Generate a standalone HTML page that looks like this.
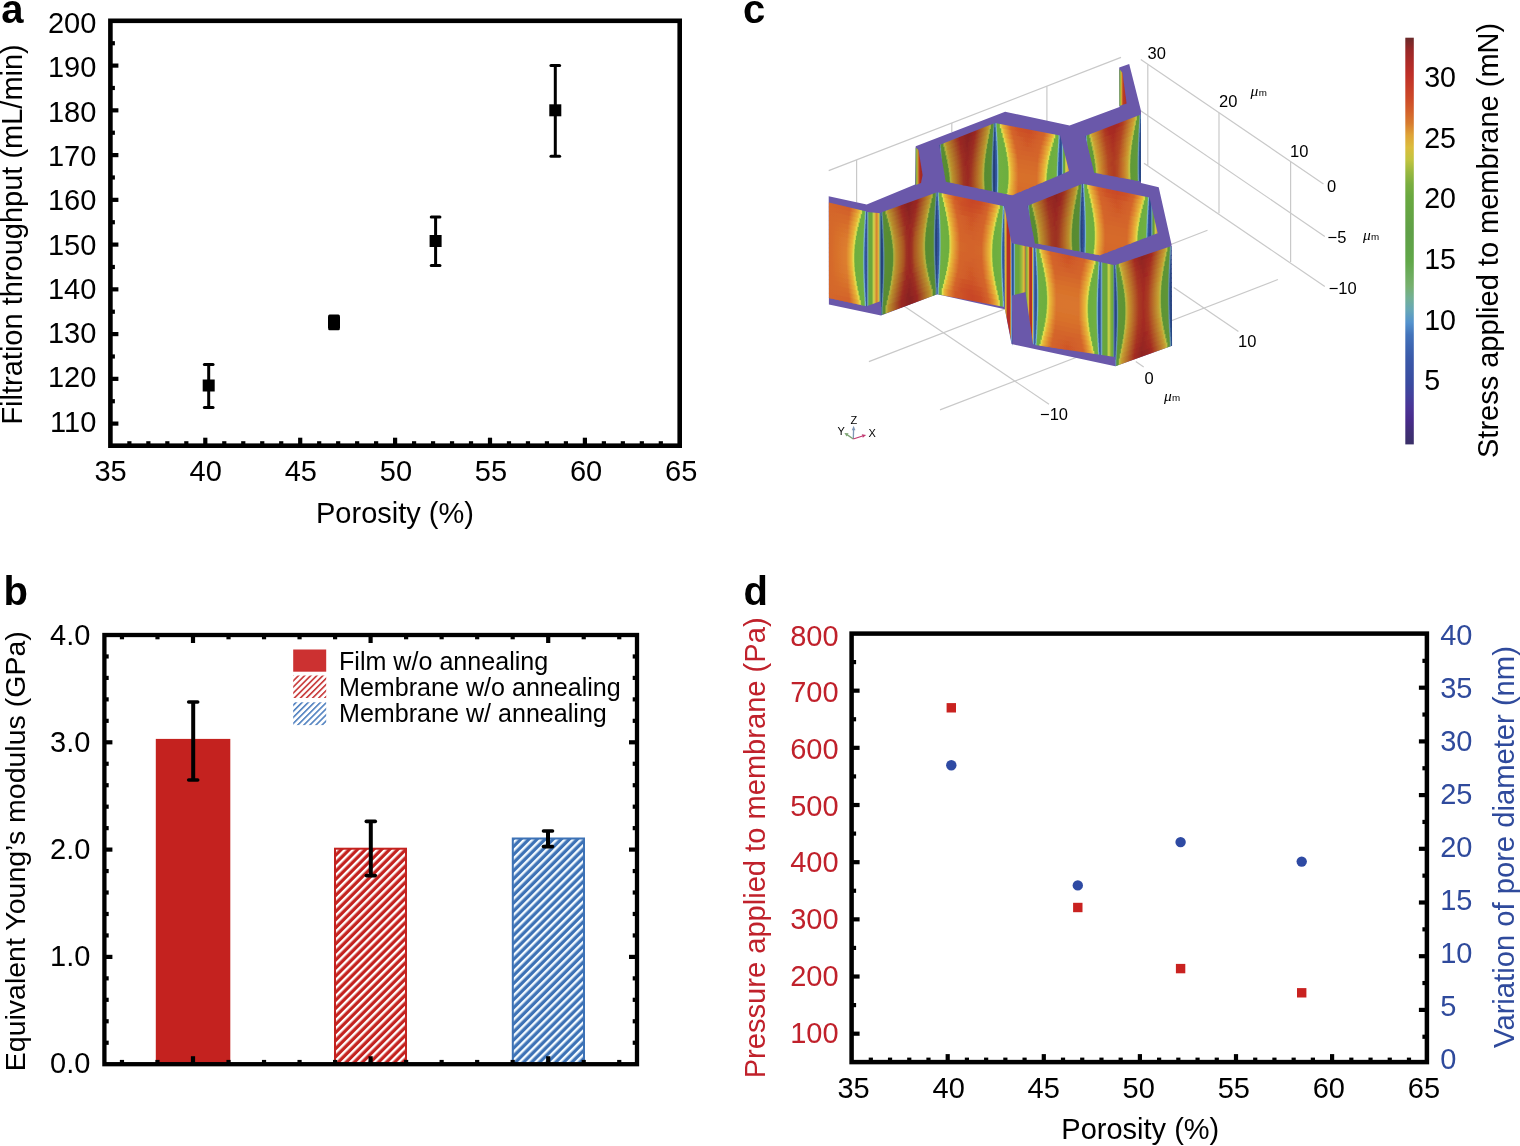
<!DOCTYPE html>
<html><head><meta charset="utf-8"><title>Figure</title>
<style>
html,body{margin:0;padding:0;background:#fff;}
svg{display:block;}
text{font-family:'Liberation Sans', Arial, Helvetica, sans-serif;}
</style></head><body>
<svg width="1520" height="1146" viewBox="0 0 1520 1146">
<defs><pattern id="hr" patternUnits="userSpaceOnUse" width="5.7" height="10" patternTransform="rotate(45)"><rect width="5.7" height="10" fill="#c4221f"/><rect x="0" width="2.4" height="10" fill="#fff"/></pattern><pattern id="hb" patternUnits="userSpaceOnUse" width="5.7" height="10" patternTransform="rotate(45)"><rect width="5.7" height="10" fill="#3d72b6"/><rect x="0" width="2.4" height="10" fill="#f4fbff"/></pattern><pattern id="lr" patternUnits="userSpaceOnUse" width="4.3" height="10" patternTransform="rotate(45)"><rect width="4.3" height="10" fill="#fff"/><rect x="0" width="1.6" height="10" fill="#c83a3a"/></pattern><pattern id="lb" patternUnits="userSpaceOnUse" width="4.3" height="10" patternTransform="rotate(45)"><rect width="4.3" height="10" fill="#fff"/><rect x="0" width="1.6" height="10" fill="#4f80bf"/></pattern><linearGradient id="cb" x1="0" y1="0" x2="0" y2="1"><stop offset="0" stop-color="#6a2a2a"/><stop offset="0.03" stop-color="#982828"/><stop offset="0.06" stop-color="#ad2b28"/><stop offset="0.09" stop-color="#be2f28"/><stop offset="0.12" stop-color="#c63c28"/><stop offset="0.15" stop-color="#cd4a28"/><stop offset="0.18" stop-color="#d3602b"/><stop offset="0.21" stop-color="#d77b2f"/><stop offset="0.24" stop-color="#dfa437"/><stop offset="0.27" stop-color="#dbbd3d"/><stop offset="0.3" stop-color="#c2c440"/><stop offset="0.33" stop-color="#99b840"/><stop offset="0.36" stop-color="#7aae40"/><stop offset="0.39" stop-color="#6aa940"/><stop offset="0.42" stop-color="#66a642"/><stop offset="0.45" stop-color="#63a345"/><stop offset="0.48" stop-color="#60a048"/><stop offset="0.52" stop-color="#60a448"/><stop offset="0.55" stop-color="#61a849"/><stop offset="0.58" stop-color="#6cac5c"/><stop offset="0.61" stop-color="#77b06e"/><stop offset="0.64" stop-color="#73b095"/><stop offset="0.67" stop-color="#67a7b7"/><stop offset="0.7" stop-color="#5593cd"/><stop offset="0.73" stop-color="#4374bb"/><stop offset="0.76" stop-color="#3d65b1"/><stop offset="0.79" stop-color="#3a59a9"/><stop offset="0.82" stop-color="#3a52a4"/><stop offset="0.85" stop-color="#3a4ba0"/><stop offset="0.88" stop-color="#43409c"/><stop offset="0.91" stop-color="#4a3496"/><stop offset="0.94" stop-color="#482b8b"/><stop offset="0.97" stop-color="#402e76"/><stop offset="1" stop-color="#3a3068"/></linearGradient><linearGradient id="g0" x1="0" y1="0" x2="1" y2="0"><stop offset="0" stop-color="#d4662a"/><stop offset="0.549" stop-color="#d15e29"/><stop offset="0.699" stop-color="#e18b31"/><stop offset="0.796" stop-color="#e8b538"/><stop offset="0.841" stop-color="#e1d94c"/><stop offset="0.85" stop-color="#e0e050"/><stop offset="0.858" stop-color="#cfd74a"/><stop offset="0.885" stop-color="#6cae40"/><stop offset="0.929" stop-color="#70b042"/><stop offset="0.956" stop-color="#79b4b8"/><stop offset="0.965" stop-color="#7bb3d5"/><stop offset="0.982" stop-color="#3d6bb2"/><stop offset="1" stop-color="#2a4a90"/></linearGradient><linearGradient id="g1" x1="0" y1="0" x2="1" y2="0"><stop offset="0" stop-color="#d4662a"/><stop offset="0.54" stop-color="#d3632a"/><stop offset="0.761" stop-color="#e7b337"/><stop offset="0.814" stop-color="#e1dc4e"/><stop offset="0.823" stop-color="#dcde4f"/><stop offset="0.85" stop-color="#7db440"/><stop offset="0.858" stop-color="#6cae40"/><stop offset="0.92" stop-color="#70b040"/><stop offset="0.929" stop-color="#70b05c"/><stop offset="0.956" stop-color="#80b8d6"/><stop offset="0.973" stop-color="#4372b5"/><stop offset="0.982" stop-color="#325aa1"/><stop offset="1" stop-color="#2a4a90"/></linearGradient><linearGradient id="g2" x1="0" y1="0" x2="1" y2="0"><stop offset="0" stop-color="#d4662a"/><stop offset="0.531" stop-color="#d5682a"/><stop offset="0.735" stop-color="#e7b537"/><stop offset="0.788" stop-color="#e0df4f"/><stop offset="0.796" stop-color="#d5da4c"/><stop offset="0.805" stop-color="#b0c840"/><stop offset="0.823" stop-color="#71b040"/><stop offset="0.912" stop-color="#70b040"/><stop offset="0.92" stop-color="#70b055"/><stop offset="0.947" stop-color="#7eb7ce"/><stop offset="0.956" stop-color="#699ecb"/><stop offset="0.973" stop-color="#355ea6"/><stop offset="1" stop-color="#2a4a90"/></linearGradient><linearGradient id="g3" x1="0" y1="0" x2="1" y2="0"><stop offset="0" stop-color="#d4662a"/><stop offset="0.513" stop-color="#d66c2b"/><stop offset="0.708" stop-color="#e8b538"/><stop offset="0.761" stop-color="#e0e050"/><stop offset="0.77" stop-color="#ced74a"/><stop offset="0.796" stop-color="#6cae40"/><stop offset="0.903" stop-color="#70b040"/><stop offset="0.912" stop-color="#70b04c"/><stop offset="0.938" stop-color="#7cb6c4"/><stop offset="0.947" stop-color="#71a7d0"/><stop offset="0.965" stop-color="#3863ab"/><stop offset="1" stop-color="#2a4a90"/></linearGradient><linearGradient id="g4" x1="0" y1="0" x2="1" y2="0"><stop offset="0" stop-color="#d4662a"/><stop offset="0.504" stop-color="#d8712c"/><stop offset="0.681" stop-color="#e8b538"/><stop offset="0.735" stop-color="#e0e050"/><stop offset="0.743" stop-color="#d0d84b"/><stop offset="0.752" stop-color="#acc640"/><stop offset="0.77" stop-color="#6dae40"/><stop offset="0.903" stop-color="#70b042"/><stop offset="0.929" stop-color="#79b5b9"/><stop offset="0.938" stop-color="#7bb2d5"/><stop offset="0.956" stop-color="#3d6bb2"/><stop offset="0.965" stop-color="#32589f"/><stop offset="1" stop-color="#2a4a90"/></linearGradient><linearGradient id="g5" x1="0" y1="0" x2="1" y2="0"><stop offset="0" stop-color="#d4662a"/><stop offset="0.496" stop-color="#d9752d"/><stop offset="0.655" stop-color="#e7b437"/><stop offset="0.708" stop-color="#e1dd4e"/><stop offset="0.717" stop-color="#dadd4e"/><stop offset="0.743" stop-color="#78b340"/><stop offset="0.752" stop-color="#6cae40"/><stop offset="0.894" stop-color="#70b040"/><stop offset="0.903" stop-color="#70b056"/><stop offset="0.929" stop-color="#7eb7d0"/><stop offset="0.938" stop-color="#689cca"/><stop offset="0.956" stop-color="#345da5"/><stop offset="1" stop-color="#2a4a90"/></linearGradient><linearGradient id="g6" x1="0" y1="0" x2="1" y2="0"><stop offset="0" stop-color="#d4662a"/><stop offset="0.487" stop-color="#db792d"/><stop offset="0.637" stop-color="#e7b537"/><stop offset="0.69" stop-color="#e0e050"/><stop offset="0.699" stop-color="#d2d94b"/><stop offset="0.708" stop-color="#adc740"/><stop offset="0.726" stop-color="#6faf40"/><stop offset="0.885" stop-color="#6fb040"/><stop offset="0.894" stop-color="#70b047"/><stop offset="0.92" stop-color="#7ab5be"/><stop offset="0.929" stop-color="#76add3"/><stop offset="0.947" stop-color="#3967af"/><stop offset="0.956" stop-color="#32589f"/><stop offset="1" stop-color="#2a4a90"/></linearGradient><linearGradient id="g7" x1="0" y1="0" x2="1" y2="0"><stop offset="0" stop-color="#d4662a"/><stop offset="0.478" stop-color="#dc7c2e"/><stop offset="0.619" stop-color="#e7b437"/><stop offset="0.673" stop-color="#e0df4f"/><stop offset="0.681" stop-color="#d6db4d"/><stop offset="0.69" stop-color="#b1c840"/><stop offset="0.708" stop-color="#72b040"/><stop offset="0.717" stop-color="#6cae40"/><stop offset="0.885" stop-color="#70b040"/><stop offset="0.894" stop-color="#70b055"/><stop offset="0.92" stop-color="#7eb7ce"/><stop offset="0.929" stop-color="#699dcb"/><stop offset="0.947" stop-color="#355ea5"/><stop offset="1" stop-color="#2a4a90"/></linearGradient><linearGradient id="g8" x1="0" y1="0" x2="1" y2="0"><stop offset="0" stop-color="#d4662a"/><stop offset="0.469" stop-color="#dc7d2e"/><stop offset="0.611" stop-color="#e8b738"/><stop offset="0.664" stop-color="#dddf4f"/><stop offset="0.681" stop-color="#a2c340"/><stop offset="0.699" stop-color="#6cae40"/><stop offset="0.885" stop-color="#70b040"/><stop offset="0.92" stop-color="#7db5d7"/><stop offset="0.938" stop-color="#3f6eb3"/><stop offset="0.947" stop-color="#3259a0"/><stop offset="1" stop-color="#2a4a90"/></linearGradient><linearGradient id="g9" x1="0" y1="0" x2="1" y2="0"><stop offset="0" stop-color="#d4662a"/><stop offset="0.46" stop-color="#dd7e2e"/><stop offset="0.602" stop-color="#e8b738"/><stop offset="0.655" stop-color="#dddf4f"/><stop offset="0.673" stop-color="#a3c340"/><stop offset="0.69" stop-color="#6cae40"/><stop offset="0.876" stop-color="#6fb040"/><stop offset="0.885" stop-color="#70b047"/><stop offset="0.912" stop-color="#7ab5be"/><stop offset="0.92" stop-color="#76add2"/><stop offset="0.938" stop-color="#3967af"/><stop offset="0.947" stop-color="#32589f"/><stop offset="1" stop-color="#2a4a90"/></linearGradient><linearGradient id="g10" x1="0" y1="0" x2="1" y2="0"><stop offset="0" stop-color="#d4662a"/><stop offset="0.46" stop-color="#dd7f2e"/><stop offset="0.593" stop-color="#e7b437"/><stop offset="0.646" stop-color="#e0de4f"/><stop offset="0.655" stop-color="#d8dc4d"/><stop offset="0.664" stop-color="#b3c941"/><stop offset="0.681" stop-color="#74b140"/><stop offset="0.69" stop-color="#6cae40"/><stop offset="0.876" stop-color="#70b040"/><stop offset="0.885" stop-color="#70b04b"/><stop offset="0.912" stop-color="#7bb6c3"/><stop offset="0.92" stop-color="#73a9d0"/><stop offset="0.938" stop-color="#3864ac"/><stop offset="0.947" stop-color="#31589f"/><stop offset="1" stop-color="#2a4a90"/></linearGradient><linearGradient id="g11" x1="0" y1="0" x2="1" y2="0"><stop offset="0" stop-color="#d4662a"/><stop offset="0.46" stop-color="#dd7f2e"/><stop offset="0.593" stop-color="#e7b437"/><stop offset="0.646" stop-color="#e0de4f"/><stop offset="0.655" stop-color="#d8dc4d"/><stop offset="0.664" stop-color="#b3c941"/><stop offset="0.681" stop-color="#74b140"/><stop offset="0.69" stop-color="#6cae40"/><stop offset="0.876" stop-color="#70b040"/><stop offset="0.885" stop-color="#70b04b"/><stop offset="0.912" stop-color="#7bb6c3"/><stop offset="0.92" stop-color="#73a9d0"/><stop offset="0.938" stop-color="#3864ac"/><stop offset="0.947" stop-color="#31589f"/><stop offset="1" stop-color="#2a4a90"/></linearGradient><linearGradient id="g12" x1="0" y1="0" x2="1" y2="0"><stop offset="0" stop-color="#d4662a"/><stop offset="0.46" stop-color="#dd7e2e"/><stop offset="0.602" stop-color="#e8b738"/><stop offset="0.655" stop-color="#dddf4f"/><stop offset="0.673" stop-color="#a3c340"/><stop offset="0.69" stop-color="#6cae40"/><stop offset="0.876" stop-color="#6fb040"/><stop offset="0.885" stop-color="#70b047"/><stop offset="0.912" stop-color="#7ab5be"/><stop offset="0.92" stop-color="#76add2"/><stop offset="0.938" stop-color="#3967af"/><stop offset="0.947" stop-color="#32589f"/><stop offset="1" stop-color="#2a4a90"/></linearGradient><linearGradient id="g13" x1="0" y1="0" x2="1" y2="0"><stop offset="0" stop-color="#d4662a"/><stop offset="0.469" stop-color="#dc7d2e"/><stop offset="0.611" stop-color="#e8b738"/><stop offset="0.664" stop-color="#dddf4f"/><stop offset="0.681" stop-color="#a2c340"/><stop offset="0.699" stop-color="#6cae40"/><stop offset="0.885" stop-color="#70b040"/><stop offset="0.92" stop-color="#7db5d7"/><stop offset="0.938" stop-color="#3f6eb3"/><stop offset="0.947" stop-color="#3259a0"/><stop offset="1" stop-color="#2a4a90"/></linearGradient><linearGradient id="g14" x1="0" y1="0" x2="1" y2="0"><stop offset="0" stop-color="#d4662a"/><stop offset="0.478" stop-color="#dc7c2e"/><stop offset="0.619" stop-color="#e7b437"/><stop offset="0.673" stop-color="#e0df4f"/><stop offset="0.681" stop-color="#d6db4d"/><stop offset="0.69" stop-color="#b1c840"/><stop offset="0.708" stop-color="#72b040"/><stop offset="0.717" stop-color="#6cae40"/><stop offset="0.885" stop-color="#70b040"/><stop offset="0.894" stop-color="#70b055"/><stop offset="0.92" stop-color="#7eb7ce"/><stop offset="0.929" stop-color="#699dcb"/><stop offset="0.947" stop-color="#355ea5"/><stop offset="1" stop-color="#2a4a90"/></linearGradient><linearGradient id="g15" x1="0" y1="0" x2="1" y2="0"><stop offset="0" stop-color="#d4662a"/><stop offset="0.487" stop-color="#db792d"/><stop offset="0.637" stop-color="#e7b537"/><stop offset="0.69" stop-color="#e0e050"/><stop offset="0.699" stop-color="#d2d94b"/><stop offset="0.708" stop-color="#adc740"/><stop offset="0.726" stop-color="#6faf40"/><stop offset="0.885" stop-color="#6fb040"/><stop offset="0.894" stop-color="#70b047"/><stop offset="0.92" stop-color="#7ab5be"/><stop offset="0.929" stop-color="#76add3"/><stop offset="0.947" stop-color="#3967af"/><stop offset="0.956" stop-color="#32589f"/><stop offset="1" stop-color="#2a4a90"/></linearGradient><linearGradient id="g16" x1="0" y1="0" x2="1" y2="0"><stop offset="0" stop-color="#d4662a"/><stop offset="0.496" stop-color="#d9752d"/><stop offset="0.655" stop-color="#e7b437"/><stop offset="0.708" stop-color="#e1dd4e"/><stop offset="0.717" stop-color="#dadd4e"/><stop offset="0.743" stop-color="#78b340"/><stop offset="0.752" stop-color="#6cae40"/><stop offset="0.894" stop-color="#70b040"/><stop offset="0.903" stop-color="#70b056"/><stop offset="0.929" stop-color="#7eb7d0"/><stop offset="0.938" stop-color="#689cca"/><stop offset="0.956" stop-color="#345da5"/><stop offset="1" stop-color="#2a4a90"/></linearGradient><linearGradient id="g17" x1="0" y1="0" x2="1" y2="0"><stop offset="0" stop-color="#d4662a"/><stop offset="0.504" stop-color="#d8712c"/><stop offset="0.681" stop-color="#e8b538"/><stop offset="0.735" stop-color="#e0e050"/><stop offset="0.743" stop-color="#d0d84b"/><stop offset="0.752" stop-color="#acc640"/><stop offset="0.77" stop-color="#6dae40"/><stop offset="0.903" stop-color="#70b042"/><stop offset="0.929" stop-color="#79b5b9"/><stop offset="0.938" stop-color="#7bb2d5"/><stop offset="0.956" stop-color="#3d6bb2"/><stop offset="0.965" stop-color="#32589f"/><stop offset="1" stop-color="#2a4a90"/></linearGradient><linearGradient id="g18" x1="0" y1="0" x2="1" y2="0"><stop offset="0" stop-color="#d4662a"/><stop offset="0.513" stop-color="#d66c2b"/><stop offset="0.708" stop-color="#e8b538"/><stop offset="0.761" stop-color="#e0e050"/><stop offset="0.77" stop-color="#ced74a"/><stop offset="0.796" stop-color="#6cae40"/><stop offset="0.903" stop-color="#70b040"/><stop offset="0.912" stop-color="#70b04c"/><stop offset="0.938" stop-color="#7cb6c4"/><stop offset="0.947" stop-color="#71a7d0"/><stop offset="0.965" stop-color="#3863ab"/><stop offset="1" stop-color="#2a4a90"/></linearGradient><linearGradient id="g19" x1="0" y1="0" x2="1" y2="0"><stop offset="0" stop-color="#d4662a"/><stop offset="0.531" stop-color="#d5682a"/><stop offset="0.735" stop-color="#e7b537"/><stop offset="0.788" stop-color="#e0df4f"/><stop offset="0.796" stop-color="#d5da4c"/><stop offset="0.805" stop-color="#b0c840"/><stop offset="0.823" stop-color="#71b040"/><stop offset="0.912" stop-color="#70b040"/><stop offset="0.92" stop-color="#70b055"/><stop offset="0.947" stop-color="#7eb7ce"/><stop offset="0.956" stop-color="#699ecb"/><stop offset="0.973" stop-color="#355ea6"/><stop offset="1" stop-color="#2a4a90"/></linearGradient><linearGradient id="g20" x1="0" y1="0" x2="1" y2="0"><stop offset="0" stop-color="#d4662a"/><stop offset="0.54" stop-color="#d3632a"/><stop offset="0.761" stop-color="#e7b337"/><stop offset="0.814" stop-color="#e1dc4e"/><stop offset="0.823" stop-color="#dcde4f"/><stop offset="0.85" stop-color="#7db440"/><stop offset="0.858" stop-color="#6cae40"/><stop offset="0.92" stop-color="#70b040"/><stop offset="0.929" stop-color="#70b05c"/><stop offset="0.956" stop-color="#80b8d6"/><stop offset="0.973" stop-color="#4372b5"/><stop offset="0.982" stop-color="#325aa1"/><stop offset="1" stop-color="#2a4a90"/></linearGradient><linearGradient id="g21" x1="0" y1="0" x2="1" y2="0"><stop offset="0" stop-color="#d4662a"/><stop offset="0.549" stop-color="#d15e29"/><stop offset="0.699" stop-color="#e18b31"/><stop offset="0.796" stop-color="#e8b538"/><stop offset="0.841" stop-color="#e1d94c"/><stop offset="0.85" stop-color="#e0e050"/><stop offset="0.858" stop-color="#cfd74a"/><stop offset="0.885" stop-color="#6cae40"/><stop offset="0.929" stop-color="#70b042"/><stop offset="0.956" stop-color="#79b4b8"/><stop offset="0.965" stop-color="#7bb3d5"/><stop offset="0.982" stop-color="#3d6bb2"/><stop offset="1" stop-color="#2a4a90"/></linearGradient><linearGradient id="g22" x1="0" y1="0" x2="1" y2="0"><stop offset="0" stop-color="#2c4d90"/><stop offset="0.08" stop-color="#77adc0"/><stop offset="0.16" stop-color="#6aa73d"/><stop offset="0.36" stop-color="#67a53d"/><stop offset="0.5" stop-color="#d5d54c"/><stop offset="0.7" stop-color="#d5812e"/><stop offset="0.84" stop-color="#dabb3d"/><stop offset="0.92" stop-color="#6aa789"/><stop offset="1" stop-color="#2c4d90"/></linearGradient><linearGradient id="g23" x1="0" y1="0" x2="1" y2="0"><stop offset="0" stop-color="#223b73"/><stop offset="0.012" stop-color="#31568e"/><stop offset="0.024" stop-color="#638fab"/><stop offset="0.048" stop-color="#5a8d34"/><stop offset="0.077" stop-color="#578c33"/><stop offset="0.095" stop-color="#a7ad3c"/><stop offset="0.101" stop-color="#b3b340"/><stop offset="0.131" stop-color="#b9962e"/><stop offset="0.363" stop-color="#9a2720"/><stop offset="0.482" stop-color="#872220"/><stop offset="0.637" stop-color="#9a2720"/><stop offset="0.863" stop-color="#b9912c"/><stop offset="0.899" stop-color="#b3b340"/><stop offset="0.905" stop-color="#a7ad3c"/><stop offset="0.923" stop-color="#578c33"/><stop offset="0.952" stop-color="#5a8d34"/><stop offset="0.976" stop-color="#638fab"/><stop offset="0.988" stop-color="#31568e"/><stop offset="1" stop-color="#223b73"/></linearGradient><linearGradient id="g24" x1="0" y1="0" x2="1" y2="0"><stop offset="0" stop-color="#223b73"/><stop offset="0.012" stop-color="#284881"/><stop offset="0.018" stop-color="#365c91"/><stop offset="0.03" stop-color="#6693ab"/><stop offset="0.048" stop-color="#5a8d49"/><stop offset="0.054" stop-color="#5a8d33"/><stop offset="0.095" stop-color="#578b33"/><stop offset="0.101" stop-color="#659133"/><stop offset="0.119" stop-color="#b0b23f"/><stop offset="0.149" stop-color="#b99930"/><stop offset="0.375" stop-color="#9b2a20"/><stop offset="0.482" stop-color="#8a2320"/><stop offset="0.619" stop-color="#9a2820"/><stop offset="0.845" stop-color="#ba932d"/><stop offset="0.881" stop-color="#b0b23f"/><stop offset="0.899" stop-color="#659133"/><stop offset="0.905" stop-color="#578b33"/><stop offset="0.946" stop-color="#5a8d33"/><stop offset="0.952" stop-color="#5a8d49"/><stop offset="0.97" stop-color="#6693ab"/><stop offset="0.982" stop-color="#365c91"/><stop offset="0.988" stop-color="#284881"/><stop offset="1" stop-color="#223b73"/></linearGradient><linearGradient id="g25" x1="0" y1="0" x2="1" y2="0"><stop offset="0" stop-color="#223b73"/><stop offset="0.018" stop-color="#2a4c85"/><stop offset="0.03" stop-color="#547fa3"/><stop offset="0.036" stop-color="#6592a4"/><stop offset="0.054" stop-color="#5a8d43"/><stop offset="0.06" stop-color="#598d33"/><stop offset="0.113" stop-color="#578b33"/><stop offset="0.119" stop-color="#5c8d33"/><stop offset="0.137" stop-color="#acb03e"/><stop offset="0.173" stop-color="#b9952e"/><stop offset="0.393" stop-color="#9b2a20"/><stop offset="0.5" stop-color="#8d2320"/><stop offset="0.607" stop-color="#9b2a20"/><stop offset="0.827" stop-color="#b9952e"/><stop offset="0.863" stop-color="#acb03e"/><stop offset="0.881" stop-color="#5c8d33"/><stop offset="0.887" stop-color="#578b33"/><stop offset="0.94" stop-color="#598d33"/><stop offset="0.946" stop-color="#5a8d43"/><stop offset="0.964" stop-color="#6592a4"/><stop offset="0.97" stop-color="#547fa3"/><stop offset="0.982" stop-color="#2a4c85"/><stop offset="1" stop-color="#223b73"/></linearGradient><linearGradient id="g26" x1="0" y1="0" x2="1" y2="0"><stop offset="0" stop-color="#223b73"/><stop offset="0.024" stop-color="#2d5089"/><stop offset="0.036" stop-color="#5b86a6"/><stop offset="0.042" stop-color="#63919d"/><stop offset="0.06" stop-color="#5a8d3c"/><stop offset="0.065" stop-color="#598d33"/><stop offset="0.137" stop-color="#578c33"/><stop offset="0.155" stop-color="#a7ad3c"/><stop offset="0.161" stop-color="#b3b340"/><stop offset="0.196" stop-color="#b9912c"/><stop offset="0.411" stop-color="#9b2a20"/><stop offset="0.512" stop-color="#902420"/><stop offset="0.601" stop-color="#9d2e20"/><stop offset="0.81" stop-color="#b9962e"/><stop offset="0.839" stop-color="#b3b340"/><stop offset="0.845" stop-color="#a7ad3c"/><stop offset="0.863" stop-color="#578c33"/><stop offset="0.935" stop-color="#598d33"/><stop offset="0.94" stop-color="#5a8d3c"/><stop offset="0.958" stop-color="#63919d"/><stop offset="0.964" stop-color="#5b86a6"/><stop offset="0.976" stop-color="#2d5089"/><stop offset="1" stop-color="#223b73"/></linearGradient><linearGradient id="g27" x1="0" y1="0" x2="1" y2="0"><stop offset="0" stop-color="#223b73"/><stop offset="0.024" stop-color="#284780"/><stop offset="0.03" stop-color="#31568e"/><stop offset="0.042" stop-color="#638fab"/><stop offset="0.065" stop-color="#5a8d34"/><stop offset="0.155" stop-color="#598c33"/><stop offset="0.173" stop-color="#a9ae3c"/><stop offset="0.179" stop-color="#b3b340"/><stop offset="0.214" stop-color="#b9912c"/><stop offset="0.417" stop-color="#9c2d20"/><stop offset="0.512" stop-color="#932520"/><stop offset="0.589" stop-color="#9d3020"/><stop offset="0.792" stop-color="#b9962e"/><stop offset="0.821" stop-color="#b3b340"/><stop offset="0.827" stop-color="#a9ae3c"/><stop offset="0.845" stop-color="#598c33"/><stop offset="0.935" stop-color="#5a8d34"/><stop offset="0.958" stop-color="#638fab"/><stop offset="0.97" stop-color="#31568e"/><stop offset="0.976" stop-color="#284780"/><stop offset="1" stop-color="#223b73"/></linearGradient><linearGradient id="g28" x1="0" y1="0" x2="1" y2="0"><stop offset="0" stop-color="#223b73"/><stop offset="0.03" stop-color="#2a4b84"/><stop offset="0.042" stop-color="#547ea2"/><stop offset="0.048" stop-color="#6592a5"/><stop offset="0.065" stop-color="#5a8d44"/><stop offset="0.071" stop-color="#598d33"/><stop offset="0.167" stop-color="#568b33"/><stop offset="0.173" stop-color="#629033"/><stop offset="0.19" stop-color="#afb13f"/><stop offset="0.196" stop-color="#b4b13e"/><stop offset="0.232" stop-color="#b98f2c"/><stop offset="0.458" stop-color="#992620"/><stop offset="0.565" stop-color="#9c2c20"/><stop offset="0.774" stop-color="#ba932d"/><stop offset="0.81" stop-color="#afb13f"/><stop offset="0.827" stop-color="#629033"/><stop offset="0.833" stop-color="#568b33"/><stop offset="0.929" stop-color="#598d33"/><stop offset="0.935" stop-color="#5a8d44"/><stop offset="0.952" stop-color="#6592a5"/><stop offset="0.958" stop-color="#547ea2"/><stop offset="0.97" stop-color="#2a4b84"/><stop offset="1" stop-color="#223b73"/></linearGradient><linearGradient id="g29" x1="0" y1="0" x2="1" y2="0"><stop offset="0" stop-color="#223b73"/><stop offset="0.03" stop-color="#28477f"/><stop offset="0.036" stop-color="#2e538c"/><stop offset="0.048" stop-color="#5f8ba9"/><stop offset="0.054" stop-color="#629197"/><stop offset="0.071" stop-color="#5a8d38"/><stop offset="0.077" stop-color="#598d33"/><stop offset="0.179" stop-color="#578b33"/><stop offset="0.185" stop-color="#5b8d33"/><stop offset="0.202" stop-color="#aaaf3d"/><stop offset="0.208" stop-color="#b3b23f"/><stop offset="0.238" stop-color="#b9952e"/><stop offset="0.44" stop-color="#9d2e20"/><stop offset="0.53" stop-color="#9a2620"/><stop offset="0.756" stop-color="#b9902c"/><stop offset="0.792" stop-color="#b3b23f"/><stop offset="0.798" stop-color="#aaaf3d"/><stop offset="0.815" stop-color="#5b8d33"/><stop offset="0.929" stop-color="#5a8d38"/><stop offset="0.946" stop-color="#629197"/><stop offset="0.952" stop-color="#5f8ba9"/><stop offset="0.964" stop-color="#2e538c"/><stop offset="0.97" stop-color="#28477f"/><stop offset="1" stop-color="#223b73"/></linearGradient><linearGradient id="g30" x1="0" y1="0" x2="1" y2="0"><stop offset="0" stop-color="#223b73"/><stop offset="0.036" stop-color="#2a4b85"/><stop offset="0.048" stop-color="#547fa3"/><stop offset="0.054" stop-color="#6592a4"/><stop offset="0.071" stop-color="#5a8d43"/><stop offset="0.077" stop-color="#598d33"/><stop offset="0.19" stop-color="#568b33"/><stop offset="0.196" stop-color="#5d8e33"/><stop offset="0.214" stop-color="#aeb03e"/><stop offset="0.25" stop-color="#b9952e"/><stop offset="0.393" stop-color="#aa5222"/><stop offset="0.44" stop-color="#9e3220"/><stop offset="0.512" stop-color="#9a2620"/><stop offset="0.56" stop-color="#9e3220"/><stop offset="0.607" stop-color="#aa5222"/><stop offset="0.744" stop-color="#b9902c"/><stop offset="0.78" stop-color="#b4b23f"/><stop offset="0.786" stop-color="#aeb03e"/><stop offset="0.804" stop-color="#5d8e33"/><stop offset="0.81" stop-color="#568b33"/><stop offset="0.923" stop-color="#598d33"/><stop offset="0.929" stop-color="#5a8d43"/><stop offset="0.946" stop-color="#6592a4"/><stop offset="0.952" stop-color="#547fa3"/><stop offset="0.964" stop-color="#2a4b85"/><stop offset="1" stop-color="#223b73"/></linearGradient><linearGradient id="g31" x1="0" y1="0" x2="1" y2="0"><stop offset="0" stop-color="#223b73"/><stop offset="0.036" stop-color="#284780"/><stop offset="0.042" stop-color="#33588f"/><stop offset="0.054" stop-color="#6592ac"/><stop offset="0.077" stop-color="#5a8d33"/><stop offset="0.202" stop-color="#568b33"/><stop offset="0.226" stop-color="#b2b340"/><stop offset="0.262" stop-color="#b9912d"/><stop offset="0.405" stop-color="#a95122"/><stop offset="0.446" stop-color="#9e3320"/><stop offset="0.512" stop-color="#9a2820"/><stop offset="0.554" stop-color="#9e3320"/><stop offset="0.595" stop-color="#a95122"/><stop offset="0.732" stop-color="#b98e2c"/><stop offset="0.768" stop-color="#b4af3d"/><stop offset="0.774" stop-color="#b2b340"/><stop offset="0.78" stop-color="#a0aa3a"/><stop offset="0.798" stop-color="#568b33"/><stop offset="0.923" stop-color="#5a8d33"/><stop offset="0.946" stop-color="#6592ac"/><stop offset="0.958" stop-color="#33588f"/><stop offset="0.964" stop-color="#284780"/><stop offset="1" stop-color="#223b73"/></linearGradient><linearGradient id="g32" x1="0" y1="0" x2="1" y2="0"><stop offset="0" stop-color="#223b73"/><stop offset="0.036" stop-color="#28477f"/><stop offset="0.042" stop-color="#2e528c"/><stop offset="0.054" stop-color="#5f8ba9"/><stop offset="0.06" stop-color="#629197"/><stop offset="0.077" stop-color="#5a8d38"/><stop offset="0.083" stop-color="#598d33"/><stop offset="0.208" stop-color="#568b33"/><stop offset="0.232" stop-color="#b2b340"/><stop offset="0.268" stop-color="#b9912d"/><stop offset="0.411" stop-color="#a95122"/><stop offset="0.452" stop-color="#9e3220"/><stop offset="0.506" stop-color="#9a2920"/><stop offset="0.548" stop-color="#9e3220"/><stop offset="0.589" stop-color="#a95122"/><stop offset="0.732" stop-color="#b9912d"/><stop offset="0.762" stop-color="#b4ae3d"/><stop offset="0.768" stop-color="#b2b340"/><stop offset="0.774" stop-color="#a1aa3a"/><stop offset="0.792" stop-color="#568b33"/><stop offset="0.917" stop-color="#598d33"/><stop offset="0.923" stop-color="#5a8d38"/><stop offset="0.94" stop-color="#629197"/><stop offset="0.946" stop-color="#5f8ba9"/><stop offset="0.958" stop-color="#2e528c"/><stop offset="0.964" stop-color="#28477f"/><stop offset="1" stop-color="#223b73"/></linearGradient><linearGradient id="g33" x1="0" y1="0" x2="1" y2="0"><stop offset="0" stop-color="#223b73"/><stop offset="0.036" stop-color="#28467f"/><stop offset="0.042" stop-color="#2d518a"/><stop offset="0.054" stop-color="#5c88a7"/><stop offset="0.06" stop-color="#62919b"/><stop offset="0.077" stop-color="#5a8d3b"/><stop offset="0.083" stop-color="#598d33"/><stop offset="0.208" stop-color="#568b33"/><stop offset="0.214" stop-color="#5f8e33"/><stop offset="0.232" stop-color="#aeb13e"/><stop offset="0.268" stop-color="#b9942d"/><stop offset="0.411" stop-color="#aa5222"/><stop offset="0.452" stop-color="#9e3320"/><stop offset="0.506" stop-color="#9b2920"/><stop offset="0.548" stop-color="#9e3320"/><stop offset="0.589" stop-color="#aa5222"/><stop offset="0.726" stop-color="#b9902c"/><stop offset="0.762" stop-color="#b4b13f"/><stop offset="0.768" stop-color="#aeb13e"/><stop offset="0.786" stop-color="#5f8e33"/><stop offset="0.792" stop-color="#568b33"/><stop offset="0.917" stop-color="#598d33"/><stop offset="0.923" stop-color="#5a8d3b"/><stop offset="0.94" stop-color="#62919b"/><stop offset="0.946" stop-color="#5c88a7"/><stop offset="0.958" stop-color="#2d518a"/><stop offset="0.964" stop-color="#28467f"/><stop offset="1" stop-color="#223b73"/></linearGradient><linearGradient id="g34" x1="0" y1="0" x2="1" y2="0"><stop offset="0" stop-color="#223b73"/><stop offset="0.036" stop-color="#28467f"/><stop offset="0.042" stop-color="#2d518a"/><stop offset="0.054" stop-color="#5c88a7"/><stop offset="0.06" stop-color="#62919b"/><stop offset="0.077" stop-color="#5a8d3b"/><stop offset="0.083" stop-color="#598d33"/><stop offset="0.208" stop-color="#568b33"/><stop offset="0.214" stop-color="#5f8e33"/><stop offset="0.232" stop-color="#aeb13e"/><stop offset="0.268" stop-color="#b9942d"/><stop offset="0.411" stop-color="#aa5222"/><stop offset="0.452" stop-color="#9e3320"/><stop offset="0.506" stop-color="#9b2920"/><stop offset="0.548" stop-color="#9e3320"/><stop offset="0.589" stop-color="#aa5222"/><stop offset="0.726" stop-color="#b9902c"/><stop offset="0.762" stop-color="#b4b13f"/><stop offset="0.768" stop-color="#aeb13e"/><stop offset="0.786" stop-color="#5f8e33"/><stop offset="0.792" stop-color="#568b33"/><stop offset="0.917" stop-color="#598d33"/><stop offset="0.923" stop-color="#5a8d3b"/><stop offset="0.94" stop-color="#62919b"/><stop offset="0.946" stop-color="#5c88a7"/><stop offset="0.958" stop-color="#2d518a"/><stop offset="0.964" stop-color="#28467f"/><stop offset="1" stop-color="#223b73"/></linearGradient><linearGradient id="g35" x1="0" y1="0" x2="1" y2="0"><stop offset="0" stop-color="#223b73"/><stop offset="0.036" stop-color="#28477f"/><stop offset="0.042" stop-color="#2e528c"/><stop offset="0.054" stop-color="#5f8ba9"/><stop offset="0.06" stop-color="#629197"/><stop offset="0.077" stop-color="#5a8d38"/><stop offset="0.083" stop-color="#598d33"/><stop offset="0.208" stop-color="#568b33"/><stop offset="0.232" stop-color="#b2b340"/><stop offset="0.268" stop-color="#b9912d"/><stop offset="0.411" stop-color="#a95122"/><stop offset="0.452" stop-color="#9e3220"/><stop offset="0.506" stop-color="#9a2920"/><stop offset="0.548" stop-color="#9e3220"/><stop offset="0.589" stop-color="#a95122"/><stop offset="0.732" stop-color="#b9912d"/><stop offset="0.762" stop-color="#b4ae3d"/><stop offset="0.768" stop-color="#b2b340"/><stop offset="0.774" stop-color="#a1aa3a"/><stop offset="0.792" stop-color="#568b33"/><stop offset="0.917" stop-color="#598d33"/><stop offset="0.923" stop-color="#5a8d38"/><stop offset="0.94" stop-color="#629197"/><stop offset="0.946" stop-color="#5f8ba9"/><stop offset="0.958" stop-color="#2e528c"/><stop offset="0.964" stop-color="#28477f"/><stop offset="1" stop-color="#223b73"/></linearGradient><linearGradient id="g36" x1="0" y1="0" x2="1" y2="0"><stop offset="0" stop-color="#223b73"/><stop offset="0.036" stop-color="#284780"/><stop offset="0.042" stop-color="#33588f"/><stop offset="0.054" stop-color="#6592ac"/><stop offset="0.077" stop-color="#5a8d33"/><stop offset="0.202" stop-color="#568b33"/><stop offset="0.226" stop-color="#b2b340"/><stop offset="0.262" stop-color="#b9912d"/><stop offset="0.405" stop-color="#a95122"/><stop offset="0.446" stop-color="#9e3320"/><stop offset="0.512" stop-color="#9a2820"/><stop offset="0.554" stop-color="#9e3320"/><stop offset="0.595" stop-color="#a95122"/><stop offset="0.732" stop-color="#b98e2c"/><stop offset="0.768" stop-color="#b4af3d"/><stop offset="0.774" stop-color="#b2b340"/><stop offset="0.78" stop-color="#a0aa3a"/><stop offset="0.798" stop-color="#568b33"/><stop offset="0.923" stop-color="#5a8d33"/><stop offset="0.946" stop-color="#6592ac"/><stop offset="0.958" stop-color="#33588f"/><stop offset="0.964" stop-color="#284780"/><stop offset="1" stop-color="#223b73"/></linearGradient><linearGradient id="g37" x1="0" y1="0" x2="1" y2="0"><stop offset="0" stop-color="#223b73"/><stop offset="0.036" stop-color="#2a4b85"/><stop offset="0.048" stop-color="#547fa3"/><stop offset="0.054" stop-color="#6592a4"/><stop offset="0.071" stop-color="#5a8d43"/><stop offset="0.077" stop-color="#598d33"/><stop offset="0.19" stop-color="#568b33"/><stop offset="0.196" stop-color="#5d8e33"/><stop offset="0.214" stop-color="#aeb03e"/><stop offset="0.25" stop-color="#b9952e"/><stop offset="0.393" stop-color="#aa5222"/><stop offset="0.44" stop-color="#9e3220"/><stop offset="0.512" stop-color="#9a2620"/><stop offset="0.56" stop-color="#9e3220"/><stop offset="0.607" stop-color="#aa5222"/><stop offset="0.744" stop-color="#b9902c"/><stop offset="0.78" stop-color="#b4b23f"/><stop offset="0.786" stop-color="#aeb03e"/><stop offset="0.804" stop-color="#5d8e33"/><stop offset="0.81" stop-color="#568b33"/><stop offset="0.923" stop-color="#598d33"/><stop offset="0.929" stop-color="#5a8d43"/><stop offset="0.946" stop-color="#6592a4"/><stop offset="0.952" stop-color="#547fa3"/><stop offset="0.964" stop-color="#2a4b85"/><stop offset="1" stop-color="#223b73"/></linearGradient><linearGradient id="g38" x1="0" y1="0" x2="1" y2="0"><stop offset="0" stop-color="#223b73"/><stop offset="0.03" stop-color="#28477f"/><stop offset="0.036" stop-color="#2e538c"/><stop offset="0.048" stop-color="#5f8ba9"/><stop offset="0.054" stop-color="#629197"/><stop offset="0.071" stop-color="#5a8d38"/><stop offset="0.077" stop-color="#598d33"/><stop offset="0.179" stop-color="#578b33"/><stop offset="0.185" stop-color="#5b8d33"/><stop offset="0.202" stop-color="#aaaf3d"/><stop offset="0.208" stop-color="#b3b23f"/><stop offset="0.238" stop-color="#b9952e"/><stop offset="0.44" stop-color="#9d2e20"/><stop offset="0.53" stop-color="#9a2620"/><stop offset="0.756" stop-color="#b9902c"/><stop offset="0.792" stop-color="#b3b23f"/><stop offset="0.798" stop-color="#aaaf3d"/><stop offset="0.815" stop-color="#5b8d33"/><stop offset="0.929" stop-color="#5a8d38"/><stop offset="0.946" stop-color="#629197"/><stop offset="0.952" stop-color="#5f8ba9"/><stop offset="0.964" stop-color="#2e538c"/><stop offset="0.97" stop-color="#28477f"/><stop offset="1" stop-color="#223b73"/></linearGradient><linearGradient id="g39" x1="0" y1="0" x2="1" y2="0"><stop offset="0" stop-color="#223b73"/><stop offset="0.03" stop-color="#2a4b84"/><stop offset="0.042" stop-color="#547ea2"/><stop offset="0.048" stop-color="#6592a5"/><stop offset="0.065" stop-color="#5a8d44"/><stop offset="0.071" stop-color="#598d33"/><stop offset="0.167" stop-color="#568b33"/><stop offset="0.173" stop-color="#629033"/><stop offset="0.19" stop-color="#afb13f"/><stop offset="0.196" stop-color="#b4b13e"/><stop offset="0.232" stop-color="#b98f2c"/><stop offset="0.458" stop-color="#992620"/><stop offset="0.565" stop-color="#9c2c20"/><stop offset="0.774" stop-color="#ba932d"/><stop offset="0.81" stop-color="#afb13f"/><stop offset="0.827" stop-color="#629033"/><stop offset="0.833" stop-color="#568b33"/><stop offset="0.929" stop-color="#598d33"/><stop offset="0.935" stop-color="#5a8d44"/><stop offset="0.952" stop-color="#6592a5"/><stop offset="0.958" stop-color="#547ea2"/><stop offset="0.97" stop-color="#2a4b84"/><stop offset="1" stop-color="#223b73"/></linearGradient><linearGradient id="g40" x1="0" y1="0" x2="1" y2="0"><stop offset="0" stop-color="#223b73"/><stop offset="0.024" stop-color="#284780"/><stop offset="0.03" stop-color="#31568e"/><stop offset="0.042" stop-color="#638fab"/><stop offset="0.065" stop-color="#5a8d34"/><stop offset="0.155" stop-color="#598c33"/><stop offset="0.173" stop-color="#a9ae3c"/><stop offset="0.179" stop-color="#b3b340"/><stop offset="0.214" stop-color="#b9912c"/><stop offset="0.417" stop-color="#9c2d20"/><stop offset="0.512" stop-color="#932520"/><stop offset="0.589" stop-color="#9d3020"/><stop offset="0.792" stop-color="#b9962e"/><stop offset="0.821" stop-color="#b3b340"/><stop offset="0.827" stop-color="#a9ae3c"/><stop offset="0.845" stop-color="#598c33"/><stop offset="0.935" stop-color="#5a8d34"/><stop offset="0.958" stop-color="#638fab"/><stop offset="0.97" stop-color="#31568e"/><stop offset="0.976" stop-color="#284780"/><stop offset="1" stop-color="#223b73"/></linearGradient><linearGradient id="g41" x1="0" y1="0" x2="1" y2="0"><stop offset="0" stop-color="#223b73"/><stop offset="0.024" stop-color="#2d5089"/><stop offset="0.036" stop-color="#5b86a6"/><stop offset="0.042" stop-color="#63919d"/><stop offset="0.06" stop-color="#5a8d3c"/><stop offset="0.065" stop-color="#598d33"/><stop offset="0.137" stop-color="#578c33"/><stop offset="0.155" stop-color="#a7ad3c"/><stop offset="0.161" stop-color="#b3b340"/><stop offset="0.196" stop-color="#b9912c"/><stop offset="0.411" stop-color="#9b2a20"/><stop offset="0.512" stop-color="#902420"/><stop offset="0.601" stop-color="#9d2e20"/><stop offset="0.81" stop-color="#b9962e"/><stop offset="0.839" stop-color="#b3b340"/><stop offset="0.845" stop-color="#a7ad3c"/><stop offset="0.863" stop-color="#578c33"/><stop offset="0.935" stop-color="#598d33"/><stop offset="0.94" stop-color="#5a8d3c"/><stop offset="0.958" stop-color="#63919d"/><stop offset="0.964" stop-color="#5b86a6"/><stop offset="0.976" stop-color="#2d5089"/><stop offset="1" stop-color="#223b73"/></linearGradient><linearGradient id="g42" x1="0" y1="0" x2="1" y2="0"><stop offset="0" stop-color="#223b73"/><stop offset="0.018" stop-color="#2a4c85"/><stop offset="0.03" stop-color="#547fa3"/><stop offset="0.036" stop-color="#6592a4"/><stop offset="0.054" stop-color="#5a8d43"/><stop offset="0.06" stop-color="#598d33"/><stop offset="0.113" stop-color="#578b33"/><stop offset="0.119" stop-color="#5c8d33"/><stop offset="0.137" stop-color="#acb03e"/><stop offset="0.173" stop-color="#b9952e"/><stop offset="0.393" stop-color="#9b2a20"/><stop offset="0.5" stop-color="#8d2320"/><stop offset="0.607" stop-color="#9b2a20"/><stop offset="0.827" stop-color="#b9952e"/><stop offset="0.863" stop-color="#acb03e"/><stop offset="0.881" stop-color="#5c8d33"/><stop offset="0.887" stop-color="#578b33"/><stop offset="0.94" stop-color="#598d33"/><stop offset="0.946" stop-color="#5a8d43"/><stop offset="0.964" stop-color="#6592a4"/><stop offset="0.97" stop-color="#547fa3"/><stop offset="0.982" stop-color="#2a4c85"/><stop offset="1" stop-color="#223b73"/></linearGradient><linearGradient id="g43" x1="0" y1="0" x2="1" y2="0"><stop offset="0" stop-color="#223b73"/><stop offset="0.012" stop-color="#284881"/><stop offset="0.018" stop-color="#365c91"/><stop offset="0.03" stop-color="#6693ab"/><stop offset="0.048" stop-color="#5a8d49"/><stop offset="0.054" stop-color="#5a8d33"/><stop offset="0.095" stop-color="#578b33"/><stop offset="0.101" stop-color="#659133"/><stop offset="0.119" stop-color="#b0b23f"/><stop offset="0.149" stop-color="#b99930"/><stop offset="0.375" stop-color="#9b2a20"/><stop offset="0.482" stop-color="#8a2320"/><stop offset="0.619" stop-color="#9a2820"/><stop offset="0.845" stop-color="#ba932d"/><stop offset="0.881" stop-color="#b0b23f"/><stop offset="0.899" stop-color="#659133"/><stop offset="0.905" stop-color="#578b33"/><stop offset="0.946" stop-color="#5a8d33"/><stop offset="0.952" stop-color="#5a8d49"/><stop offset="0.97" stop-color="#6693ab"/><stop offset="0.982" stop-color="#365c91"/><stop offset="0.988" stop-color="#284881"/><stop offset="1" stop-color="#223b73"/></linearGradient><linearGradient id="g44" x1="0" y1="0" x2="1" y2="0"><stop offset="0" stop-color="#223b73"/><stop offset="0.012" stop-color="#31568e"/><stop offset="0.024" stop-color="#638fab"/><stop offset="0.048" stop-color="#5a8d34"/><stop offset="0.077" stop-color="#578c33"/><stop offset="0.095" stop-color="#a7ad3c"/><stop offset="0.101" stop-color="#b3b340"/><stop offset="0.137" stop-color="#b9912c"/><stop offset="0.363" stop-color="#9a2720"/><stop offset="0.518" stop-color="#872220"/><stop offset="0.637" stop-color="#9a2720"/><stop offset="0.869" stop-color="#b9962e"/><stop offset="0.899" stop-color="#b3b340"/><stop offset="0.905" stop-color="#a7ad3c"/><stop offset="0.923" stop-color="#578c33"/><stop offset="0.952" stop-color="#5a8d34"/><stop offset="0.976" stop-color="#638fab"/><stop offset="0.988" stop-color="#31568e"/><stop offset="1" stop-color="#223b73"/></linearGradient><linearGradient id="g45" x1="0" y1="0" x2="1" y2="0"><stop offset="0" stop-color="#2a4a90"/><stop offset="0.01" stop-color="#3d6cb2"/><stop offset="0.02" stop-color="#7bb3d5"/><stop offset="0.025" stop-color="#79b4b8"/><stop offset="0.04" stop-color="#70b041"/><stop offset="0.065" stop-color="#6dae40"/><stop offset="0.075" stop-color="#acc640"/><stop offset="0.08" stop-color="#d0d84b"/><stop offset="0.085" stop-color="#e0e050"/><stop offset="0.114" stop-color="#e7b537"/><stop offset="0.174" stop-color="#e08730"/><stop offset="0.269" stop-color="#d05a28"/><stop offset="0.517" stop-color="#c84528"/><stop offset="0.652" stop-color="#cb4d28"/><stop offset="0.756" stop-color="#d36229"/><stop offset="0.826" stop-color="#e08730"/><stop offset="0.891" stop-color="#e7bb3a"/><stop offset="0.915" stop-color="#e0e050"/><stop offset="0.92" stop-color="#d0d84b"/><stop offset="0.925" stop-color="#acc640"/><stop offset="0.935" stop-color="#6dae40"/><stop offset="0.96" stop-color="#70b041"/><stop offset="0.975" stop-color="#79b4b8"/><stop offset="0.98" stop-color="#7bb3d5"/><stop offset="0.99" stop-color="#3d6cb2"/><stop offset="1" stop-color="#2a4a90"/></linearGradient><linearGradient id="g46" x1="0" y1="0" x2="1" y2="0"><stop offset="0" stop-color="#2a4a90"/><stop offset="0.01" stop-color="#325aa1"/><stop offset="0.015" stop-color="#4373b5"/><stop offset="0.025" stop-color="#80b8d6"/><stop offset="0.04" stop-color="#70b05c"/><stop offset="0.045" stop-color="#70b040"/><stop offset="0.08" stop-color="#6cae40"/><stop offset="0.085" stop-color="#7eb540"/><stop offset="0.1" stop-color="#dcde4f"/><stop offset="0.129" stop-color="#e8b838"/><stop offset="0.254" stop-color="#d4642a"/><stop offset="0.358" stop-color="#cc5028"/><stop offset="0.498" stop-color="#c94928"/><stop offset="0.637" stop-color="#cc5028"/><stop offset="0.741" stop-color="#d3632a"/><stop offset="0.811" stop-color="#e08930"/><stop offset="0.871" stop-color="#e8b838"/><stop offset="0.9" stop-color="#dcde4f"/><stop offset="0.915" stop-color="#7eb540"/><stop offset="0.92" stop-color="#6cae40"/><stop offset="0.955" stop-color="#70b040"/><stop offset="0.96" stop-color="#70b05c"/><stop offset="0.975" stop-color="#80b8d6"/><stop offset="0.985" stop-color="#4373b5"/><stop offset="0.99" stop-color="#325aa1"/><stop offset="1" stop-color="#2a4a90"/></linearGradient><linearGradient id="g47" x1="0" y1="0" x2="1" y2="0"><stop offset="0" stop-color="#2a4a90"/><stop offset="0.015" stop-color="#355ea6"/><stop offset="0.025" stop-color="#699ecb"/><stop offset="0.03" stop-color="#7eb7ce"/><stop offset="0.045" stop-color="#70b055"/><stop offset="0.05" stop-color="#70b040"/><stop offset="0.095" stop-color="#6cae40"/><stop offset="0.1" stop-color="#73b140"/><stop offset="0.109" stop-color="#b2c941"/><stop offset="0.114" stop-color="#d7db4d"/><stop offset="0.119" stop-color="#e0df4f"/><stop offset="0.144" stop-color="#e8ba39"/><stop offset="0.269" stop-color="#d4652a"/><stop offset="0.368" stop-color="#cd5328"/><stop offset="0.502" stop-color="#cb4d28"/><stop offset="0.637" stop-color="#ce5428"/><stop offset="0.731" stop-color="#d4652a"/><stop offset="0.856" stop-color="#e8ba39"/><stop offset="0.881" stop-color="#e0df4f"/><stop offset="0.886" stop-color="#d7db4d"/><stop offset="0.891" stop-color="#b2c941"/><stop offset="0.9" stop-color="#73b140"/><stop offset="0.905" stop-color="#6cae40"/><stop offset="0.95" stop-color="#70b040"/><stop offset="0.955" stop-color="#70b055"/><stop offset="0.97" stop-color="#7eb7ce"/><stop offset="0.975" stop-color="#699ecb"/><stop offset="0.985" stop-color="#355ea6"/><stop offset="1" stop-color="#2a4a90"/></linearGradient><linearGradient id="g48" x1="0" y1="0" x2="1" y2="0"><stop offset="0" stop-color="#2a4a90"/><stop offset="0.02" stop-color="#3864ab"/><stop offset="0.03" stop-color="#72a8d0"/><stop offset="0.035" stop-color="#7cb6c4"/><stop offset="0.05" stop-color="#70b04c"/><stop offset="0.055" stop-color="#70b040"/><stop offset="0.114" stop-color="#6dae40"/><stop offset="0.124" stop-color="#acc640"/><stop offset="0.129" stop-color="#d0d84b"/><stop offset="0.134" stop-color="#e0e050"/><stop offset="0.164" stop-color="#e7b537"/><stop offset="0.284" stop-color="#d4652a"/><stop offset="0.378" stop-color="#ce5628"/><stop offset="0.517" stop-color="#cd5128"/><stop offset="0.716" stop-color="#d4652a"/><stop offset="0.776" stop-color="#e08730"/><stop offset="0.841" stop-color="#e7bb3a"/><stop offset="0.866" stop-color="#e0e050"/><stop offset="0.871" stop-color="#d0d84b"/><stop offset="0.876" stop-color="#acc640"/><stop offset="0.886" stop-color="#6dae40"/><stop offset="0.945" stop-color="#70b040"/><stop offset="0.95" stop-color="#70b04c"/><stop offset="0.965" stop-color="#7cb6c4"/><stop offset="0.97" stop-color="#72a8d0"/><stop offset="0.98" stop-color="#3864ab"/><stop offset="1" stop-color="#2a4a90"/></linearGradient><linearGradient id="g49" x1="0" y1="0" x2="1" y2="0"><stop offset="0" stop-color="#2a4a90"/><stop offset="0.02" stop-color="#32589f"/><stop offset="0.025" stop-color="#3d6cb2"/><stop offset="0.035" stop-color="#7bb3d5"/><stop offset="0.04" stop-color="#79b4b8"/><stop offset="0.055" stop-color="#70b041"/><stop offset="0.129" stop-color="#6faf40"/><stop offset="0.139" stop-color="#aec740"/><stop offset="0.144" stop-color="#d2d94b"/><stop offset="0.149" stop-color="#e0e050"/><stop offset="0.179" stop-color="#e7b537"/><stop offset="0.299" stop-color="#d4652a"/><stop offset="0.522" stop-color="#ce5528"/><stop offset="0.701" stop-color="#d4652a"/><stop offset="0.761" stop-color="#e08730"/><stop offset="0.826" stop-color="#e7bb3a"/><stop offset="0.851" stop-color="#e0e050"/><stop offset="0.856" stop-color="#d2d94b"/><stop offset="0.861" stop-color="#aec740"/><stop offset="0.871" stop-color="#6faf40"/><stop offset="0.945" stop-color="#70b041"/><stop offset="0.96" stop-color="#79b4b8"/><stop offset="0.965" stop-color="#7bb3d5"/><stop offset="0.975" stop-color="#3d6cb2"/><stop offset="0.98" stop-color="#32589f"/><stop offset="1" stop-color="#2a4a90"/></linearGradient><linearGradient id="g50" x1="0" y1="0" x2="1" y2="0"><stop offset="0" stop-color="#2a4a90"/><stop offset="0.025" stop-color="#355ea5"/><stop offset="0.035" stop-color="#689dca"/><stop offset="0.04" stop-color="#7eb7cf"/><stop offset="0.055" stop-color="#70b056"/><stop offset="0.06" stop-color="#70b040"/><stop offset="0.139" stop-color="#6cae40"/><stop offset="0.144" stop-color="#7ab340"/><stop offset="0.159" stop-color="#dbdd4e"/><stop offset="0.189" stop-color="#e8b838"/><stop offset="0.313" stop-color="#d4652a"/><stop offset="0.502" stop-color="#cf5828"/><stop offset="0.687" stop-color="#d4652a"/><stop offset="0.811" stop-color="#e8b838"/><stop offset="0.841" stop-color="#dbdd4e"/><stop offset="0.856" stop-color="#7ab340"/><stop offset="0.861" stop-color="#6cae40"/><stop offset="0.94" stop-color="#70b040"/><stop offset="0.945" stop-color="#70b056"/><stop offset="0.96" stop-color="#7eb7cf"/><stop offset="0.965" stop-color="#689dca"/><stop offset="0.975" stop-color="#355ea5"/><stop offset="1" stop-color="#2a4a90"/></linearGradient><linearGradient id="g51" x1="0" y1="0" x2="1" y2="0"><stop offset="0" stop-color="#2a4a90"/><stop offset="0.025" stop-color="#32589f"/><stop offset="0.03" stop-color="#3a67af"/><stop offset="0.04" stop-color="#77aed3"/><stop offset="0.045" stop-color="#7ab5bd"/><stop offset="0.06" stop-color="#70b046"/><stop offset="0.065" stop-color="#6fb040"/><stop offset="0.149" stop-color="#6cae40"/><stop offset="0.154" stop-color="#71b040"/><stop offset="0.164" stop-color="#b0c840"/><stop offset="0.169" stop-color="#d4da4c"/><stop offset="0.174" stop-color="#e0df4f"/><stop offset="0.199" stop-color="#e7bb3a"/><stop offset="0.264" stop-color="#e08730"/><stop offset="0.323" stop-color="#d4652a"/><stop offset="0.502" stop-color="#d05b28"/><stop offset="0.677" stop-color="#d4652a"/><stop offset="0.736" stop-color="#e08730"/><stop offset="0.801" stop-color="#e7bb3a"/><stop offset="0.826" stop-color="#e0df4f"/><stop offset="0.831" stop-color="#d4da4c"/><stop offset="0.836" stop-color="#b0c840"/><stop offset="0.846" stop-color="#71b040"/><stop offset="0.851" stop-color="#6cae40"/><stop offset="0.935" stop-color="#6fb040"/><stop offset="0.94" stop-color="#70b046"/><stop offset="0.955" stop-color="#7ab5bd"/><stop offset="0.96" stop-color="#77aed3"/><stop offset="0.97" stop-color="#3a67af"/><stop offset="0.975" stop-color="#32589f"/><stop offset="1" stop-color="#2a4a90"/></linearGradient><linearGradient id="g52" x1="0" y1="0" x2="1" y2="0"><stop offset="0" stop-color="#2a4a90"/><stop offset="0.03" stop-color="#355ea6"/><stop offset="0.04" stop-color="#699ecb"/><stop offset="0.045" stop-color="#7eb7ce"/><stop offset="0.06" stop-color="#70b055"/><stop offset="0.065" stop-color="#70b040"/><stop offset="0.159" stop-color="#6cae40"/><stop offset="0.164" stop-color="#74b140"/><stop offset="0.174" stop-color="#b3ca41"/><stop offset="0.179" stop-color="#d8dc4d"/><stop offset="0.184" stop-color="#e0de4f"/><stop offset="0.209" stop-color="#e8ba39"/><stop offset="0.274" stop-color="#e08730"/><stop offset="0.333" stop-color="#d4652a"/><stop offset="0.498" stop-color="#d15e29"/><stop offset="0.667" stop-color="#d4652a"/><stop offset="0.726" stop-color="#e08730"/><stop offset="0.791" stop-color="#e8ba39"/><stop offset="0.816" stop-color="#e0de4f"/><stop offset="0.821" stop-color="#d8dc4d"/><stop offset="0.826" stop-color="#b3ca41"/><stop offset="0.836" stop-color="#74b140"/><stop offset="0.841" stop-color="#6cae40"/><stop offset="0.935" stop-color="#70b040"/><stop offset="0.94" stop-color="#70b055"/><stop offset="0.955" stop-color="#7eb7ce"/><stop offset="0.96" stop-color="#699ecb"/><stop offset="0.97" stop-color="#355ea6"/><stop offset="1" stop-color="#2a4a90"/></linearGradient><linearGradient id="g53" x1="0" y1="0" x2="1" y2="0"><stop offset="0" stop-color="#2a4a90"/><stop offset="0.03" stop-color="#3259a0"/><stop offset="0.035" stop-color="#406eb3"/><stop offset="0.045" stop-color="#7eb6d7"/><stop offset="0.065" stop-color="#70b040"/><stop offset="0.169" stop-color="#6cae40"/><stop offset="0.179" stop-color="#a5c440"/><stop offset="0.189" stop-color="#dedf4f"/><stop offset="0.219" stop-color="#e8b638"/><stop offset="0.338" stop-color="#d4652a"/><stop offset="0.542" stop-color="#d26129"/><stop offset="0.662" stop-color="#d4652a"/><stop offset="0.721" stop-color="#e08830"/><stop offset="0.786" stop-color="#e7bd3b"/><stop offset="0.811" stop-color="#dedf4f"/><stop offset="0.821" stop-color="#a5c440"/><stop offset="0.831" stop-color="#6cae40"/><stop offset="0.935" stop-color="#70b040"/><stop offset="0.955" stop-color="#7eb6d7"/><stop offset="0.965" stop-color="#406eb3"/><stop offset="0.97" stop-color="#3259a0"/><stop offset="1" stop-color="#2a4a90"/></linearGradient><linearGradient id="g54" x1="0" y1="0" x2="1" y2="0"><stop offset="0" stop-color="#2a4a90"/><stop offset="0.03" stop-color="#32589f"/><stop offset="0.035" stop-color="#3967af"/><stop offset="0.045" stop-color="#77aed3"/><stop offset="0.05" stop-color="#7ab5bd"/><stop offset="0.065" stop-color="#70b046"/><stop offset="0.07" stop-color="#6fb040"/><stop offset="0.174" stop-color="#6cae40"/><stop offset="0.184" stop-color="#a5c440"/><stop offset="0.194" stop-color="#dedf4f"/><stop offset="0.219" stop-color="#e7bd3b"/><stop offset="0.284" stop-color="#e08830"/><stop offset="0.343" stop-color="#d4652a"/><stop offset="0.448" stop-color="#d36329"/><stop offset="0.657" stop-color="#d4652a"/><stop offset="0.776" stop-color="#e8b638"/><stop offset="0.806" stop-color="#dedf4f"/><stop offset="0.816" stop-color="#a5c440"/><stop offset="0.826" stop-color="#6cae40"/><stop offset="0.93" stop-color="#6fb040"/><stop offset="0.935" stop-color="#70b046"/><stop offset="0.95" stop-color="#7ab5bd"/><stop offset="0.955" stop-color="#77aed3"/><stop offset="0.965" stop-color="#3967af"/><stop offset="0.97" stop-color="#32589f"/><stop offset="1" stop-color="#2a4a90"/></linearGradient><linearGradient id="g55" x1="0" y1="0" x2="1" y2="0"><stop offset="0" stop-color="#2a4a90"/><stop offset="0.03" stop-color="#31589f"/><stop offset="0.035" stop-color="#3865ac"/><stop offset="0.045" stop-color="#73a9d1"/><stop offset="0.05" stop-color="#7bb6c2"/><stop offset="0.065" stop-color="#70b04a"/><stop offset="0.07" stop-color="#70b040"/><stop offset="0.174" stop-color="#6cae40"/><stop offset="0.179" stop-color="#76b240"/><stop offset="0.189" stop-color="#b6cb42"/><stop offset="0.194" stop-color="#dadd4e"/><stop offset="0.224" stop-color="#e8b939"/><stop offset="0.343" stop-color="#d4672a"/><stop offset="0.498" stop-color="#d3632a"/><stop offset="0.657" stop-color="#d4672a"/><stop offset="0.776" stop-color="#e8b939"/><stop offset="0.806" stop-color="#dadd4e"/><stop offset="0.811" stop-color="#b6cb42"/><stop offset="0.821" stop-color="#76b240"/><stop offset="0.826" stop-color="#6cae40"/><stop offset="0.93" stop-color="#70b040"/><stop offset="0.935" stop-color="#70b04a"/><stop offset="0.95" stop-color="#7bb6c2"/><stop offset="0.955" stop-color="#73a9d1"/><stop offset="0.965" stop-color="#3865ac"/><stop offset="0.97" stop-color="#31589f"/><stop offset="1" stop-color="#2a4a90"/></linearGradient><linearGradient id="g56" x1="0" y1="0" x2="1" y2="0"><stop offset="0" stop-color="#2a4a90"/><stop offset="0.03" stop-color="#31589f"/><stop offset="0.035" stop-color="#3865ac"/><stop offset="0.045" stop-color="#73a9d1"/><stop offset="0.05" stop-color="#7bb6c2"/><stop offset="0.065" stop-color="#70b04a"/><stop offset="0.07" stop-color="#70b040"/><stop offset="0.174" stop-color="#6cae40"/><stop offset="0.179" stop-color="#76b240"/><stop offset="0.189" stop-color="#b6cb42"/><stop offset="0.194" stop-color="#dadd4e"/><stop offset="0.224" stop-color="#e8b939"/><stop offset="0.343" stop-color="#d4672a"/><stop offset="0.498" stop-color="#d3632a"/><stop offset="0.657" stop-color="#d4672a"/><stop offset="0.776" stop-color="#e8b939"/><stop offset="0.806" stop-color="#dadd4e"/><stop offset="0.811" stop-color="#b6cb42"/><stop offset="0.821" stop-color="#76b240"/><stop offset="0.826" stop-color="#6cae40"/><stop offset="0.93" stop-color="#70b040"/><stop offset="0.935" stop-color="#70b04a"/><stop offset="0.95" stop-color="#7bb6c2"/><stop offset="0.955" stop-color="#73a9d1"/><stop offset="0.965" stop-color="#3865ac"/><stop offset="0.97" stop-color="#31589f"/><stop offset="1" stop-color="#2a4a90"/></linearGradient><linearGradient id="g57" x1="0" y1="0" x2="1" y2="0"><stop offset="0" stop-color="#2a4a90"/><stop offset="0.03" stop-color="#32589f"/><stop offset="0.035" stop-color="#3967af"/><stop offset="0.045" stop-color="#77aed3"/><stop offset="0.05" stop-color="#7ab5bd"/><stop offset="0.065" stop-color="#70b046"/><stop offset="0.07" stop-color="#6fb040"/><stop offset="0.174" stop-color="#6cae40"/><stop offset="0.184" stop-color="#a5c440"/><stop offset="0.194" stop-color="#dedf4f"/><stop offset="0.219" stop-color="#e7bd3b"/><stop offset="0.284" stop-color="#e08830"/><stop offset="0.343" stop-color="#d4652a"/><stop offset="0.448" stop-color="#d36329"/><stop offset="0.657" stop-color="#d4652a"/><stop offset="0.776" stop-color="#e8b638"/><stop offset="0.806" stop-color="#dedf4f"/><stop offset="0.816" stop-color="#a5c440"/><stop offset="0.826" stop-color="#6cae40"/><stop offset="0.93" stop-color="#6fb040"/><stop offset="0.935" stop-color="#70b046"/><stop offset="0.95" stop-color="#7ab5bd"/><stop offset="0.955" stop-color="#77aed3"/><stop offset="0.965" stop-color="#3967af"/><stop offset="0.97" stop-color="#32589f"/><stop offset="1" stop-color="#2a4a90"/></linearGradient><linearGradient id="g58" x1="0" y1="0" x2="1" y2="0"><stop offset="0" stop-color="#2a4a90"/><stop offset="0.03" stop-color="#3259a0"/><stop offset="0.035" stop-color="#406eb3"/><stop offset="0.045" stop-color="#7eb6d7"/><stop offset="0.065" stop-color="#70b040"/><stop offset="0.169" stop-color="#6cae40"/><stop offset="0.179" stop-color="#a5c440"/><stop offset="0.189" stop-color="#dedf4f"/><stop offset="0.219" stop-color="#e8b638"/><stop offset="0.338" stop-color="#d4652a"/><stop offset="0.542" stop-color="#d26129"/><stop offset="0.662" stop-color="#d4652a"/><stop offset="0.721" stop-color="#e08830"/><stop offset="0.786" stop-color="#e7bd3b"/><stop offset="0.811" stop-color="#dedf4f"/><stop offset="0.821" stop-color="#a5c440"/><stop offset="0.831" stop-color="#6cae40"/><stop offset="0.935" stop-color="#70b040"/><stop offset="0.955" stop-color="#7eb6d7"/><stop offset="0.965" stop-color="#406eb3"/><stop offset="0.97" stop-color="#3259a0"/><stop offset="1" stop-color="#2a4a90"/></linearGradient><linearGradient id="g59" x1="0" y1="0" x2="1" y2="0"><stop offset="0" stop-color="#2a4a90"/><stop offset="0.03" stop-color="#355ea6"/><stop offset="0.04" stop-color="#699ecb"/><stop offset="0.045" stop-color="#7eb7ce"/><stop offset="0.06" stop-color="#70b055"/><stop offset="0.065" stop-color="#70b040"/><stop offset="0.159" stop-color="#6cae40"/><stop offset="0.164" stop-color="#74b140"/><stop offset="0.174" stop-color="#b3ca41"/><stop offset="0.179" stop-color="#d8dc4d"/><stop offset="0.184" stop-color="#e0de4f"/><stop offset="0.209" stop-color="#e8ba39"/><stop offset="0.274" stop-color="#e08730"/><stop offset="0.333" stop-color="#d4652a"/><stop offset="0.498" stop-color="#d15e29"/><stop offset="0.667" stop-color="#d4652a"/><stop offset="0.726" stop-color="#e08730"/><stop offset="0.791" stop-color="#e8ba39"/><stop offset="0.816" stop-color="#e0de4f"/><stop offset="0.821" stop-color="#d8dc4d"/><stop offset="0.826" stop-color="#b3ca41"/><stop offset="0.836" stop-color="#74b140"/><stop offset="0.841" stop-color="#6cae40"/><stop offset="0.935" stop-color="#70b040"/><stop offset="0.94" stop-color="#70b055"/><stop offset="0.955" stop-color="#7eb7ce"/><stop offset="0.96" stop-color="#699ecb"/><stop offset="0.97" stop-color="#355ea6"/><stop offset="1" stop-color="#2a4a90"/></linearGradient><linearGradient id="g60" x1="0" y1="0" x2="1" y2="0"><stop offset="0" stop-color="#2a4a90"/><stop offset="0.025" stop-color="#32589f"/><stop offset="0.03" stop-color="#3a67af"/><stop offset="0.04" stop-color="#77aed3"/><stop offset="0.045" stop-color="#7ab5bd"/><stop offset="0.06" stop-color="#70b046"/><stop offset="0.065" stop-color="#6fb040"/><stop offset="0.149" stop-color="#6cae40"/><stop offset="0.154" stop-color="#71b040"/><stop offset="0.164" stop-color="#b0c840"/><stop offset="0.169" stop-color="#d4da4c"/><stop offset="0.174" stop-color="#e0df4f"/><stop offset="0.199" stop-color="#e7bb3a"/><stop offset="0.264" stop-color="#e08730"/><stop offset="0.323" stop-color="#d4652a"/><stop offset="0.502" stop-color="#d05b28"/><stop offset="0.677" stop-color="#d4652a"/><stop offset="0.736" stop-color="#e08730"/><stop offset="0.801" stop-color="#e7bb3a"/><stop offset="0.826" stop-color="#e0df4f"/><stop offset="0.831" stop-color="#d4da4c"/><stop offset="0.836" stop-color="#b0c840"/><stop offset="0.846" stop-color="#71b040"/><stop offset="0.851" stop-color="#6cae40"/><stop offset="0.935" stop-color="#6fb040"/><stop offset="0.94" stop-color="#70b046"/><stop offset="0.955" stop-color="#7ab5bd"/><stop offset="0.96" stop-color="#77aed3"/><stop offset="0.97" stop-color="#3a67af"/><stop offset="0.975" stop-color="#32589f"/><stop offset="1" stop-color="#2a4a90"/></linearGradient><linearGradient id="g61" x1="0" y1="0" x2="1" y2="0"><stop offset="0" stop-color="#2a4a90"/><stop offset="0.025" stop-color="#355ea5"/><stop offset="0.035" stop-color="#689dca"/><stop offset="0.04" stop-color="#7eb7cf"/><stop offset="0.055" stop-color="#70b056"/><stop offset="0.06" stop-color="#70b040"/><stop offset="0.139" stop-color="#6cae40"/><stop offset="0.144" stop-color="#7ab340"/><stop offset="0.159" stop-color="#dbdd4e"/><stop offset="0.189" stop-color="#e8b838"/><stop offset="0.313" stop-color="#d4652a"/><stop offset="0.502" stop-color="#cf5828"/><stop offset="0.687" stop-color="#d4652a"/><stop offset="0.811" stop-color="#e8b838"/><stop offset="0.841" stop-color="#dbdd4e"/><stop offset="0.856" stop-color="#7ab340"/><stop offset="0.861" stop-color="#6cae40"/><stop offset="0.94" stop-color="#70b040"/><stop offset="0.945" stop-color="#70b056"/><stop offset="0.96" stop-color="#7eb7cf"/><stop offset="0.965" stop-color="#689dca"/><stop offset="0.975" stop-color="#355ea5"/><stop offset="1" stop-color="#2a4a90"/></linearGradient><linearGradient id="g62" x1="0" y1="0" x2="1" y2="0"><stop offset="0" stop-color="#2a4a90"/><stop offset="0.02" stop-color="#32589f"/><stop offset="0.025" stop-color="#3d6cb2"/><stop offset="0.035" stop-color="#7bb3d5"/><stop offset="0.04" stop-color="#79b4b8"/><stop offset="0.055" stop-color="#70b041"/><stop offset="0.129" stop-color="#6faf40"/><stop offset="0.139" stop-color="#aec740"/><stop offset="0.144" stop-color="#d2d94b"/><stop offset="0.149" stop-color="#e0e050"/><stop offset="0.179" stop-color="#e7b537"/><stop offset="0.299" stop-color="#d4652a"/><stop offset="0.522" stop-color="#ce5528"/><stop offset="0.701" stop-color="#d4652a"/><stop offset="0.761" stop-color="#e08730"/><stop offset="0.826" stop-color="#e7bb3a"/><stop offset="0.851" stop-color="#e0e050"/><stop offset="0.856" stop-color="#d2d94b"/><stop offset="0.861" stop-color="#aec740"/><stop offset="0.871" stop-color="#6faf40"/><stop offset="0.945" stop-color="#70b041"/><stop offset="0.96" stop-color="#79b4b8"/><stop offset="0.965" stop-color="#7bb3d5"/><stop offset="0.975" stop-color="#3d6cb2"/><stop offset="0.98" stop-color="#32589f"/><stop offset="1" stop-color="#2a4a90"/></linearGradient><linearGradient id="g63" x1="0" y1="0" x2="1" y2="0"><stop offset="0" stop-color="#2a4a90"/><stop offset="0.02" stop-color="#3864ab"/><stop offset="0.03" stop-color="#72a8d0"/><stop offset="0.035" stop-color="#7cb6c4"/><stop offset="0.05" stop-color="#70b04c"/><stop offset="0.055" stop-color="#70b040"/><stop offset="0.114" stop-color="#6dae40"/><stop offset="0.124" stop-color="#acc640"/><stop offset="0.129" stop-color="#d0d84b"/><stop offset="0.134" stop-color="#e0e050"/><stop offset="0.164" stop-color="#e7b537"/><stop offset="0.284" stop-color="#d4652a"/><stop offset="0.378" stop-color="#ce5628"/><stop offset="0.517" stop-color="#cd5128"/><stop offset="0.716" stop-color="#d4652a"/><stop offset="0.776" stop-color="#e08730"/><stop offset="0.841" stop-color="#e7bb3a"/><stop offset="0.866" stop-color="#e0e050"/><stop offset="0.871" stop-color="#d0d84b"/><stop offset="0.876" stop-color="#acc640"/><stop offset="0.886" stop-color="#6dae40"/><stop offset="0.945" stop-color="#70b040"/><stop offset="0.95" stop-color="#70b04c"/><stop offset="0.965" stop-color="#7cb6c4"/><stop offset="0.97" stop-color="#72a8d0"/><stop offset="0.98" stop-color="#3864ab"/><stop offset="1" stop-color="#2a4a90"/></linearGradient><linearGradient id="g64" x1="0" y1="0" x2="1" y2="0"><stop offset="0" stop-color="#2a4a90"/><stop offset="0.015" stop-color="#355ea6"/><stop offset="0.025" stop-color="#699ecb"/><stop offset="0.03" stop-color="#7eb7ce"/><stop offset="0.045" stop-color="#70b055"/><stop offset="0.05" stop-color="#70b040"/><stop offset="0.095" stop-color="#6cae40"/><stop offset="0.1" stop-color="#73b140"/><stop offset="0.109" stop-color="#b2c941"/><stop offset="0.114" stop-color="#d7db4d"/><stop offset="0.119" stop-color="#e0df4f"/><stop offset="0.144" stop-color="#e8ba39"/><stop offset="0.269" stop-color="#d4652a"/><stop offset="0.368" stop-color="#cd5328"/><stop offset="0.502" stop-color="#cb4d28"/><stop offset="0.637" stop-color="#ce5428"/><stop offset="0.731" stop-color="#d4652a"/><stop offset="0.856" stop-color="#e8ba39"/><stop offset="0.881" stop-color="#e0df4f"/><stop offset="0.886" stop-color="#d7db4d"/><stop offset="0.891" stop-color="#b2c941"/><stop offset="0.9" stop-color="#73b140"/><stop offset="0.905" stop-color="#6cae40"/><stop offset="0.95" stop-color="#70b040"/><stop offset="0.955" stop-color="#70b055"/><stop offset="0.97" stop-color="#7eb7ce"/><stop offset="0.975" stop-color="#699ecb"/><stop offset="0.985" stop-color="#355ea6"/><stop offset="1" stop-color="#2a4a90"/></linearGradient><linearGradient id="g65" x1="0" y1="0" x2="1" y2="0"><stop offset="0" stop-color="#2a4a90"/><stop offset="0.01" stop-color="#325aa1"/><stop offset="0.015" stop-color="#4373b5"/><stop offset="0.025" stop-color="#80b8d6"/><stop offset="0.04" stop-color="#70b05c"/><stop offset="0.045" stop-color="#70b040"/><stop offset="0.08" stop-color="#6cae40"/><stop offset="0.085" stop-color="#7eb540"/><stop offset="0.1" stop-color="#dcde4f"/><stop offset="0.129" stop-color="#e8b838"/><stop offset="0.254" stop-color="#d4642a"/><stop offset="0.358" stop-color="#cc5028"/><stop offset="0.498" stop-color="#c94928"/><stop offset="0.637" stop-color="#cc5028"/><stop offset="0.741" stop-color="#d3632a"/><stop offset="0.811" stop-color="#e08930"/><stop offset="0.871" stop-color="#e8b838"/><stop offset="0.9" stop-color="#dcde4f"/><stop offset="0.915" stop-color="#7eb540"/><stop offset="0.92" stop-color="#6cae40"/><stop offset="0.955" stop-color="#70b040"/><stop offset="0.96" stop-color="#70b05c"/><stop offset="0.975" stop-color="#80b8d6"/><stop offset="0.985" stop-color="#4373b5"/><stop offset="0.99" stop-color="#325aa1"/><stop offset="1" stop-color="#2a4a90"/></linearGradient><linearGradient id="g66" x1="0" y1="0" x2="1" y2="0"><stop offset="0" stop-color="#2a4a90"/><stop offset="0.01" stop-color="#3d6cb2"/><stop offset="0.02" stop-color="#7bb3d5"/><stop offset="0.025" stop-color="#79b4b8"/><stop offset="0.04" stop-color="#70b041"/><stop offset="0.065" stop-color="#6dae40"/><stop offset="0.075" stop-color="#acc640"/><stop offset="0.08" stop-color="#d0d84b"/><stop offset="0.085" stop-color="#e0e050"/><stop offset="0.114" stop-color="#e7b537"/><stop offset="0.174" stop-color="#e08730"/><stop offset="0.269" stop-color="#d05a28"/><stop offset="0.517" stop-color="#c84528"/><stop offset="0.652" stop-color="#cb4d28"/><stop offset="0.756" stop-color="#d36229"/><stop offset="0.826" stop-color="#e08730"/><stop offset="0.891" stop-color="#e7bb3a"/><stop offset="0.915" stop-color="#e0e050"/><stop offset="0.92" stop-color="#d0d84b"/><stop offset="0.925" stop-color="#acc640"/><stop offset="0.935" stop-color="#6dae40"/><stop offset="0.96" stop-color="#70b041"/><stop offset="0.975" stop-color="#79b4b8"/><stop offset="0.98" stop-color="#7bb3d5"/><stop offset="0.99" stop-color="#3d6cb2"/><stop offset="1" stop-color="#2a4a90"/></linearGradient><linearGradient id="g67" x1="0" y1="0" x2="1" y2="0"><stop offset="0" stop-color="#d5d54c"/><stop offset="0.22" stop-color="#daa333"/><stop offset="0.35" stop-color="#b62e26"/><stop offset="0.7" stop-color="#b62e26"/><stop offset="0.82" stop-color="#dabb3d"/><stop offset="0.9" stop-color="#6fa2c7"/><stop offset="1" stop-color="#2c4d90"/></linearGradient><linearGradient id="g68" x1="0" y1="0" x2="1" y2="0"><stop offset="0" stop-color="#2c4d90"/><stop offset="0.1" stop-color="#335ca0"/><stop offset="0.18" stop-color="#77adc0"/><stop offset="0.26" stop-color="#6aa73d"/><stop offset="0.5" stop-color="#68a63d"/><stop offset="0.7" stop-color="#9ab93d"/><stop offset="0.85" stop-color="#dabb3d"/><stop offset="1" stop-color="#d1762c"/></linearGradient><linearGradient id="g69" x1="0" y1="0" x2="1" y2="0"><stop offset="0" stop-color="#68a63d"/><stop offset="0.18" stop-color="#9ab93d"/><stop offset="0.3" stop-color="#dabb3d"/><stop offset="0.45" stop-color="#b62e26"/><stop offset="0.65" stop-color="#b62e26"/><stop offset="0.75" stop-color="#dabb3d"/><stop offset="0.85" stop-color="#6fa2c7"/><stop offset="1" stop-color="#2c4d90"/></linearGradient><linearGradient id="g70" x1="0" y1="0" x2="1" y2="0"><stop offset="0" stop-color="#2a4a90"/><stop offset="0.01" stop-color="#3d6bb2"/><stop offset="0.021" stop-color="#7bb3d5"/><stop offset="0.026" stop-color="#79b4b8"/><stop offset="0.041" stop-color="#70b041"/><stop offset="0.067" stop-color="#6cae40"/><stop offset="0.082" stop-color="#cfd84a"/><stop offset="0.087" stop-color="#e0e050"/><stop offset="0.118" stop-color="#e8b538"/><stop offset="0.241" stop-color="#d4652a"/><stop offset="0.523" stop-color="#cd5228"/><stop offset="0.759" stop-color="#d4652a"/><stop offset="0.821" stop-color="#e08830"/><stop offset="0.887" stop-color="#e7bc3a"/><stop offset="0.913" stop-color="#e0e050"/><stop offset="0.918" stop-color="#cfd84a"/><stop offset="0.933" stop-color="#6cae40"/><stop offset="0.959" stop-color="#70b041"/><stop offset="0.974" stop-color="#79b4b8"/><stop offset="0.979" stop-color="#7bb3d5"/><stop offset="0.99" stop-color="#3d6bb2"/><stop offset="1" stop-color="#2a4a90"/></linearGradient><linearGradient id="g71" x1="0" y1="0" x2="1" y2="0"><stop offset="0" stop-color="#2a4a90"/><stop offset="0.01" stop-color="#325aa1"/><stop offset="0.015" stop-color="#4372b5"/><stop offset="0.026" stop-color="#80b8d6"/><stop offset="0.041" stop-color="#70b05c"/><stop offset="0.046" stop-color="#70b040"/><stop offset="0.082" stop-color="#6cae40"/><stop offset="0.087" stop-color="#7db540"/><stop offset="0.103" stop-color="#dcde4f"/><stop offset="0.133" stop-color="#e8b838"/><stop offset="0.262" stop-color="#d4652a"/><stop offset="0.503" stop-color="#cf5628"/><stop offset="0.738" stop-color="#d4652a"/><stop offset="0.867" stop-color="#e8b838"/><stop offset="0.897" stop-color="#dcde4f"/><stop offset="0.913" stop-color="#7db540"/><stop offset="0.918" stop-color="#6cae40"/><stop offset="0.954" stop-color="#70b040"/><stop offset="0.959" stop-color="#70b05c"/><stop offset="0.974" stop-color="#80b8d6"/><stop offset="0.985" stop-color="#4372b5"/><stop offset="0.99" stop-color="#325aa1"/><stop offset="1" stop-color="#2a4a90"/></linearGradient><linearGradient id="g72" x1="0" y1="0" x2="1" y2="0"><stop offset="0" stop-color="#2a4a90"/><stop offset="0.015" stop-color="#355ea6"/><stop offset="0.026" stop-color="#699ecb"/><stop offset="0.031" stop-color="#7eb7ce"/><stop offset="0.046" stop-color="#70b055"/><stop offset="0.051" stop-color="#70b040"/><stop offset="0.103" stop-color="#72b040"/><stop offset="0.113" stop-color="#b1c840"/><stop offset="0.118" stop-color="#d5db4c"/><stop offset="0.123" stop-color="#e0df4f"/><stop offset="0.149" stop-color="#e8ba39"/><stop offset="0.215" stop-color="#e08730"/><stop offset="0.277" stop-color="#d4652a"/><stop offset="0.497" stop-color="#d05b28"/><stop offset="0.723" stop-color="#d4652a"/><stop offset="0.785" stop-color="#e08730"/><stop offset="0.851" stop-color="#e8ba39"/><stop offset="0.877" stop-color="#e0df4f"/><stop offset="0.882" stop-color="#d5db4c"/><stop offset="0.887" stop-color="#b1c840"/><stop offset="0.897" stop-color="#72b040"/><stop offset="0.949" stop-color="#70b040"/><stop offset="0.954" stop-color="#70b055"/><stop offset="0.969" stop-color="#7eb7ce"/><stop offset="0.974" stop-color="#699ecb"/><stop offset="0.985" stop-color="#355ea6"/><stop offset="1" stop-color="#2a4a90"/></linearGradient><linearGradient id="g73" x1="0" y1="0" x2="1" y2="0"><stop offset="0" stop-color="#2a4a90"/><stop offset="0.021" stop-color="#3863ab"/><stop offset="0.031" stop-color="#71a7d0"/><stop offset="0.036" stop-color="#7cb6c4"/><stop offset="0.051" stop-color="#70b04c"/><stop offset="0.056" stop-color="#70b040"/><stop offset="0.118" stop-color="#6cae40"/><stop offset="0.133" stop-color="#cfd74a"/><stop offset="0.138" stop-color="#e0e050"/><stop offset="0.169" stop-color="#e8b538"/><stop offset="0.292" stop-color="#d4652a"/><stop offset="0.549" stop-color="#d26029"/><stop offset="0.708" stop-color="#d4652a"/><stop offset="0.769" stop-color="#e08830"/><stop offset="0.836" stop-color="#e7bc3a"/><stop offset="0.862" stop-color="#e0e050"/><stop offset="0.867" stop-color="#cfd74a"/><stop offset="0.882" stop-color="#6cae40"/><stop offset="0.944" stop-color="#70b040"/><stop offset="0.949" stop-color="#70b04c"/><stop offset="0.964" stop-color="#7cb6c4"/><stop offset="0.969" stop-color="#71a7d0"/><stop offset="0.979" stop-color="#3863ab"/><stop offset="1" stop-color="#2a4a90"/></linearGradient><linearGradient id="g74" x1="0" y1="0" x2="1" y2="0"><stop offset="0" stop-color="#2a4a90"/><stop offset="0.021" stop-color="#32589f"/><stop offset="0.026" stop-color="#3d6bb2"/><stop offset="0.036" stop-color="#7bb2d5"/><stop offset="0.041" stop-color="#79b4b8"/><stop offset="0.056" stop-color="#70b042"/><stop offset="0.133" stop-color="#6daf40"/><stop offset="0.144" stop-color="#acc740"/><stop offset="0.149" stop-color="#d0d84b"/><stop offset="0.154" stop-color="#e0e050"/><stop offset="0.185" stop-color="#e7b537"/><stop offset="0.308" stop-color="#d4652a"/><stop offset="0.692" stop-color="#d4652a"/><stop offset="0.754" stop-color="#e08730"/><stop offset="0.821" stop-color="#e7bb3a"/><stop offset="0.846" stop-color="#e0e050"/><stop offset="0.851" stop-color="#d0d84b"/><stop offset="0.856" stop-color="#acc740"/><stop offset="0.867" stop-color="#6daf40"/><stop offset="0.944" stop-color="#70b042"/><stop offset="0.959" stop-color="#79b4b8"/><stop offset="0.964" stop-color="#7bb2d5"/><stop offset="0.974" stop-color="#3d6bb2"/><stop offset="0.979" stop-color="#32589f"/><stop offset="1" stop-color="#2a4a90"/></linearGradient><linearGradient id="g75" x1="0" y1="0" x2="1" y2="0"><stop offset="0" stop-color="#2a4a90"/><stop offset="0.026" stop-color="#345ea5"/><stop offset="0.036" stop-color="#689dca"/><stop offset="0.041" stop-color="#7eb7cf"/><stop offset="0.056" stop-color="#70b056"/><stop offset="0.062" stop-color="#70b040"/><stop offset="0.144" stop-color="#6cae40"/><stop offset="0.149" stop-color="#79b340"/><stop offset="0.164" stop-color="#dbdd4e"/><stop offset="0.195" stop-color="#e8b939"/><stop offset="0.262" stop-color="#df8630"/><stop offset="0.318" stop-color="#d5692b"/><stop offset="0.687" stop-color="#d56a2b"/><stop offset="0.805" stop-color="#e8b939"/><stop offset="0.836" stop-color="#dbdd4e"/><stop offset="0.851" stop-color="#79b340"/><stop offset="0.856" stop-color="#6cae40"/><stop offset="0.938" stop-color="#70b040"/><stop offset="0.944" stop-color="#70b056"/><stop offset="0.959" stop-color="#7eb7cf"/><stop offset="0.964" stop-color="#689dca"/><stop offset="0.974" stop-color="#345ea5"/><stop offset="1" stop-color="#2a4a90"/></linearGradient><linearGradient id="g76" x1="0" y1="0" x2="1" y2="0"><stop offset="0" stop-color="#2a4a90"/><stop offset="0.026" stop-color="#32589f"/><stop offset="0.031" stop-color="#3967af"/><stop offset="0.041" stop-color="#77add3"/><stop offset="0.046" stop-color="#7ab5be"/><stop offset="0.062" stop-color="#70b046"/><stop offset="0.067" stop-color="#6fb040"/><stop offset="0.159" stop-color="#6faf40"/><stop offset="0.169" stop-color="#aec740"/><stop offset="0.174" stop-color="#d3d94c"/><stop offset="0.179" stop-color="#e0df50"/><stop offset="0.205" stop-color="#e7bb3a"/><stop offset="0.272" stop-color="#e08730"/><stop offset="0.323" stop-color="#d76d2b"/><stop offset="0.682" stop-color="#d76d2b"/><stop offset="0.79" stop-color="#e7b537"/><stop offset="0.821" stop-color="#e0df50"/><stop offset="0.826" stop-color="#d3d94c"/><stop offset="0.831" stop-color="#aec740"/><stop offset="0.841" stop-color="#6faf40"/><stop offset="0.933" stop-color="#6fb040"/><stop offset="0.938" stop-color="#70b046"/><stop offset="0.954" stop-color="#7ab5be"/><stop offset="0.959" stop-color="#77add3"/><stop offset="0.969" stop-color="#3967af"/><stop offset="0.974" stop-color="#32589f"/><stop offset="1" stop-color="#2a4a90"/></linearGradient><linearGradient id="g77" x1="0" y1="0" x2="1" y2="0"><stop offset="0" stop-color="#2a4a90"/><stop offset="0.031" stop-color="#355ea5"/><stop offset="0.041" stop-color="#699ecb"/><stop offset="0.046" stop-color="#7eb7ce"/><stop offset="0.062" stop-color="#70b055"/><stop offset="0.067" stop-color="#70b040"/><stop offset="0.164" stop-color="#6cae40"/><stop offset="0.169" stop-color="#73b140"/><stop offset="0.179" stop-color="#b2c941"/><stop offset="0.185" stop-color="#d6db4d"/><stop offset="0.19" stop-color="#e0df4f"/><stop offset="0.215" stop-color="#e8ba39"/><stop offset="0.323" stop-color="#d8712c"/><stop offset="0.503" stop-color="#d8712c"/><stop offset="0.677" stop-color="#d8712c"/><stop offset="0.785" stop-color="#e8ba39"/><stop offset="0.81" stop-color="#e0df4f"/><stop offset="0.815" stop-color="#d6db4d"/><stop offset="0.821" stop-color="#b2c941"/><stop offset="0.831" stop-color="#73b140"/><stop offset="0.836" stop-color="#6cae40"/><stop offset="0.933" stop-color="#70b040"/><stop offset="0.938" stop-color="#70b055"/><stop offset="0.954" stop-color="#7eb7ce"/><stop offset="0.959" stop-color="#699ecb"/><stop offset="0.969" stop-color="#355ea5"/><stop offset="1" stop-color="#2a4a90"/></linearGradient><linearGradient id="g78" x1="0" y1="0" x2="1" y2="0"><stop offset="0" stop-color="#2a4a90"/><stop offset="0.031" stop-color="#3259a0"/><stop offset="0.036" stop-color="#3f6eb3"/><stop offset="0.046" stop-color="#7eb5d7"/><stop offset="0.067" stop-color="#70b040"/><stop offset="0.174" stop-color="#6cae40"/><stop offset="0.185" stop-color="#a3c340"/><stop offset="0.195" stop-color="#dedf4f"/><stop offset="0.226" stop-color="#e8b638"/><stop offset="0.328" stop-color="#d9732c"/><stop offset="0.672" stop-color="#d9732c"/><stop offset="0.779" stop-color="#e7be3b"/><stop offset="0.805" stop-color="#dedf4f"/><stop offset="0.815" stop-color="#a3c340"/><stop offset="0.826" stop-color="#6cae40"/><stop offset="0.933" stop-color="#70b040"/><stop offset="0.954" stop-color="#7eb5d7"/><stop offset="0.964" stop-color="#3f6eb3"/><stop offset="0.969" stop-color="#3259a0"/><stop offset="1" stop-color="#2a4a90"/></linearGradient><linearGradient id="g79" x1="0" y1="0" x2="1" y2="0"><stop offset="0" stop-color="#2a4a90"/><stop offset="0.031" stop-color="#32589f"/><stop offset="0.036" stop-color="#3967af"/><stop offset="0.046" stop-color="#76add3"/><stop offset="0.051" stop-color="#7ab5be"/><stop offset="0.067" stop-color="#70b047"/><stop offset="0.072" stop-color="#6fb040"/><stop offset="0.179" stop-color="#6cae40"/><stop offset="0.19" stop-color="#a3c340"/><stop offset="0.2" stop-color="#dedf4f"/><stop offset="0.231" stop-color="#e8b638"/><stop offset="0.328" stop-color="#d9752d"/><stop offset="0.672" stop-color="#d9752d"/><stop offset="0.774" stop-color="#e7bd3b"/><stop offset="0.8" stop-color="#dedf4f"/><stop offset="0.81" stop-color="#a3c340"/><stop offset="0.821" stop-color="#6cae40"/><stop offset="0.928" stop-color="#6fb040"/><stop offset="0.933" stop-color="#70b047"/><stop offset="0.949" stop-color="#7ab5be"/><stop offset="0.954" stop-color="#76add3"/><stop offset="0.964" stop-color="#3967af"/><stop offset="0.969" stop-color="#32589f"/><stop offset="1" stop-color="#2a4a90"/></linearGradient><linearGradient id="g80" x1="0" y1="0" x2="1" y2="0"><stop offset="0" stop-color="#2a4a90"/><stop offset="0.031" stop-color="#31589f"/><stop offset="0.036" stop-color="#3865ac"/><stop offset="0.046" stop-color="#73a9d1"/><stop offset="0.051" stop-color="#7bb6c2"/><stop offset="0.067" stop-color="#70b04b"/><stop offset="0.072" stop-color="#70b040"/><stop offset="0.179" stop-color="#6cae40"/><stop offset="0.185" stop-color="#74b140"/><stop offset="0.195" stop-color="#b4ca41"/><stop offset="0.2" stop-color="#d9dc4e"/><stop offset="0.205" stop-color="#e0de4f"/><stop offset="0.231" stop-color="#e8ba39"/><stop offset="0.333" stop-color="#da752d"/><stop offset="0.672" stop-color="#da762d"/><stop offset="0.769" stop-color="#e8ba39"/><stop offset="0.795" stop-color="#e0de4f"/><stop offset="0.8" stop-color="#d9dc4e"/><stop offset="0.805" stop-color="#b4ca41"/><stop offset="0.815" stop-color="#74b140"/><stop offset="0.821" stop-color="#6cae40"/><stop offset="0.928" stop-color="#70b040"/><stop offset="0.933" stop-color="#70b04b"/><stop offset="0.949" stop-color="#7bb6c2"/><stop offset="0.954" stop-color="#73a9d1"/><stop offset="0.964" stop-color="#3865ac"/><stop offset="0.969" stop-color="#31589f"/><stop offset="1" stop-color="#2a4a90"/></linearGradient><linearGradient id="g81" x1="0" y1="0" x2="1" y2="0"><stop offset="0" stop-color="#2a4a90"/><stop offset="0.031" stop-color="#31589f"/><stop offset="0.036" stop-color="#3865ac"/><stop offset="0.046" stop-color="#73a9d1"/><stop offset="0.051" stop-color="#7bb6c2"/><stop offset="0.067" stop-color="#70b04b"/><stop offset="0.072" stop-color="#70b040"/><stop offset="0.179" stop-color="#6cae40"/><stop offset="0.185" stop-color="#74b140"/><stop offset="0.195" stop-color="#b4ca41"/><stop offset="0.2" stop-color="#d9dc4e"/><stop offset="0.205" stop-color="#e0de4f"/><stop offset="0.231" stop-color="#e8ba39"/><stop offset="0.333" stop-color="#da752d"/><stop offset="0.672" stop-color="#da762d"/><stop offset="0.769" stop-color="#e8ba39"/><stop offset="0.795" stop-color="#e0de4f"/><stop offset="0.8" stop-color="#d9dc4e"/><stop offset="0.805" stop-color="#b4ca41"/><stop offset="0.815" stop-color="#74b140"/><stop offset="0.821" stop-color="#6cae40"/><stop offset="0.928" stop-color="#70b040"/><stop offset="0.933" stop-color="#70b04b"/><stop offset="0.949" stop-color="#7bb6c2"/><stop offset="0.954" stop-color="#73a9d1"/><stop offset="0.964" stop-color="#3865ac"/><stop offset="0.969" stop-color="#31589f"/><stop offset="1" stop-color="#2a4a90"/></linearGradient><linearGradient id="g82" x1="0" y1="0" x2="1" y2="0"><stop offset="0" stop-color="#2a4a90"/><stop offset="0.031" stop-color="#32589f"/><stop offset="0.036" stop-color="#3967af"/><stop offset="0.046" stop-color="#76add3"/><stop offset="0.051" stop-color="#7ab5be"/><stop offset="0.067" stop-color="#70b047"/><stop offset="0.072" stop-color="#6fb040"/><stop offset="0.179" stop-color="#6cae40"/><stop offset="0.19" stop-color="#a3c340"/><stop offset="0.2" stop-color="#dedf4f"/><stop offset="0.231" stop-color="#e8b638"/><stop offset="0.328" stop-color="#d9752d"/><stop offset="0.672" stop-color="#d9752d"/><stop offset="0.774" stop-color="#e7bd3b"/><stop offset="0.8" stop-color="#dedf4f"/><stop offset="0.81" stop-color="#a3c340"/><stop offset="0.821" stop-color="#6cae40"/><stop offset="0.928" stop-color="#6fb040"/><stop offset="0.933" stop-color="#70b047"/><stop offset="0.949" stop-color="#7ab5be"/><stop offset="0.954" stop-color="#76add3"/><stop offset="0.964" stop-color="#3967af"/><stop offset="0.969" stop-color="#32589f"/><stop offset="1" stop-color="#2a4a90"/></linearGradient><linearGradient id="g83" x1="0" y1="0" x2="1" y2="0"><stop offset="0" stop-color="#2a4a90"/><stop offset="0.031" stop-color="#3259a0"/><stop offset="0.036" stop-color="#3f6eb3"/><stop offset="0.046" stop-color="#7eb5d7"/><stop offset="0.067" stop-color="#70b040"/><stop offset="0.174" stop-color="#6cae40"/><stop offset="0.185" stop-color="#a3c340"/><stop offset="0.195" stop-color="#dedf4f"/><stop offset="0.226" stop-color="#e8b638"/><stop offset="0.328" stop-color="#d9732c"/><stop offset="0.672" stop-color="#d9732c"/><stop offset="0.779" stop-color="#e7be3b"/><stop offset="0.805" stop-color="#dedf4f"/><stop offset="0.815" stop-color="#a3c340"/><stop offset="0.826" stop-color="#6cae40"/><stop offset="0.933" stop-color="#70b040"/><stop offset="0.954" stop-color="#7eb5d7"/><stop offset="0.964" stop-color="#3f6eb3"/><stop offset="0.969" stop-color="#3259a0"/><stop offset="1" stop-color="#2a4a90"/></linearGradient><linearGradient id="g84" x1="0" y1="0" x2="1" y2="0"><stop offset="0" stop-color="#2a4a90"/><stop offset="0.031" stop-color="#355ea5"/><stop offset="0.041" stop-color="#699ecb"/><stop offset="0.046" stop-color="#7eb7ce"/><stop offset="0.062" stop-color="#70b055"/><stop offset="0.067" stop-color="#70b040"/><stop offset="0.164" stop-color="#6cae40"/><stop offset="0.169" stop-color="#73b140"/><stop offset="0.179" stop-color="#b2c941"/><stop offset="0.185" stop-color="#d6db4d"/><stop offset="0.19" stop-color="#e0df4f"/><stop offset="0.215" stop-color="#e8ba39"/><stop offset="0.323" stop-color="#d8712c"/><stop offset="0.503" stop-color="#d8712c"/><stop offset="0.677" stop-color="#d8712c"/><stop offset="0.785" stop-color="#e8ba39"/><stop offset="0.81" stop-color="#e0df4f"/><stop offset="0.815" stop-color="#d6db4d"/><stop offset="0.821" stop-color="#b2c941"/><stop offset="0.831" stop-color="#73b140"/><stop offset="0.836" stop-color="#6cae40"/><stop offset="0.933" stop-color="#70b040"/><stop offset="0.938" stop-color="#70b055"/><stop offset="0.954" stop-color="#7eb7ce"/><stop offset="0.959" stop-color="#699ecb"/><stop offset="0.969" stop-color="#355ea5"/><stop offset="1" stop-color="#2a4a90"/></linearGradient><linearGradient id="g85" x1="0" y1="0" x2="1" y2="0"><stop offset="0" stop-color="#2a4a90"/><stop offset="0.026" stop-color="#32589f"/><stop offset="0.031" stop-color="#3967af"/><stop offset="0.041" stop-color="#77add3"/><stop offset="0.046" stop-color="#7ab5be"/><stop offset="0.062" stop-color="#70b046"/><stop offset="0.067" stop-color="#6fb040"/><stop offset="0.159" stop-color="#6faf40"/><stop offset="0.169" stop-color="#aec740"/><stop offset="0.174" stop-color="#d3d94c"/><stop offset="0.179" stop-color="#e0df50"/><stop offset="0.205" stop-color="#e7bb3a"/><stop offset="0.272" stop-color="#e08730"/><stop offset="0.323" stop-color="#d76d2b"/><stop offset="0.682" stop-color="#d76d2b"/><stop offset="0.79" stop-color="#e7b537"/><stop offset="0.821" stop-color="#e0df50"/><stop offset="0.826" stop-color="#d3d94c"/><stop offset="0.831" stop-color="#aec740"/><stop offset="0.841" stop-color="#6faf40"/><stop offset="0.933" stop-color="#6fb040"/><stop offset="0.938" stop-color="#70b046"/><stop offset="0.954" stop-color="#7ab5be"/><stop offset="0.959" stop-color="#77add3"/><stop offset="0.969" stop-color="#3967af"/><stop offset="0.974" stop-color="#32589f"/><stop offset="1" stop-color="#2a4a90"/></linearGradient><linearGradient id="g86" x1="0" y1="0" x2="1" y2="0"><stop offset="0" stop-color="#2a4a90"/><stop offset="0.026" stop-color="#345ea5"/><stop offset="0.036" stop-color="#689dca"/><stop offset="0.041" stop-color="#7eb7cf"/><stop offset="0.056" stop-color="#70b056"/><stop offset="0.062" stop-color="#70b040"/><stop offset="0.144" stop-color="#6cae40"/><stop offset="0.149" stop-color="#79b340"/><stop offset="0.164" stop-color="#dbdd4e"/><stop offset="0.195" stop-color="#e8b939"/><stop offset="0.262" stop-color="#df8630"/><stop offset="0.318" stop-color="#d5692b"/><stop offset="0.687" stop-color="#d56a2b"/><stop offset="0.805" stop-color="#e8b939"/><stop offset="0.836" stop-color="#dbdd4e"/><stop offset="0.851" stop-color="#79b340"/><stop offset="0.856" stop-color="#6cae40"/><stop offset="0.938" stop-color="#70b040"/><stop offset="0.944" stop-color="#70b056"/><stop offset="0.959" stop-color="#7eb7cf"/><stop offset="0.964" stop-color="#689dca"/><stop offset="0.974" stop-color="#345ea5"/><stop offset="1" stop-color="#2a4a90"/></linearGradient><linearGradient id="g87" x1="0" y1="0" x2="1" y2="0"><stop offset="0" stop-color="#2a4a90"/><stop offset="0.021" stop-color="#32589f"/><stop offset="0.026" stop-color="#3d6bb2"/><stop offset="0.036" stop-color="#7bb2d5"/><stop offset="0.041" stop-color="#79b4b8"/><stop offset="0.056" stop-color="#70b042"/><stop offset="0.133" stop-color="#6daf40"/><stop offset="0.144" stop-color="#acc740"/><stop offset="0.149" stop-color="#d0d84b"/><stop offset="0.154" stop-color="#e0e050"/><stop offset="0.185" stop-color="#e7b537"/><stop offset="0.308" stop-color="#d4652a"/><stop offset="0.692" stop-color="#d4652a"/><stop offset="0.754" stop-color="#e08730"/><stop offset="0.821" stop-color="#e7bb3a"/><stop offset="0.846" stop-color="#e0e050"/><stop offset="0.851" stop-color="#d0d84b"/><stop offset="0.856" stop-color="#acc740"/><stop offset="0.867" stop-color="#6daf40"/><stop offset="0.944" stop-color="#70b042"/><stop offset="0.959" stop-color="#79b4b8"/><stop offset="0.964" stop-color="#7bb2d5"/><stop offset="0.974" stop-color="#3d6bb2"/><stop offset="0.979" stop-color="#32589f"/><stop offset="1" stop-color="#2a4a90"/></linearGradient><linearGradient id="g88" x1="0" y1="0" x2="1" y2="0"><stop offset="0" stop-color="#2a4a90"/><stop offset="0.021" stop-color="#3863ab"/><stop offset="0.031" stop-color="#71a7d0"/><stop offset="0.036" stop-color="#7cb6c4"/><stop offset="0.051" stop-color="#70b04c"/><stop offset="0.056" stop-color="#70b040"/><stop offset="0.118" stop-color="#6cae40"/><stop offset="0.133" stop-color="#cfd74a"/><stop offset="0.138" stop-color="#e0e050"/><stop offset="0.169" stop-color="#e8b538"/><stop offset="0.292" stop-color="#d4652a"/><stop offset="0.549" stop-color="#d26029"/><stop offset="0.708" stop-color="#d4652a"/><stop offset="0.769" stop-color="#e08830"/><stop offset="0.836" stop-color="#e7bc3a"/><stop offset="0.862" stop-color="#e0e050"/><stop offset="0.867" stop-color="#cfd74a"/><stop offset="0.882" stop-color="#6cae40"/><stop offset="0.944" stop-color="#70b040"/><stop offset="0.949" stop-color="#70b04c"/><stop offset="0.964" stop-color="#7cb6c4"/><stop offset="0.969" stop-color="#71a7d0"/><stop offset="0.979" stop-color="#3863ab"/><stop offset="1" stop-color="#2a4a90"/></linearGradient><linearGradient id="g89" x1="0" y1="0" x2="1" y2="0"><stop offset="0" stop-color="#2a4a90"/><stop offset="0.015" stop-color="#355ea6"/><stop offset="0.026" stop-color="#699ecb"/><stop offset="0.031" stop-color="#7eb7ce"/><stop offset="0.046" stop-color="#70b055"/><stop offset="0.051" stop-color="#70b040"/><stop offset="0.103" stop-color="#72b040"/><stop offset="0.113" stop-color="#b1c840"/><stop offset="0.118" stop-color="#d5db4c"/><stop offset="0.123" stop-color="#e0df4f"/><stop offset="0.149" stop-color="#e8ba39"/><stop offset="0.215" stop-color="#e08730"/><stop offset="0.277" stop-color="#d4652a"/><stop offset="0.497" stop-color="#d05b28"/><stop offset="0.723" stop-color="#d4652a"/><stop offset="0.785" stop-color="#e08730"/><stop offset="0.851" stop-color="#e8ba39"/><stop offset="0.877" stop-color="#e0df4f"/><stop offset="0.882" stop-color="#d5db4c"/><stop offset="0.887" stop-color="#b1c840"/><stop offset="0.897" stop-color="#72b040"/><stop offset="0.949" stop-color="#70b040"/><stop offset="0.954" stop-color="#70b055"/><stop offset="0.969" stop-color="#7eb7ce"/><stop offset="0.974" stop-color="#699ecb"/><stop offset="0.985" stop-color="#355ea6"/><stop offset="1" stop-color="#2a4a90"/></linearGradient><linearGradient id="g90" x1="0" y1="0" x2="1" y2="0"><stop offset="0" stop-color="#2a4a90"/><stop offset="0.01" stop-color="#325aa1"/><stop offset="0.015" stop-color="#4372b5"/><stop offset="0.026" stop-color="#80b8d6"/><stop offset="0.041" stop-color="#70b05c"/><stop offset="0.046" stop-color="#70b040"/><stop offset="0.082" stop-color="#6cae40"/><stop offset="0.087" stop-color="#7db540"/><stop offset="0.103" stop-color="#dcde4f"/><stop offset="0.133" stop-color="#e8b838"/><stop offset="0.262" stop-color="#d4652a"/><stop offset="0.503" stop-color="#cf5628"/><stop offset="0.738" stop-color="#d4652a"/><stop offset="0.867" stop-color="#e8b838"/><stop offset="0.897" stop-color="#dcde4f"/><stop offset="0.913" stop-color="#7db540"/><stop offset="0.918" stop-color="#6cae40"/><stop offset="0.954" stop-color="#70b040"/><stop offset="0.959" stop-color="#70b05c"/><stop offset="0.974" stop-color="#80b8d6"/><stop offset="0.985" stop-color="#4372b5"/><stop offset="0.99" stop-color="#325aa1"/><stop offset="1" stop-color="#2a4a90"/></linearGradient><linearGradient id="g91" x1="0" y1="0" x2="1" y2="0"><stop offset="0" stop-color="#2a4a90"/><stop offset="0.01" stop-color="#3d6bb2"/><stop offset="0.021" stop-color="#7bb3d5"/><stop offset="0.026" stop-color="#79b4b8"/><stop offset="0.041" stop-color="#70b041"/><stop offset="0.067" stop-color="#6cae40"/><stop offset="0.082" stop-color="#cfd84a"/><stop offset="0.087" stop-color="#e0e050"/><stop offset="0.118" stop-color="#e8b538"/><stop offset="0.241" stop-color="#d4652a"/><stop offset="0.523" stop-color="#cd5228"/><stop offset="0.759" stop-color="#d4652a"/><stop offset="0.821" stop-color="#e08830"/><stop offset="0.887" stop-color="#e7bc3a"/><stop offset="0.913" stop-color="#e0e050"/><stop offset="0.918" stop-color="#cfd84a"/><stop offset="0.933" stop-color="#6cae40"/><stop offset="0.959" stop-color="#70b041"/><stop offset="0.974" stop-color="#79b4b8"/><stop offset="0.979" stop-color="#7bb3d5"/><stop offset="0.99" stop-color="#3d6bb2"/><stop offset="1" stop-color="#2a4a90"/></linearGradient><linearGradient id="g92" x1="0" y1="0" x2="1" y2="0"><stop offset="0" stop-color="#2c4d90"/><stop offset="0.1" stop-color="#6fa2c7"/><stop offset="0.2" stop-color="#6aa73d"/><stop offset="0.45" stop-color="#67a53d"/><stop offset="0.6" stop-color="#d5d54c"/><stop offset="0.75" stop-color="#80af3d"/><stop offset="0.88" stop-color="#6aa73d"/><stop offset="0.95" stop-color="#5889ba"/><stop offset="1" stop-color="#2c4d90"/></linearGradient><linearGradient id="g93" x1="0" y1="0" x2="1" y2="0"><stop offset="0" stop-color="#243f7a"/><stop offset="0.012" stop-color="#345b97"/><stop offset="0.023" stop-color="#6998b5"/><stop offset="0.047" stop-color="#5f9638"/><stop offset="0.07" stop-color="#5f9536"/><stop offset="0.087" stop-color="#b4b940"/><stop offset="0.093" stop-color="#bfbe44"/><stop offset="0.122" stop-color="#c59f31"/><stop offset="0.349" stop-color="#a42c22"/><stop offset="0.471" stop-color="#902422"/><stop offset="0.564" stop-color="#932522"/><stop offset="0.645" stop-color="#a42a22"/><stop offset="0.878" stop-color="#c59f31"/><stop offset="0.907" stop-color="#bfbe44"/><stop offset="0.913" stop-color="#b4b940"/><stop offset="0.93" stop-color="#5f9536"/><stop offset="0.948" stop-color="#5f9536"/><stop offset="0.953" stop-color="#5f9638"/><stop offset="0.977" stop-color="#6998b5"/><stop offset="0.988" stop-color="#345b97"/><stop offset="0.994" stop-color="#2a4a86"/><stop offset="1" stop-color="#b45624"/></linearGradient><linearGradient id="g94" x1="0" y1="0" x2="1" y2="0"><stop offset="0" stop-color="#243f7a"/><stop offset="0.012" stop-color="#2b4c89"/><stop offset="0.017" stop-color="#39619a"/><stop offset="0.029" stop-color="#6c9cb6"/><stop offset="0.047" stop-color="#5f964f"/><stop offset="0.052" stop-color="#5f9636"/><stop offset="0.087" stop-color="#5f9536"/><stop offset="0.105" stop-color="#b3b940"/><stop offset="0.11" stop-color="#bebe44"/><stop offset="0.14" stop-color="#c59f31"/><stop offset="0.36" stop-color="#a52e22"/><stop offset="0.471" stop-color="#932522"/><stop offset="0.628" stop-color="#a42a22"/><stop offset="0.86" stop-color="#c59f31"/><stop offset="0.89" stop-color="#bebe44"/><stop offset="0.895" stop-color="#b3b940"/><stop offset="0.913" stop-color="#5f9536"/><stop offset="0.948" stop-color="#5f9636"/><stop offset="0.953" stop-color="#5f964f"/><stop offset="0.971" stop-color="#6c9cb6"/><stop offset="0.983" stop-color="#39619a"/><stop offset="0.994" stop-color="#274581"/><stop offset="1" stop-color="#b45624"/></linearGradient><linearGradient id="g95" x1="0" y1="0" x2="1" y2="0"><stop offset="0" stop-color="#243f7a"/><stop offset="0.017" stop-color="#2d508d"/><stop offset="0.029" stop-color="#5986ac"/><stop offset="0.035" stop-color="#6b9baf"/><stop offset="0.052" stop-color="#5f9648"/><stop offset="0.058" stop-color="#5f9536"/><stop offset="0.105" stop-color="#609636"/><stop offset="0.122" stop-color="#b5ba41"/><stop offset="0.128" stop-color="#bfbd43"/><stop offset="0.157" stop-color="#c59f31"/><stop offset="0.378" stop-color="#a52e22"/><stop offset="0.5" stop-color="#962522"/><stop offset="0.622" stop-color="#a52e22"/><stop offset="0.843" stop-color="#c59f31"/><stop offset="0.872" stop-color="#bfbd43"/><stop offset="0.878" stop-color="#b5ba41"/><stop offset="0.895" stop-color="#609636"/><stop offset="0.942" stop-color="#5f9536"/><stop offset="0.948" stop-color="#5f9648"/><stop offset="0.965" stop-color="#6b9baf"/><stop offset="0.971" stop-color="#5986ac"/><stop offset="0.983" stop-color="#2d508d"/><stop offset="0.994" stop-color="#26447f"/><stop offset="1" stop-color="#b45624"/></linearGradient><linearGradient id="g96" x1="0" y1="0" x2="1" y2="0"><stop offset="0" stop-color="#243f7a"/><stop offset="0.023" stop-color="#2f5591"/><stop offset="0.035" stop-color="#608eb0"/><stop offset="0.041" stop-color="#699ba7"/><stop offset="0.058" stop-color="#5f9641"/><stop offset="0.064" stop-color="#5f9536"/><stop offset="0.116" stop-color="#5c9436"/><stop offset="0.122" stop-color="#669836"/><stop offset="0.14" stop-color="#babc42"/><stop offset="0.174" stop-color="#c59d30"/><stop offset="0.384" stop-color="#a73222"/><stop offset="0.5" stop-color="#992622"/><stop offset="0.616" stop-color="#a73222"/><stop offset="0.826" stop-color="#c59d30"/><stop offset="0.86" stop-color="#babc42"/><stop offset="0.878" stop-color="#669836"/><stop offset="0.884" stop-color="#5c9436"/><stop offset="0.936" stop-color="#5f9536"/><stop offset="0.942" stop-color="#5f9641"/><stop offset="0.959" stop-color="#699ba7"/><stop offset="0.965" stop-color="#608eb0"/><stop offset="0.977" stop-color="#2f5591"/><stop offset="0.994" stop-color="#26437e"/><stop offset="1" stop-color="#b45624"/></linearGradient><linearGradient id="g97" x1="0" y1="0" x2="1" y2="0"><stop offset="0" stop-color="#243f7a"/><stop offset="0.023" stop-color="#2a4b87"/><stop offset="0.029" stop-color="#345b97"/><stop offset="0.041" stop-color="#6998b5"/><stop offset="0.064" stop-color="#5f9638"/><stop offset="0.134" stop-color="#5c9436"/><stop offset="0.157" stop-color="#bdbe43"/><stop offset="0.192" stop-color="#c59b2f"/><stop offset="0.401" stop-color="#a63122"/><stop offset="0.517" stop-color="#9c2722"/><stop offset="0.57" stop-color="#a32922"/><stop offset="0.616" stop-color="#a93822"/><stop offset="0.814" stop-color="#c4a132"/><stop offset="0.843" stop-color="#bdbe43"/><stop offset="0.866" stop-color="#5c9436"/><stop offset="0.936" stop-color="#5f9638"/><stop offset="0.959" stop-color="#6998b5"/><stop offset="0.971" stop-color="#345b97"/><stop offset="0.977" stop-color="#2a4b87"/><stop offset="0.994" stop-color="#25427e"/><stop offset="1" stop-color="#b45624"/></linearGradient><linearGradient id="g98" x1="0" y1="0" x2="1" y2="0"><stop offset="0" stop-color="#243f7a"/><stop offset="0.029" stop-color="#2d4f8c"/><stop offset="0.041" stop-color="#5885ac"/><stop offset="0.047" stop-color="#6b9cb0"/><stop offset="0.064" stop-color="#5f9649"/><stop offset="0.07" stop-color="#5f9636"/><stop offset="0.145" stop-color="#5c9436"/><stop offset="0.151" stop-color="#699936"/><stop offset="0.169" stop-color="#bbbc43"/><stop offset="0.203" stop-color="#c59c30"/><stop offset="0.401" stop-color="#a83622"/><stop offset="0.5" stop-color="#9f2822"/><stop offset="0.599" stop-color="#a83622"/><stop offset="0.797" stop-color="#c59c30"/><stop offset="0.831" stop-color="#bbbc43"/><stop offset="0.849" stop-color="#699936"/><stop offset="0.855" stop-color="#5c9436"/><stop offset="0.93" stop-color="#5f9636"/><stop offset="0.936" stop-color="#5f9649"/><stop offset="0.953" stop-color="#6b9cb0"/><stop offset="0.959" stop-color="#5885ac"/><stop offset="0.971" stop-color="#2d4f8c"/><stop offset="0.994" stop-color="#25427d"/><stop offset="1" stop-color="#b45624"/></linearGradient><linearGradient id="g99" x1="0" y1="0" x2="1" y2="0"><stop offset="0" stop-color="#243f7a"/><stop offset="0.029" stop-color="#2a4b87"/><stop offset="0.035" stop-color="#315795"/><stop offset="0.047" stop-color="#6593b3"/><stop offset="0.052" stop-color="#689aa1"/><stop offset="0.07" stop-color="#5f963c"/><stop offset="0.076" stop-color="#5f9536"/><stop offset="0.157" stop-color="#5c9436"/><stop offset="0.163" stop-color="#699936"/><stop offset="0.18" stop-color="#bbbc43"/><stop offset="0.215" stop-color="#c59c30"/><stop offset="0.407" stop-color="#a93822"/><stop offset="0.5" stop-color="#a12822"/><stop offset="0.593" stop-color="#a93822"/><stop offset="0.785" stop-color="#c59c30"/><stop offset="0.82" stop-color="#bbbc43"/><stop offset="0.837" stop-color="#699936"/><stop offset="0.843" stop-color="#5c9436"/><stop offset="0.924" stop-color="#5f9536"/><stop offset="0.93" stop-color="#5f963c"/><stop offset="0.948" stop-color="#689aa1"/><stop offset="0.953" stop-color="#6593b3"/><stop offset="0.965" stop-color="#315795"/><stop offset="0.971" stop-color="#2a4b87"/><stop offset="0.994" stop-color="#25417d"/><stop offset="1" stop-color="#b45624"/></linearGradient><linearGradient id="g100" x1="0" y1="0" x2="1" y2="0"><stop offset="0" stop-color="#243f7a"/><stop offset="0.035" stop-color="#2d508d"/><stop offset="0.047" stop-color="#5986ac"/><stop offset="0.052" stop-color="#6b9baf"/><stop offset="0.07" stop-color="#5f9648"/><stop offset="0.076" stop-color="#5f9536"/><stop offset="0.169" stop-color="#5c9436"/><stop offset="0.192" stop-color="#bdbe44"/><stop offset="0.227" stop-color="#c59b2f"/><stop offset="0.419" stop-color="#a93722"/><stop offset="0.512" stop-color="#a32922"/><stop offset="0.593" stop-color="#aa3c22"/><stop offset="0.779" stop-color="#c4a132"/><stop offset="0.808" stop-color="#bdbe44"/><stop offset="0.831" stop-color="#5c9436"/><stop offset="0.924" stop-color="#5f9536"/><stop offset="0.93" stop-color="#5f9648"/><stop offset="0.948" stop-color="#6b9baf"/><stop offset="0.953" stop-color="#5986ac"/><stop offset="0.965" stop-color="#2d508d"/><stop offset="0.994" stop-color="#25417d"/><stop offset="1" stop-color="#b45624"/></linearGradient><linearGradient id="g101" x1="0" y1="0" x2="1" y2="0"><stop offset="0" stop-color="#243f7a"/><stop offset="0.035" stop-color="#2a4b88"/><stop offset="0.041" stop-color="#365d98"/><stop offset="0.052" stop-color="#6b9ab6"/><stop offset="0.076" stop-color="#5f9636"/><stop offset="0.174" stop-color="#5c9436"/><stop offset="0.18" stop-color="#6b9a36"/><stop offset="0.198" stop-color="#bbbd43"/><stop offset="0.233" stop-color="#c59c30"/><stop offset="0.419" stop-color="#aa3a22"/><stop offset="0.506" stop-color="#a42a22"/><stop offset="0.587" stop-color="#ab3c22"/><stop offset="0.773" stop-color="#c4a233"/><stop offset="0.802" stop-color="#bbbd43"/><stop offset="0.82" stop-color="#6b9a36"/><stop offset="0.826" stop-color="#5c9436"/><stop offset="0.924" stop-color="#5f9636"/><stop offset="0.948" stop-color="#6b9ab6"/><stop offset="0.959" stop-color="#365d98"/><stop offset="0.965" stop-color="#2a4b88"/><stop offset="0.994" stop-color="#25417d"/><stop offset="1" stop-color="#b45624"/></linearGradient><linearGradient id="g102" x1="0" y1="0" x2="1" y2="0"><stop offset="0" stop-color="#243f7a"/><stop offset="0.035" stop-color="#2a4b87"/><stop offset="0.041" stop-color="#315794"/><stop offset="0.052" stop-color="#6593b3"/><stop offset="0.058" stop-color="#689aa2"/><stop offset="0.076" stop-color="#5f963c"/><stop offset="0.081" stop-color="#5f9536"/><stop offset="0.18" stop-color="#5c9436"/><stop offset="0.203" stop-color="#bcbd43"/><stop offset="0.238" stop-color="#c59b2f"/><stop offset="0.424" stop-color="#aa3922"/><stop offset="0.506" stop-color="#a42b22"/><stop offset="0.581" stop-color="#aa3c22"/><stop offset="0.767" stop-color="#c4a133"/><stop offset="0.797" stop-color="#bcbd43"/><stop offset="0.82" stop-color="#5c9436"/><stop offset="0.919" stop-color="#5f9536"/><stop offset="0.924" stop-color="#5f963c"/><stop offset="0.942" stop-color="#689aa2"/><stop offset="0.948" stop-color="#6593b3"/><stop offset="0.959" stop-color="#315794"/><stop offset="0.965" stop-color="#2a4b87"/><stop offset="0.994" stop-color="#25417d"/><stop offset="1" stop-color="#b45624"/></linearGradient><linearGradient id="g103" x1="0" y1="0" x2="1" y2="0"><stop offset="0" stop-color="#243f7a"/><stop offset="0.035" stop-color="#2a4b87"/><stop offset="0.041" stop-color="#305592"/><stop offset="0.052" stop-color="#6290b1"/><stop offset="0.058" stop-color="#699aa5"/><stop offset="0.076" stop-color="#5f963f"/><stop offset="0.081" stop-color="#5f9536"/><stop offset="0.18" stop-color="#5c9436"/><stop offset="0.186" stop-color="#649736"/><stop offset="0.203" stop-color="#b9bc42"/><stop offset="0.238" stop-color="#c59e30"/><stop offset="0.424" stop-color="#aa3a22"/><stop offset="0.5" stop-color="#a42c22"/><stop offset="0.576" stop-color="#aa3a22"/><stop offset="0.762" stop-color="#c59e30"/><stop offset="0.797" stop-color="#b9bc42"/><stop offset="0.814" stop-color="#649736"/><stop offset="0.82" stop-color="#5c9436"/><stop offset="0.919" stop-color="#5f9536"/><stop offset="0.924" stop-color="#5f963f"/><stop offset="0.942" stop-color="#699aa5"/><stop offset="0.948" stop-color="#6290b1"/><stop offset="0.959" stop-color="#305592"/><stop offset="0.965" stop-color="#2a4b87"/><stop offset="0.994" stop-color="#25417d"/><stop offset="1" stop-color="#b45624"/></linearGradient><linearGradient id="g104" x1="0" y1="0" x2="1" y2="0"><stop offset="0" stop-color="#243f7a"/><stop offset="0.035" stop-color="#2a4b87"/><stop offset="0.041" stop-color="#305592"/><stop offset="0.052" stop-color="#6290b1"/><stop offset="0.058" stop-color="#699aa5"/><stop offset="0.076" stop-color="#5f963f"/><stop offset="0.081" stop-color="#5f9536"/><stop offset="0.18" stop-color="#5c9436"/><stop offset="0.186" stop-color="#649736"/><stop offset="0.203" stop-color="#b9bc42"/><stop offset="0.238" stop-color="#c59e30"/><stop offset="0.424" stop-color="#aa3a22"/><stop offset="0.5" stop-color="#a42c22"/><stop offset="0.576" stop-color="#aa3a22"/><stop offset="0.762" stop-color="#c59e30"/><stop offset="0.797" stop-color="#b9bc42"/><stop offset="0.814" stop-color="#649736"/><stop offset="0.82" stop-color="#5c9436"/><stop offset="0.919" stop-color="#5f9536"/><stop offset="0.924" stop-color="#5f963f"/><stop offset="0.942" stop-color="#699aa5"/><stop offset="0.948" stop-color="#6290b1"/><stop offset="0.959" stop-color="#305592"/><stop offset="0.965" stop-color="#2a4b87"/><stop offset="0.994" stop-color="#25417d"/><stop offset="1" stop-color="#b45624"/></linearGradient><linearGradient id="g105" x1="0" y1="0" x2="1" y2="0"><stop offset="0" stop-color="#243f7a"/><stop offset="0.035" stop-color="#2a4b87"/><stop offset="0.041" stop-color="#315794"/><stop offset="0.052" stop-color="#6593b3"/><stop offset="0.058" stop-color="#689aa2"/><stop offset="0.076" stop-color="#5f963c"/><stop offset="0.081" stop-color="#5f9536"/><stop offset="0.18" stop-color="#5c9436"/><stop offset="0.203" stop-color="#bcbd43"/><stop offset="0.238" stop-color="#c59b2f"/><stop offset="0.424" stop-color="#aa3922"/><stop offset="0.506" stop-color="#a42b22"/><stop offset="0.581" stop-color="#aa3c22"/><stop offset="0.767" stop-color="#c4a133"/><stop offset="0.797" stop-color="#bcbd43"/><stop offset="0.82" stop-color="#5c9436"/><stop offset="0.919" stop-color="#5f9536"/><stop offset="0.924" stop-color="#5f963c"/><stop offset="0.942" stop-color="#689aa2"/><stop offset="0.948" stop-color="#6593b3"/><stop offset="0.959" stop-color="#315794"/><stop offset="0.965" stop-color="#2a4b87"/><stop offset="0.994" stop-color="#25417d"/><stop offset="1" stop-color="#b45624"/></linearGradient><linearGradient id="g106" x1="0" y1="0" x2="1" y2="0"><stop offset="0" stop-color="#243f7a"/><stop offset="0.035" stop-color="#2a4b88"/><stop offset="0.041" stop-color="#365d98"/><stop offset="0.052" stop-color="#6b9ab6"/><stop offset="0.076" stop-color="#5f9636"/><stop offset="0.174" stop-color="#5c9436"/><stop offset="0.18" stop-color="#6b9a36"/><stop offset="0.198" stop-color="#bbbd43"/><stop offset="0.233" stop-color="#c59c30"/><stop offset="0.419" stop-color="#aa3a22"/><stop offset="0.506" stop-color="#a42a22"/><stop offset="0.587" stop-color="#ab3c22"/><stop offset="0.773" stop-color="#c4a233"/><stop offset="0.802" stop-color="#bbbd43"/><stop offset="0.82" stop-color="#6b9a36"/><stop offset="0.826" stop-color="#5c9436"/><stop offset="0.924" stop-color="#5f9636"/><stop offset="0.948" stop-color="#6b9ab6"/><stop offset="0.959" stop-color="#365d98"/><stop offset="0.965" stop-color="#2a4b88"/><stop offset="0.994" stop-color="#25417d"/><stop offset="1" stop-color="#b45624"/></linearGradient><linearGradient id="g107" x1="0" y1="0" x2="1" y2="0"><stop offset="0" stop-color="#243f7a"/><stop offset="0.035" stop-color="#2d508d"/><stop offset="0.047" stop-color="#5986ac"/><stop offset="0.052" stop-color="#6b9baf"/><stop offset="0.07" stop-color="#5f9648"/><stop offset="0.076" stop-color="#5f9536"/><stop offset="0.169" stop-color="#5c9436"/><stop offset="0.192" stop-color="#bdbe44"/><stop offset="0.227" stop-color="#c59b2f"/><stop offset="0.419" stop-color="#a93722"/><stop offset="0.512" stop-color="#a32922"/><stop offset="0.593" stop-color="#aa3c22"/><stop offset="0.779" stop-color="#c4a132"/><stop offset="0.808" stop-color="#bdbe44"/><stop offset="0.831" stop-color="#5c9436"/><stop offset="0.924" stop-color="#5f9536"/><stop offset="0.93" stop-color="#5f9648"/><stop offset="0.948" stop-color="#6b9baf"/><stop offset="0.953" stop-color="#5986ac"/><stop offset="0.965" stop-color="#2d508d"/><stop offset="0.994" stop-color="#25417d"/><stop offset="1" stop-color="#b45624"/></linearGradient><linearGradient id="g108" x1="0" y1="0" x2="1" y2="0"><stop offset="0" stop-color="#243f7a"/><stop offset="0.029" stop-color="#2a4b87"/><stop offset="0.035" stop-color="#315795"/><stop offset="0.047" stop-color="#6593b3"/><stop offset="0.052" stop-color="#689aa1"/><stop offset="0.07" stop-color="#5f963c"/><stop offset="0.076" stop-color="#5f9536"/><stop offset="0.157" stop-color="#5c9436"/><stop offset="0.163" stop-color="#699936"/><stop offset="0.18" stop-color="#bbbc43"/><stop offset="0.215" stop-color="#c59c30"/><stop offset="0.407" stop-color="#a93822"/><stop offset="0.5" stop-color="#a12822"/><stop offset="0.593" stop-color="#a93822"/><stop offset="0.785" stop-color="#c59c30"/><stop offset="0.82" stop-color="#bbbc43"/><stop offset="0.837" stop-color="#699936"/><stop offset="0.843" stop-color="#5c9436"/><stop offset="0.924" stop-color="#5f9536"/><stop offset="0.93" stop-color="#5f963c"/><stop offset="0.948" stop-color="#689aa1"/><stop offset="0.953" stop-color="#6593b3"/><stop offset="0.965" stop-color="#315795"/><stop offset="0.971" stop-color="#2a4b87"/><stop offset="0.994" stop-color="#25417d"/><stop offset="1" stop-color="#b45624"/></linearGradient><linearGradient id="g109" x1="0" y1="0" x2="1" y2="0"><stop offset="0" stop-color="#243f7a"/><stop offset="0.029" stop-color="#2d4f8c"/><stop offset="0.041" stop-color="#5885ac"/><stop offset="0.047" stop-color="#6b9cb0"/><stop offset="0.064" stop-color="#5f9649"/><stop offset="0.07" stop-color="#5f9636"/><stop offset="0.145" stop-color="#5c9436"/><stop offset="0.151" stop-color="#699936"/><stop offset="0.169" stop-color="#bbbc43"/><stop offset="0.203" stop-color="#c59c30"/><stop offset="0.401" stop-color="#a83622"/><stop offset="0.5" stop-color="#9f2822"/><stop offset="0.599" stop-color="#a83622"/><stop offset="0.797" stop-color="#c59c30"/><stop offset="0.831" stop-color="#bbbc43"/><stop offset="0.849" stop-color="#699936"/><stop offset="0.855" stop-color="#5c9436"/><stop offset="0.93" stop-color="#5f9636"/><stop offset="0.936" stop-color="#5f9649"/><stop offset="0.953" stop-color="#6b9cb0"/><stop offset="0.959" stop-color="#5885ac"/><stop offset="0.971" stop-color="#2d4f8c"/><stop offset="0.994" stop-color="#25427d"/><stop offset="1" stop-color="#b45624"/></linearGradient><linearGradient id="g110" x1="0" y1="0" x2="1" y2="0"><stop offset="0" stop-color="#243f7a"/><stop offset="0.023" stop-color="#2a4b87"/><stop offset="0.029" stop-color="#345b97"/><stop offset="0.041" stop-color="#6998b5"/><stop offset="0.064" stop-color="#5f9638"/><stop offset="0.134" stop-color="#5c9436"/><stop offset="0.157" stop-color="#bdbe43"/><stop offset="0.192" stop-color="#c59b2f"/><stop offset="0.401" stop-color="#a63122"/><stop offset="0.517" stop-color="#9c2722"/><stop offset="0.57" stop-color="#a32922"/><stop offset="0.616" stop-color="#a93822"/><stop offset="0.814" stop-color="#c4a132"/><stop offset="0.843" stop-color="#bdbe43"/><stop offset="0.866" stop-color="#5c9436"/><stop offset="0.936" stop-color="#5f9638"/><stop offset="0.959" stop-color="#6998b5"/><stop offset="0.971" stop-color="#345b97"/><stop offset="0.977" stop-color="#2a4b87"/><stop offset="0.994" stop-color="#25427e"/><stop offset="1" stop-color="#b45624"/></linearGradient><linearGradient id="g111" x1="0" y1="0" x2="1" y2="0"><stop offset="0" stop-color="#243f7a"/><stop offset="0.023" stop-color="#2f5591"/><stop offset="0.035" stop-color="#608eb0"/><stop offset="0.041" stop-color="#699ba7"/><stop offset="0.058" stop-color="#5f9641"/><stop offset="0.064" stop-color="#5f9536"/><stop offset="0.116" stop-color="#5c9436"/><stop offset="0.122" stop-color="#669836"/><stop offset="0.14" stop-color="#babc42"/><stop offset="0.174" stop-color="#c59d30"/><stop offset="0.384" stop-color="#a73222"/><stop offset="0.5" stop-color="#992622"/><stop offset="0.616" stop-color="#a73222"/><stop offset="0.826" stop-color="#c59d30"/><stop offset="0.86" stop-color="#babc42"/><stop offset="0.878" stop-color="#669836"/><stop offset="0.884" stop-color="#5c9436"/><stop offset="0.936" stop-color="#5f9536"/><stop offset="0.942" stop-color="#5f9641"/><stop offset="0.959" stop-color="#699ba7"/><stop offset="0.965" stop-color="#608eb0"/><stop offset="0.977" stop-color="#2f5591"/><stop offset="0.994" stop-color="#26437e"/><stop offset="1" stop-color="#b45624"/></linearGradient><linearGradient id="g112" x1="0" y1="0" x2="1" y2="0"><stop offset="0" stop-color="#243f7a"/><stop offset="0.017" stop-color="#2d508d"/><stop offset="0.029" stop-color="#5986ac"/><stop offset="0.035" stop-color="#6b9baf"/><stop offset="0.052" stop-color="#5f9648"/><stop offset="0.058" stop-color="#5f9536"/><stop offset="0.105" stop-color="#609636"/><stop offset="0.122" stop-color="#b5ba41"/><stop offset="0.128" stop-color="#bfbd43"/><stop offset="0.157" stop-color="#c59f31"/><stop offset="0.378" stop-color="#a52e22"/><stop offset="0.5" stop-color="#962522"/><stop offset="0.622" stop-color="#a52e22"/><stop offset="0.843" stop-color="#c59f31"/><stop offset="0.872" stop-color="#bfbd43"/><stop offset="0.878" stop-color="#b5ba41"/><stop offset="0.895" stop-color="#609636"/><stop offset="0.942" stop-color="#5f9536"/><stop offset="0.948" stop-color="#5f9648"/><stop offset="0.965" stop-color="#6b9baf"/><stop offset="0.971" stop-color="#5986ac"/><stop offset="0.983" stop-color="#2d508d"/><stop offset="0.994" stop-color="#26447f"/><stop offset="1" stop-color="#b45624"/></linearGradient><linearGradient id="g113" x1="0" y1="0" x2="1" y2="0"><stop offset="0" stop-color="#243f7a"/><stop offset="0.012" stop-color="#2b4c89"/><stop offset="0.017" stop-color="#39619a"/><stop offset="0.029" stop-color="#6c9cb6"/><stop offset="0.047" stop-color="#5f964f"/><stop offset="0.052" stop-color="#5f9636"/><stop offset="0.087" stop-color="#5f9536"/><stop offset="0.105" stop-color="#b3b940"/><stop offset="0.11" stop-color="#bebe44"/><stop offset="0.14" stop-color="#c59f31"/><stop offset="0.36" stop-color="#a52e22"/><stop offset="0.471" stop-color="#932522"/><stop offset="0.628" stop-color="#a42a22"/><stop offset="0.86" stop-color="#c59f31"/><stop offset="0.89" stop-color="#bebe44"/><stop offset="0.895" stop-color="#b3b940"/><stop offset="0.913" stop-color="#5f9536"/><stop offset="0.948" stop-color="#5f9636"/><stop offset="0.953" stop-color="#5f964f"/><stop offset="0.971" stop-color="#6c9cb6"/><stop offset="0.983" stop-color="#39619a"/><stop offset="0.994" stop-color="#274581"/><stop offset="1" stop-color="#b45624"/></linearGradient><linearGradient id="g114" x1="0" y1="0" x2="1" y2="0"><stop offset="0" stop-color="#243f7a"/><stop offset="0.012" stop-color="#345b97"/><stop offset="0.023" stop-color="#6998b5"/><stop offset="0.047" stop-color="#5f9638"/><stop offset="0.07" stop-color="#5f9536"/><stop offset="0.087" stop-color="#b4b940"/><stop offset="0.093" stop-color="#bfbe44"/><stop offset="0.122" stop-color="#c59f31"/><stop offset="0.349" stop-color="#a42c22"/><stop offset="0.471" stop-color="#902422"/><stop offset="0.564" stop-color="#932522"/><stop offset="0.645" stop-color="#a42a22"/><stop offset="0.878" stop-color="#c59f31"/><stop offset="0.907" stop-color="#bfbe44"/><stop offset="0.913" stop-color="#b4b940"/><stop offset="0.93" stop-color="#5f9536"/><stop offset="0.948" stop-color="#5f9536"/><stop offset="0.953" stop-color="#5f9638"/><stop offset="0.977" stop-color="#6998b5"/><stop offset="0.988" stop-color="#345b97"/><stop offset="0.994" stop-color="#2a4a86"/><stop offset="1" stop-color="#b45624"/></linearGradient><linearGradient id="g115" x1="0" y1="0" x2="1" y2="0"><stop offset="0" stop-color="#223b73"/><stop offset="0.012" stop-color="#31568e"/><stop offset="0.024" stop-color="#638fab"/><stop offset="0.048" stop-color="#5a8d35"/><stop offset="0.073" stop-color="#598c33"/><stop offset="0.091" stop-color="#a9ae3d"/><stop offset="0.097" stop-color="#b3b340"/><stop offset="0.133" stop-color="#b9912c"/><stop offset="0.37" stop-color="#9b2a20"/><stop offset="0.521" stop-color="#8d2320"/><stop offset="0.648" stop-color="#9d2f20"/><stop offset="0.873" stop-color="#b9962e"/><stop offset="0.903" stop-color="#b3b340"/><stop offset="0.909" stop-color="#a9ae3d"/><stop offset="0.927" stop-color="#598c33"/><stop offset="0.952" stop-color="#5a8d35"/><stop offset="0.976" stop-color="#638fab"/><stop offset="0.988" stop-color="#31568e"/><stop offset="1" stop-color="#223b73"/></linearGradient><linearGradient id="g116" x1="0" y1="0" x2="1" y2="0"><stop offset="0" stop-color="#223b73"/><stop offset="0.012" stop-color="#284881"/><stop offset="0.018" stop-color="#365b91"/><stop offset="0.03" stop-color="#6693ac"/><stop offset="0.048" stop-color="#5a8d4a"/><stop offset="0.055" stop-color="#5a8d33"/><stop offset="0.091" stop-color="#598c33"/><stop offset="0.109" stop-color="#a8ae3c"/><stop offset="0.115" stop-color="#b3b340"/><stop offset="0.152" stop-color="#b9912c"/><stop offset="0.376" stop-color="#9c2e20"/><stop offset="0.521" stop-color="#912420"/><stop offset="0.594" stop-color="#992620"/><stop offset="0.642" stop-color="#9f3320"/><stop offset="0.855" stop-color="#b9962e"/><stop offset="0.885" stop-color="#b3b340"/><stop offset="0.891" stop-color="#a8ae3c"/><stop offset="0.909" stop-color="#598c33"/><stop offset="0.945" stop-color="#5a8d33"/><stop offset="0.952" stop-color="#5a8d4a"/><stop offset="0.97" stop-color="#6693ac"/><stop offset="0.982" stop-color="#365b91"/><stop offset="0.988" stop-color="#284881"/><stop offset="1" stop-color="#223b73"/></linearGradient><linearGradient id="g117" x1="0" y1="0" x2="1" y2="0"><stop offset="0" stop-color="#223b73"/><stop offset="0.018" stop-color="#2a4b84"/><stop offset="0.03" stop-color="#547ea2"/><stop offset="0.036" stop-color="#6592a5"/><stop offset="0.055" stop-color="#5a8d44"/><stop offset="0.061" stop-color="#598d33"/><stop offset="0.109" stop-color="#5a8d33"/><stop offset="0.127" stop-color="#aaae3d"/><stop offset="0.133" stop-color="#b3b240"/><stop offset="0.164" stop-color="#b9952e"/><stop offset="0.376" stop-color="#9e3320"/><stop offset="0.497" stop-color="#942520"/><stop offset="0.576" stop-color="#9a2720"/><stop offset="0.624" stop-color="#9e3320"/><stop offset="0.836" stop-color="#b9952e"/><stop offset="0.867" stop-color="#b3b240"/><stop offset="0.873" stop-color="#aaae3d"/><stop offset="0.891" stop-color="#5a8d33"/><stop offset="0.939" stop-color="#598d33"/><stop offset="0.945" stop-color="#5a8d44"/><stop offset="0.964" stop-color="#6592a5"/><stop offset="0.97" stop-color="#547ea2"/><stop offset="0.982" stop-color="#2a4b84"/><stop offset="1" stop-color="#223b73"/></linearGradient><linearGradient id="g118" x1="0" y1="0" x2="1" y2="0"><stop offset="0" stop-color="#223b73"/><stop offset="0.024" stop-color="#2c4f89"/><stop offset="0.036" stop-color="#5a85a6"/><stop offset="0.042" stop-color="#63919d"/><stop offset="0.061" stop-color="#5a8d3d"/><stop offset="0.067" stop-color="#598d33"/><stop offset="0.121" stop-color="#578b33"/><stop offset="0.127" stop-color="#608f33"/><stop offset="0.145" stop-color="#afb13e"/><stop offset="0.182" stop-color="#b9942d"/><stop offset="0.388" stop-color="#9f3520"/><stop offset="0.497" stop-color="#972620"/><stop offset="0.612" stop-color="#9f3520"/><stop offset="0.818" stop-color="#b9942d"/><stop offset="0.855" stop-color="#afb13e"/><stop offset="0.873" stop-color="#608f33"/><stop offset="0.879" stop-color="#578b33"/><stop offset="0.933" stop-color="#598d33"/><stop offset="0.939" stop-color="#5a8d3d"/><stop offset="0.958" stop-color="#63919d"/><stop offset="0.964" stop-color="#5a85a6"/><stop offset="0.976" stop-color="#2c4f89"/><stop offset="1" stop-color="#223b73"/></linearGradient><linearGradient id="g119" x1="0" y1="0" x2="1" y2="0"><stop offset="0" stop-color="#223b73"/><stop offset="0.024" stop-color="#28477f"/><stop offset="0.03" stop-color="#30568e"/><stop offset="0.042" stop-color="#628eaa"/><stop offset="0.067" stop-color="#5a8d35"/><stop offset="0.139" stop-color="#568b33"/><stop offset="0.164" stop-color="#b2b23f"/><stop offset="0.2" stop-color="#b9922d"/><stop offset="0.4" stop-color="#9f3620"/><stop offset="0.515" stop-color="#9a2620"/><stop offset="0.612" stop-color="#a13a20"/><stop offset="0.806" stop-color="#b9972f"/><stop offset="0.836" stop-color="#b2b23f"/><stop offset="0.861" stop-color="#568b33"/><stop offset="0.933" stop-color="#5a8d35"/><stop offset="0.958" stop-color="#628eaa"/><stop offset="0.97" stop-color="#30568e"/><stop offset="0.976" stop-color="#28477f"/><stop offset="1" stop-color="#223b73"/></linearGradient><linearGradient id="g120" x1="0" y1="0" x2="1" y2="0"><stop offset="0" stop-color="#223b73"/><stop offset="0.03" stop-color="#2a4b84"/><stop offset="0.048" stop-color="#6592a6"/><stop offset="0.067" stop-color="#5a8d45"/><stop offset="0.073" stop-color="#598d33"/><stop offset="0.152" stop-color="#578b33"/><stop offset="0.158" stop-color="#629033"/><stop offset="0.176" stop-color="#afb13f"/><stop offset="0.212" stop-color="#ba932d"/><stop offset="0.412" stop-color="#a03620"/><stop offset="0.515" stop-color="#9b2920"/><stop offset="0.588" stop-color="#a03620"/><stop offset="0.715" stop-color="#b36e27"/><stop offset="0.788" stop-color="#ba932d"/><stop offset="0.818" stop-color="#b4b13e"/><stop offset="0.824" stop-color="#afb13f"/><stop offset="0.842" stop-color="#629033"/><stop offset="0.848" stop-color="#578b33"/><stop offset="0.927" stop-color="#598d33"/><stop offset="0.933" stop-color="#5a8d45"/><stop offset="0.952" stop-color="#6592a6"/><stop offset="0.97" stop-color="#2a4b84"/><stop offset="1" stop-color="#223b73"/></linearGradient><linearGradient id="g121" x1="0" y1="0" x2="1" y2="0"><stop offset="0" stop-color="#223b73"/><stop offset="0.03" stop-color="#28467f"/><stop offset="0.036" stop-color="#2e528c"/><stop offset="0.048" stop-color="#5f8aa8"/><stop offset="0.055" stop-color="#629198"/><stop offset="0.073" stop-color="#5a8d39"/><stop offset="0.164" stop-color="#568b33"/><stop offset="0.17" stop-color="#629033"/><stop offset="0.188" stop-color="#afb13f"/><stop offset="0.194" stop-color="#b4b13e"/><stop offset="0.224" stop-color="#ba942d"/><stop offset="0.297" stop-color="#b36e27"/><stop offset="0.418" stop-color="#a03820"/><stop offset="0.485" stop-color="#9b2b20"/><stop offset="0.582" stop-color="#a03820"/><stop offset="0.776" stop-color="#ba942d"/><stop offset="0.812" stop-color="#afb13f"/><stop offset="0.83" stop-color="#629033"/><stop offset="0.836" stop-color="#568b33"/><stop offset="0.921" stop-color="#598d33"/><stop offset="0.927" stop-color="#5a8d39"/><stop offset="0.945" stop-color="#629198"/><stop offset="0.952" stop-color="#5f8aa8"/><stop offset="0.964" stop-color="#2e528c"/><stop offset="0.97" stop-color="#28467f"/><stop offset="1" stop-color="#223b73"/></linearGradient><linearGradient id="g122" x1="0" y1="0" x2="1" y2="0"><stop offset="0" stop-color="#223b73"/><stop offset="0.036" stop-color="#2a4b84"/><stop offset="0.048" stop-color="#547ea2"/><stop offset="0.055" stop-color="#6592a5"/><stop offset="0.073" stop-color="#5a8d45"/><stop offset="0.079" stop-color="#598d33"/><stop offset="0.176" stop-color="#568b33"/><stop offset="0.2" stop-color="#b2b240"/><stop offset="0.236" stop-color="#b9922d"/><stop offset="0.424" stop-color="#a13a20"/><stop offset="0.515" stop-color="#9c2d20"/><stop offset="0.576" stop-color="#a13a20"/><stop offset="0.691" stop-color="#b36d26"/><stop offset="0.764" stop-color="#b9922d"/><stop offset="0.794" stop-color="#b4af3d"/><stop offset="0.8" stop-color="#b2b240"/><stop offset="0.806" stop-color="#a0aa3a"/><stop offset="0.824" stop-color="#568b33"/><stop offset="0.921" stop-color="#598d33"/><stop offset="0.927" stop-color="#5a8d45"/><stop offset="0.945" stop-color="#6592a5"/><stop offset="0.952" stop-color="#547ea2"/><stop offset="0.964" stop-color="#2a4b84"/><stop offset="1" stop-color="#223b73"/></linearGradient><linearGradient id="g123" x1="0" y1="0" x2="1" y2="0"><stop offset="0" stop-color="#223b73"/><stop offset="0.036" stop-color="#284780"/><stop offset="0.042" stop-color="#32588f"/><stop offset="0.055" stop-color="#6491ac"/><stop offset="0.079" stop-color="#5a8d33"/><stop offset="0.182" stop-color="#568b33"/><stop offset="0.188" stop-color="#649033"/><stop offset="0.206" stop-color="#b0b23f"/><stop offset="0.242" stop-color="#ba932d"/><stop offset="0.43" stop-color="#a13a20"/><stop offset="0.515" stop-color="#9d2f20"/><stop offset="0.57" stop-color="#a13a20"/><stop offset="0.685" stop-color="#b36e27"/><stop offset="0.758" stop-color="#ba932d"/><stop offset="0.788" stop-color="#b4b03e"/><stop offset="0.794" stop-color="#b0b23f"/><stop offset="0.812" stop-color="#649033"/><stop offset="0.818" stop-color="#568b33"/><stop offset="0.921" stop-color="#5a8d33"/><stop offset="0.945" stop-color="#6491ac"/><stop offset="0.958" stop-color="#32588f"/><stop offset="0.964" stop-color="#284780"/><stop offset="1" stop-color="#223b73"/></linearGradient><linearGradient id="g124" x1="0" y1="0" x2="1" y2="0"><stop offset="0" stop-color="#223b73"/><stop offset="0.036" stop-color="#28477f"/><stop offset="0.042" stop-color="#2e528c"/><stop offset="0.055" stop-color="#5e8aa8"/><stop offset="0.061" stop-color="#629198"/><stop offset="0.079" stop-color="#5a8d39"/><stop offset="0.085" stop-color="#598d33"/><stop offset="0.188" stop-color="#568b33"/><stop offset="0.212" stop-color="#b1b23f"/><stop offset="0.248" stop-color="#b9922d"/><stop offset="0.436" stop-color="#a13a20"/><stop offset="0.515" stop-color="#9d3020"/><stop offset="0.564" stop-color="#a13a20"/><stop offset="0.679" stop-color="#b36d27"/><stop offset="0.752" stop-color="#b9922d"/><stop offset="0.782" stop-color="#b4af3e"/><stop offset="0.788" stop-color="#b1b23f"/><stop offset="0.812" stop-color="#568b33"/><stop offset="0.915" stop-color="#598d33"/><stop offset="0.921" stop-color="#5a8d39"/><stop offset="0.939" stop-color="#629198"/><stop offset="0.945" stop-color="#5e8aa8"/><stop offset="0.958" stop-color="#2e528c"/><stop offset="0.964" stop-color="#28477f"/><stop offset="1" stop-color="#223b73"/></linearGradient><linearGradient id="g125" x1="0" y1="0" x2="1" y2="0"><stop offset="0" stop-color="#223b73"/><stop offset="0.036" stop-color="#28467f"/><stop offset="0.042" stop-color="#2d508a"/><stop offset="0.055" stop-color="#5c87a7"/><stop offset="0.061" stop-color="#63919c"/><stop offset="0.079" stop-color="#5a8d3c"/><stop offset="0.085" stop-color="#598d33"/><stop offset="0.188" stop-color="#578b33"/><stop offset="0.194" stop-color="#5d8e33"/><stop offset="0.212" stop-color="#adb03e"/><stop offset="0.248" stop-color="#b9952e"/><stop offset="0.436" stop-color="#a13b20"/><stop offset="0.515" stop-color="#9d3020"/><stop offset="0.564" stop-color="#a13b20"/><stop offset="0.679" stop-color="#b46f27"/><stop offset="0.745" stop-color="#b9902c"/><stop offset="0.782" stop-color="#b3b23f"/><stop offset="0.788" stop-color="#adb03e"/><stop offset="0.806" stop-color="#5d8e33"/><stop offset="0.812" stop-color="#578b33"/><stop offset="0.915" stop-color="#598d33"/><stop offset="0.921" stop-color="#5a8d3c"/><stop offset="0.939" stop-color="#63919c"/><stop offset="0.945" stop-color="#5c87a7"/><stop offset="0.958" stop-color="#2d508a"/><stop offset="0.964" stop-color="#28467f"/><stop offset="1" stop-color="#223b73"/></linearGradient><linearGradient id="g126" x1="0" y1="0" x2="1" y2="0"><stop offset="0" stop-color="#223b73"/><stop offset="0.036" stop-color="#28467f"/><stop offset="0.042" stop-color="#2d508a"/><stop offset="0.055" stop-color="#5c87a7"/><stop offset="0.061" stop-color="#63919c"/><stop offset="0.079" stop-color="#5a8d3c"/><stop offset="0.085" stop-color="#598d33"/><stop offset="0.188" stop-color="#578b33"/><stop offset="0.194" stop-color="#5d8e33"/><stop offset="0.212" stop-color="#adb03e"/><stop offset="0.248" stop-color="#b9952e"/><stop offset="0.436" stop-color="#a13b20"/><stop offset="0.515" stop-color="#9d3020"/><stop offset="0.564" stop-color="#a13b20"/><stop offset="0.679" stop-color="#b46f27"/><stop offset="0.745" stop-color="#b9902c"/><stop offset="0.782" stop-color="#b3b23f"/><stop offset="0.788" stop-color="#adb03e"/><stop offset="0.806" stop-color="#5d8e33"/><stop offset="0.812" stop-color="#578b33"/><stop offset="0.915" stop-color="#598d33"/><stop offset="0.921" stop-color="#5a8d3c"/><stop offset="0.939" stop-color="#63919c"/><stop offset="0.945" stop-color="#5c87a7"/><stop offset="0.958" stop-color="#2d508a"/><stop offset="0.964" stop-color="#28467f"/><stop offset="1" stop-color="#223b73"/></linearGradient><linearGradient id="g127" x1="0" y1="0" x2="1" y2="0"><stop offset="0" stop-color="#223b73"/><stop offset="0.036" stop-color="#28477f"/><stop offset="0.042" stop-color="#2e528c"/><stop offset="0.055" stop-color="#5e8aa8"/><stop offset="0.061" stop-color="#629198"/><stop offset="0.079" stop-color="#5a8d39"/><stop offset="0.085" stop-color="#598d33"/><stop offset="0.188" stop-color="#568b33"/><stop offset="0.212" stop-color="#b1b23f"/><stop offset="0.248" stop-color="#b9922d"/><stop offset="0.436" stop-color="#a13a20"/><stop offset="0.515" stop-color="#9d3020"/><stop offset="0.564" stop-color="#a13a20"/><stop offset="0.679" stop-color="#b36d27"/><stop offset="0.752" stop-color="#b9922d"/><stop offset="0.782" stop-color="#b4af3e"/><stop offset="0.788" stop-color="#b1b23f"/><stop offset="0.812" stop-color="#568b33"/><stop offset="0.915" stop-color="#598d33"/><stop offset="0.921" stop-color="#5a8d39"/><stop offset="0.939" stop-color="#629198"/><stop offset="0.945" stop-color="#5e8aa8"/><stop offset="0.958" stop-color="#2e528c"/><stop offset="0.964" stop-color="#28477f"/><stop offset="1" stop-color="#223b73"/></linearGradient><linearGradient id="g128" x1="0" y1="0" x2="1" y2="0"><stop offset="0" stop-color="#223b73"/><stop offset="0.036" stop-color="#284780"/><stop offset="0.042" stop-color="#32588f"/><stop offset="0.055" stop-color="#6491ac"/><stop offset="0.079" stop-color="#5a8d33"/><stop offset="0.182" stop-color="#568b33"/><stop offset="0.188" stop-color="#649033"/><stop offset="0.206" stop-color="#b0b23f"/><stop offset="0.242" stop-color="#ba932d"/><stop offset="0.43" stop-color="#a13a20"/><stop offset="0.515" stop-color="#9d2f20"/><stop offset="0.57" stop-color="#a13a20"/><stop offset="0.685" stop-color="#b36e27"/><stop offset="0.758" stop-color="#ba932d"/><stop offset="0.788" stop-color="#b4b03e"/><stop offset="0.794" stop-color="#b0b23f"/><stop offset="0.812" stop-color="#649033"/><stop offset="0.818" stop-color="#568b33"/><stop offset="0.921" stop-color="#5a8d33"/><stop offset="0.945" stop-color="#6491ac"/><stop offset="0.958" stop-color="#32588f"/><stop offset="0.964" stop-color="#284780"/><stop offset="1" stop-color="#223b73"/></linearGradient><linearGradient id="g129" x1="0" y1="0" x2="1" y2="0"><stop offset="0" stop-color="#223b73"/><stop offset="0.036" stop-color="#2a4b84"/><stop offset="0.048" stop-color="#547ea2"/><stop offset="0.055" stop-color="#6592a5"/><stop offset="0.073" stop-color="#5a8d45"/><stop offset="0.079" stop-color="#598d33"/><stop offset="0.176" stop-color="#568b33"/><stop offset="0.2" stop-color="#b2b240"/><stop offset="0.236" stop-color="#b9922d"/><stop offset="0.424" stop-color="#a13a20"/><stop offset="0.515" stop-color="#9c2d20"/><stop offset="0.576" stop-color="#a13a20"/><stop offset="0.691" stop-color="#b36d26"/><stop offset="0.764" stop-color="#b9922d"/><stop offset="0.794" stop-color="#b4af3d"/><stop offset="0.8" stop-color="#b2b240"/><stop offset="0.806" stop-color="#a0aa3a"/><stop offset="0.824" stop-color="#568b33"/><stop offset="0.921" stop-color="#598d33"/><stop offset="0.927" stop-color="#5a8d45"/><stop offset="0.945" stop-color="#6592a5"/><stop offset="0.952" stop-color="#547ea2"/><stop offset="0.964" stop-color="#2a4b84"/><stop offset="1" stop-color="#223b73"/></linearGradient><linearGradient id="g130" x1="0" y1="0" x2="1" y2="0"><stop offset="0" stop-color="#223b73"/><stop offset="0.03" stop-color="#28467f"/><stop offset="0.036" stop-color="#2e528c"/><stop offset="0.048" stop-color="#5f8aa8"/><stop offset="0.055" stop-color="#629198"/><stop offset="0.073" stop-color="#5a8d39"/><stop offset="0.164" stop-color="#568b33"/><stop offset="0.17" stop-color="#629033"/><stop offset="0.188" stop-color="#afb13f"/><stop offset="0.194" stop-color="#b4b13e"/><stop offset="0.224" stop-color="#ba942d"/><stop offset="0.297" stop-color="#b36e27"/><stop offset="0.418" stop-color="#a03820"/><stop offset="0.485" stop-color="#9b2b20"/><stop offset="0.582" stop-color="#a03820"/><stop offset="0.776" stop-color="#ba942d"/><stop offset="0.812" stop-color="#afb13f"/><stop offset="0.83" stop-color="#629033"/><stop offset="0.836" stop-color="#568b33"/><stop offset="0.921" stop-color="#598d33"/><stop offset="0.927" stop-color="#5a8d39"/><stop offset="0.945" stop-color="#629198"/><stop offset="0.952" stop-color="#5f8aa8"/><stop offset="0.964" stop-color="#2e528c"/><stop offset="0.97" stop-color="#28467f"/><stop offset="1" stop-color="#223b73"/></linearGradient><linearGradient id="g131" x1="0" y1="0" x2="1" y2="0"><stop offset="0" stop-color="#2a4a90"/><stop offset="0.01" stop-color="#3d6cb2"/><stop offset="0.02" stop-color="#7cb3d5"/><stop offset="0.025" stop-color="#79b4b8"/><stop offset="0.04" stop-color="#70b041"/><stop offset="0.065" stop-color="#6dae40"/><stop offset="0.075" stop-color="#acc740"/><stop offset="0.08" stop-color="#d0d84b"/><stop offset="0.085" stop-color="#e0e050"/><stop offset="0.115" stop-color="#e7b537"/><stop offset="0.175" stop-color="#e08730"/><stop offset="0.245" stop-color="#d36229"/><stop offset="0.365" stop-color="#cc4f28"/><stop offset="0.52" stop-color="#ca4a28"/><stop offset="0.66" stop-color="#cd5228"/><stop offset="0.765" stop-color="#d4652a"/><stop offset="0.825" stop-color="#e08730"/><stop offset="0.89" stop-color="#e7bb3a"/><stop offset="0.915" stop-color="#e0e050"/><stop offset="0.92" stop-color="#d0d84b"/><stop offset="0.925" stop-color="#acc740"/><stop offset="0.935" stop-color="#6dae40"/><stop offset="0.96" stop-color="#70b041"/><stop offset="0.975" stop-color="#79b4b8"/><stop offset="0.98" stop-color="#7cb3d5"/><stop offset="0.99" stop-color="#3d6cb2"/><stop offset="1" stop-color="#2a4a90"/></linearGradient><linearGradient id="g132" x1="0" y1="0" x2="1" y2="0"><stop offset="0" stop-color="#2a4a90"/><stop offset="0.01" stop-color="#325aa1"/><stop offset="0.015" stop-color="#4373b5"/><stop offset="0.025" stop-color="#80b8d6"/><stop offset="0.04" stop-color="#70b05c"/><stop offset="0.045" stop-color="#70b040"/><stop offset="0.08" stop-color="#6cae40"/><stop offset="0.085" stop-color="#7eb540"/><stop offset="0.1" stop-color="#dcde4f"/><stop offset="0.13" stop-color="#e8b738"/><stop offset="0.255" stop-color="#d4652a"/><stop offset="0.36" stop-color="#ce5428"/><stop offset="0.5" stop-color="#cb4e28"/><stop offset="0.64" stop-color="#ce5428"/><stop offset="0.745" stop-color="#d4652a"/><stop offset="0.87" stop-color="#e8b738"/><stop offset="0.9" stop-color="#dcde4f"/><stop offset="0.915" stop-color="#7eb540"/><stop offset="0.92" stop-color="#6cae40"/><stop offset="0.955" stop-color="#70b040"/><stop offset="0.96" stop-color="#70b05c"/><stop offset="0.975" stop-color="#80b8d6"/><stop offset="0.985" stop-color="#4373b5"/><stop offset="0.99" stop-color="#325aa1"/><stop offset="1" stop-color="#2a4a90"/></linearGradient><linearGradient id="g133" x1="0" y1="0" x2="1" y2="0"><stop offset="0" stop-color="#2a4a90"/><stop offset="0.015" stop-color="#355ea6"/><stop offset="0.025" stop-color="#699ecb"/><stop offset="0.03" stop-color="#7eb7ce"/><stop offset="0.045" stop-color="#70b054"/><stop offset="0.05" stop-color="#70b040"/><stop offset="0.095" stop-color="#6cae40"/><stop offset="0.1" stop-color="#73b140"/><stop offset="0.11" stop-color="#b2c941"/><stop offset="0.115" stop-color="#d7dc4d"/><stop offset="0.12" stop-color="#e0df4f"/><stop offset="0.145" stop-color="#e8ba39"/><stop offset="0.27" stop-color="#d4652a"/><stop offset="0.5" stop-color="#cd5228"/><stop offset="0.73" stop-color="#d4652a"/><stop offset="0.855" stop-color="#e8ba39"/><stop offset="0.88" stop-color="#e0df4f"/><stop offset="0.885" stop-color="#d7dc4d"/><stop offset="0.89" stop-color="#b2c941"/><stop offset="0.9" stop-color="#73b140"/><stop offset="0.905" stop-color="#6cae40"/><stop offset="0.95" stop-color="#70b040"/><stop offset="0.955" stop-color="#70b054"/><stop offset="0.97" stop-color="#7eb7ce"/><stop offset="0.975" stop-color="#699ecb"/><stop offset="0.985" stop-color="#355ea6"/><stop offset="1" stop-color="#2a4a90"/></linearGradient><linearGradient id="g134" x1="0" y1="0" x2="1" y2="0"><stop offset="0" stop-color="#2a4a90"/><stop offset="0.02" stop-color="#3864ab"/><stop offset="0.03" stop-color="#72a8d0"/><stop offset="0.035" stop-color="#7bb6c4"/><stop offset="0.05" stop-color="#70b04c"/><stop offset="0.055" stop-color="#70b040"/><stop offset="0.115" stop-color="#6dae40"/><stop offset="0.125" stop-color="#acc740"/><stop offset="0.13" stop-color="#d0d84b"/><stop offset="0.135" stop-color="#e0e050"/><stop offset="0.165" stop-color="#e7b537"/><stop offset="0.285" stop-color="#d4652a"/><stop offset="0.525" stop-color="#cf5628"/><stop offset="0.715" stop-color="#d4652a"/><stop offset="0.775" stop-color="#e08730"/><stop offset="0.84" stop-color="#e7bb3a"/><stop offset="0.865" stop-color="#e0e050"/><stop offset="0.87" stop-color="#d0d84b"/><stop offset="0.875" stop-color="#acc740"/><stop offset="0.885" stop-color="#6dae40"/><stop offset="0.945" stop-color="#70b040"/><stop offset="0.95" stop-color="#70b04c"/><stop offset="0.965" stop-color="#7bb6c4"/><stop offset="0.97" stop-color="#72a8d0"/><stop offset="0.98" stop-color="#3864ab"/><stop offset="1" stop-color="#2a4a90"/></linearGradient><linearGradient id="g135" x1="0" y1="0" x2="1" y2="0"><stop offset="0" stop-color="#2a4a90"/><stop offset="0.02" stop-color="#32589f"/><stop offset="0.025" stop-color="#3d6cb2"/><stop offset="0.035" stop-color="#7cb3d5"/><stop offset="0.04" stop-color="#79b4b8"/><stop offset="0.055" stop-color="#70b041"/><stop offset="0.13" stop-color="#6faf40"/><stop offset="0.14" stop-color="#aec740"/><stop offset="0.145" stop-color="#d3d94c"/><stop offset="0.15" stop-color="#e0df50"/><stop offset="0.18" stop-color="#e7b537"/><stop offset="0.3" stop-color="#d4652a"/><stop offset="0.53" stop-color="#d05a28"/><stop offset="0.7" stop-color="#d4652a"/><stop offset="0.76" stop-color="#e08730"/><stop offset="0.825" stop-color="#e7bb3a"/><stop offset="0.85" stop-color="#e0df50"/><stop offset="0.855" stop-color="#d3d94c"/><stop offset="0.86" stop-color="#aec740"/><stop offset="0.87" stop-color="#6faf40"/><stop offset="0.945" stop-color="#70b041"/><stop offset="0.96" stop-color="#79b4b8"/><stop offset="0.965" stop-color="#7cb3d5"/><stop offset="0.975" stop-color="#3d6cb2"/><stop offset="0.98" stop-color="#32589f"/><stop offset="1" stop-color="#2a4a90"/></linearGradient><linearGradient id="g136" x1="0" y1="0" x2="1" y2="0"><stop offset="0" stop-color="#2a4a90"/><stop offset="0.025" stop-color="#355ea5"/><stop offset="0.035" stop-color="#689dcb"/><stop offset="0.04" stop-color="#7eb7cf"/><stop offset="0.055" stop-color="#70b055"/><stop offset="0.06" stop-color="#70b040"/><stop offset="0.14" stop-color="#6cae40"/><stop offset="0.145" stop-color="#7ab340"/><stop offset="0.16" stop-color="#dbde4e"/><stop offset="0.19" stop-color="#e8b838"/><stop offset="0.31" stop-color="#d4662a"/><stop offset="0.5" stop-color="#d15e29"/><stop offset="0.69" stop-color="#d4662a"/><stop offset="0.81" stop-color="#e8b838"/><stop offset="0.84" stop-color="#dbde4e"/><stop offset="0.855" stop-color="#7ab340"/><stop offset="0.86" stop-color="#6cae40"/><stop offset="0.94" stop-color="#70b040"/><stop offset="0.945" stop-color="#70b055"/><stop offset="0.96" stop-color="#7eb7cf"/><stop offset="0.965" stop-color="#689dcb"/><stop offset="0.975" stop-color="#355ea5"/><stop offset="1" stop-color="#2a4a90"/></linearGradient><linearGradient id="g137" x1="0" y1="0" x2="1" y2="0"><stop offset="0" stop-color="#2a4a90"/><stop offset="0.025" stop-color="#32589f"/><stop offset="0.03" stop-color="#3a67af"/><stop offset="0.04" stop-color="#77aed3"/><stop offset="0.045" stop-color="#7ab5bd"/><stop offset="0.06" stop-color="#70b046"/><stop offset="0.065" stop-color="#6fb040"/><stop offset="0.15" stop-color="#6cae40"/><stop offset="0.155" stop-color="#71b040"/><stop offset="0.165" stop-color="#b0c840"/><stop offset="0.17" stop-color="#d5db4c"/><stop offset="0.175" stop-color="#e0df4f"/><stop offset="0.2" stop-color="#e8ba39"/><stop offset="0.265" stop-color="#e08730"/><stop offset="0.325" stop-color="#d4652a"/><stop offset="0.5" stop-color="#d36229"/><stop offset="0.675" stop-color="#d4652a"/><stop offset="0.735" stop-color="#e08730"/><stop offset="0.8" stop-color="#e8ba39"/><stop offset="0.825" stop-color="#e0df4f"/><stop offset="0.83" stop-color="#d5db4c"/><stop offset="0.835" stop-color="#b0c840"/><stop offset="0.845" stop-color="#71b040"/><stop offset="0.85" stop-color="#6cae40"/><stop offset="0.935" stop-color="#6fb040"/><stop offset="0.94" stop-color="#70b046"/><stop offset="0.955" stop-color="#7ab5bd"/><stop offset="0.96" stop-color="#77aed3"/><stop offset="0.97" stop-color="#3a67af"/><stop offset="0.975" stop-color="#32589f"/><stop offset="1" stop-color="#2a4a90"/></linearGradient><linearGradient id="g138" x1="0" y1="0" x2="1" y2="0"><stop offset="0" stop-color="#2a4a90"/><stop offset="0.03" stop-color="#355ea6"/><stop offset="0.04" stop-color="#699ecb"/><stop offset="0.045" stop-color="#7eb7ce"/><stop offset="0.06" stop-color="#70b054"/><stop offset="0.065" stop-color="#70b040"/><stop offset="0.16" stop-color="#6cae40"/><stop offset="0.165" stop-color="#75b140"/><stop offset="0.175" stop-color="#b4ca41"/><stop offset="0.18" stop-color="#d9dd4e"/><stop offset="0.185" stop-color="#e0de4f"/><stop offset="0.21" stop-color="#e8ba39"/><stop offset="0.275" stop-color="#e08730"/><stop offset="0.335" stop-color="#d4652a"/><stop offset="0.5" stop-color="#d4652a"/><stop offset="0.665" stop-color="#d4652a"/><stop offset="0.725" stop-color="#e08730"/><stop offset="0.79" stop-color="#e8ba39"/><stop offset="0.815" stop-color="#e0de4f"/><stop offset="0.82" stop-color="#d9dd4e"/><stop offset="0.825" stop-color="#b4ca41"/><stop offset="0.835" stop-color="#75b140"/><stop offset="0.84" stop-color="#6cae40"/><stop offset="0.935" stop-color="#70b040"/><stop offset="0.94" stop-color="#70b054"/><stop offset="0.955" stop-color="#7eb7ce"/><stop offset="0.96" stop-color="#699ecb"/><stop offset="0.97" stop-color="#355ea6"/><stop offset="1" stop-color="#2a4a90"/></linearGradient><linearGradient id="g139" x1="0" y1="0" x2="1" y2="0"><stop offset="0" stop-color="#2a4a90"/><stop offset="0.03" stop-color="#3259a0"/><stop offset="0.035" stop-color="#406fb3"/><stop offset="0.045" stop-color="#7eb6d7"/><stop offset="0.055" stop-color="#70b08f"/><stop offset="0.06" stop-color="#70b060"/><stop offset="0.065" stop-color="#70b040"/><stop offset="0.17" stop-color="#6cae40"/><stop offset="0.18" stop-color="#a5c440"/><stop offset="0.19" stop-color="#dedf4f"/><stop offset="0.22" stop-color="#e8b638"/><stop offset="0.335" stop-color="#d5682a"/><stop offset="0.66" stop-color="#d5672a"/><stop offset="0.72" stop-color="#e08830"/><stop offset="0.785" stop-color="#e7bd3b"/><stop offset="0.81" stop-color="#dedf4f"/><stop offset="0.82" stop-color="#a5c440"/><stop offset="0.83" stop-color="#6cae40"/><stop offset="0.935" stop-color="#70b040"/><stop offset="0.94" stop-color="#70b060"/><stop offset="0.945" stop-color="#70b08f"/><stop offset="0.955" stop-color="#7eb6d7"/><stop offset="0.965" stop-color="#406fb3"/><stop offset="0.97" stop-color="#3259a0"/><stop offset="1" stop-color="#2a4a90"/></linearGradient><linearGradient id="g140" x1="0" y1="0" x2="1" y2="0"><stop offset="0" stop-color="#2a4a90"/><stop offset="0.03" stop-color="#32589f"/><stop offset="0.035" stop-color="#3a67af"/><stop offset="0.045" stop-color="#77aed3"/><stop offset="0.05" stop-color="#7ab5bd"/><stop offset="0.065" stop-color="#70b046"/><stop offset="0.07" stop-color="#6fb040"/><stop offset="0.175" stop-color="#6cae40"/><stop offset="0.185" stop-color="#a6c440"/><stop offset="0.195" stop-color="#dedf4f"/><stop offset="0.225" stop-color="#e8b638"/><stop offset="0.34" stop-color="#d5692b"/><stop offset="0.66" stop-color="#d5692b"/><stop offset="0.715" stop-color="#e08830"/><stop offset="0.78" stop-color="#e7bd3b"/><stop offset="0.805" stop-color="#dedf4f"/><stop offset="0.815" stop-color="#a6c440"/><stop offset="0.825" stop-color="#6cae40"/><stop offset="0.93" stop-color="#6fb040"/><stop offset="0.935" stop-color="#70b046"/><stop offset="0.95" stop-color="#7ab5bd"/><stop offset="0.955" stop-color="#77aed3"/><stop offset="0.965" stop-color="#3a67af"/><stop offset="0.97" stop-color="#32589f"/><stop offset="1" stop-color="#2a4a90"/></linearGradient><linearGradient id="g141" x1="0" y1="0" x2="1" y2="0"><stop offset="0" stop-color="#2a4a90"/><stop offset="0.03" stop-color="#31589f"/><stop offset="0.035" stop-color="#3865ad"/><stop offset="0.045" stop-color="#73aad1"/><stop offset="0.05" stop-color="#7bb6c2"/><stop offset="0.065" stop-color="#70b04a"/><stop offset="0.07" stop-color="#70b040"/><stop offset="0.175" stop-color="#6cae40"/><stop offset="0.18" stop-color="#77b240"/><stop offset="0.19" stop-color="#b6cb42"/><stop offset="0.195" stop-color="#dadd4e"/><stop offset="0.225" stop-color="#e8b939"/><stop offset="0.34" stop-color="#d66a2b"/><stop offset="0.5" stop-color="#d66a2b"/><stop offset="0.66" stop-color="#d66a2b"/><stop offset="0.775" stop-color="#e8b939"/><stop offset="0.805" stop-color="#dadd4e"/><stop offset="0.81" stop-color="#b6cb42"/><stop offset="0.82" stop-color="#77b240"/><stop offset="0.825" stop-color="#6cae40"/><stop offset="0.93" stop-color="#70b040"/><stop offset="0.935" stop-color="#70b04a"/><stop offset="0.95" stop-color="#7bb6c2"/><stop offset="0.955" stop-color="#73aad1"/><stop offset="0.965" stop-color="#3865ad"/><stop offset="0.97" stop-color="#31589f"/><stop offset="1" stop-color="#2a4a90"/></linearGradient><linearGradient id="g142" x1="0" y1="0" x2="1" y2="0"><stop offset="0" stop-color="#2a4a90"/><stop offset="0.03" stop-color="#31589f"/><stop offset="0.035" stop-color="#3865ad"/><stop offset="0.045" stop-color="#73aad1"/><stop offset="0.05" stop-color="#7bb6c2"/><stop offset="0.065" stop-color="#70b04a"/><stop offset="0.07" stop-color="#70b040"/><stop offset="0.175" stop-color="#6cae40"/><stop offset="0.18" stop-color="#77b240"/><stop offset="0.19" stop-color="#b6cb42"/><stop offset="0.195" stop-color="#dadd4e"/><stop offset="0.225" stop-color="#e8b939"/><stop offset="0.34" stop-color="#d66a2b"/><stop offset="0.5" stop-color="#d66a2b"/><stop offset="0.66" stop-color="#d66a2b"/><stop offset="0.775" stop-color="#e8b939"/><stop offset="0.805" stop-color="#dadd4e"/><stop offset="0.81" stop-color="#b6cb42"/><stop offset="0.82" stop-color="#77b240"/><stop offset="0.825" stop-color="#6cae40"/><stop offset="0.93" stop-color="#70b040"/><stop offset="0.935" stop-color="#70b04a"/><stop offset="0.95" stop-color="#7bb6c2"/><stop offset="0.955" stop-color="#73aad1"/><stop offset="0.965" stop-color="#3865ad"/><stop offset="0.97" stop-color="#31589f"/><stop offset="1" stop-color="#2a4a90"/></linearGradient><linearGradient id="g143" x1="0" y1="0" x2="1" y2="0"><stop offset="0" stop-color="#2a4a90"/><stop offset="0.03" stop-color="#32589f"/><stop offset="0.035" stop-color="#3a67af"/><stop offset="0.045" stop-color="#77aed3"/><stop offset="0.05" stop-color="#7ab5bd"/><stop offset="0.065" stop-color="#70b046"/><stop offset="0.07" stop-color="#6fb040"/><stop offset="0.175" stop-color="#6cae40"/><stop offset="0.185" stop-color="#a6c440"/><stop offset="0.195" stop-color="#dedf4f"/><stop offset="0.225" stop-color="#e8b638"/><stop offset="0.34" stop-color="#d5692b"/><stop offset="0.66" stop-color="#d5692b"/><stop offset="0.715" stop-color="#e08830"/><stop offset="0.78" stop-color="#e7bd3b"/><stop offset="0.805" stop-color="#dedf4f"/><stop offset="0.815" stop-color="#a6c440"/><stop offset="0.825" stop-color="#6cae40"/><stop offset="0.93" stop-color="#6fb040"/><stop offset="0.935" stop-color="#70b046"/><stop offset="0.95" stop-color="#7ab5bd"/><stop offset="0.955" stop-color="#77aed3"/><stop offset="0.965" stop-color="#3a67af"/><stop offset="0.97" stop-color="#32589f"/><stop offset="1" stop-color="#2a4a90"/></linearGradient><linearGradient id="g144" x1="0" y1="0" x2="1" y2="0"><stop offset="0" stop-color="#2a4a90"/><stop offset="0.03" stop-color="#3259a0"/><stop offset="0.035" stop-color="#406fb3"/><stop offset="0.045" stop-color="#7eb6d7"/><stop offset="0.055" stop-color="#70b08f"/><stop offset="0.06" stop-color="#70b060"/><stop offset="0.065" stop-color="#70b040"/><stop offset="0.17" stop-color="#6cae40"/><stop offset="0.18" stop-color="#a5c440"/><stop offset="0.19" stop-color="#dedf4f"/><stop offset="0.22" stop-color="#e8b638"/><stop offset="0.335" stop-color="#d5682a"/><stop offset="0.66" stop-color="#d5672a"/><stop offset="0.72" stop-color="#e08830"/><stop offset="0.785" stop-color="#e7bd3b"/><stop offset="0.81" stop-color="#dedf4f"/><stop offset="0.82" stop-color="#a5c440"/><stop offset="0.83" stop-color="#6cae40"/><stop offset="0.935" stop-color="#70b040"/><stop offset="0.94" stop-color="#70b060"/><stop offset="0.945" stop-color="#70b08f"/><stop offset="0.955" stop-color="#7eb6d7"/><stop offset="0.965" stop-color="#406fb3"/><stop offset="0.97" stop-color="#3259a0"/><stop offset="1" stop-color="#2a4a90"/></linearGradient><linearGradient id="g145" x1="0" y1="0" x2="1" y2="0"><stop offset="0" stop-color="#2a4a90"/><stop offset="0.03" stop-color="#355ea6"/><stop offset="0.04" stop-color="#699ecb"/><stop offset="0.045" stop-color="#7eb7ce"/><stop offset="0.06" stop-color="#70b054"/><stop offset="0.065" stop-color="#70b040"/><stop offset="0.16" stop-color="#6cae40"/><stop offset="0.165" stop-color="#75b140"/><stop offset="0.175" stop-color="#b4ca41"/><stop offset="0.18" stop-color="#d9dd4e"/><stop offset="0.185" stop-color="#e0de4f"/><stop offset="0.21" stop-color="#e8ba39"/><stop offset="0.275" stop-color="#e08730"/><stop offset="0.335" stop-color="#d4652a"/><stop offset="0.5" stop-color="#d4652a"/><stop offset="0.665" stop-color="#d4652a"/><stop offset="0.725" stop-color="#e08730"/><stop offset="0.79" stop-color="#e8ba39"/><stop offset="0.815" stop-color="#e0de4f"/><stop offset="0.82" stop-color="#d9dd4e"/><stop offset="0.825" stop-color="#b4ca41"/><stop offset="0.835" stop-color="#75b140"/><stop offset="0.84" stop-color="#6cae40"/><stop offset="0.935" stop-color="#70b040"/><stop offset="0.94" stop-color="#70b054"/><stop offset="0.955" stop-color="#7eb7ce"/><stop offset="0.96" stop-color="#699ecb"/><stop offset="0.97" stop-color="#355ea6"/><stop offset="1" stop-color="#2a4a90"/></linearGradient><linearGradient id="g146" x1="0" y1="0" x2="1" y2="0"><stop offset="0" stop-color="#2a4a90"/><stop offset="0.025" stop-color="#32589f"/><stop offset="0.03" stop-color="#3a67af"/><stop offset="0.04" stop-color="#77aed3"/><stop offset="0.045" stop-color="#7ab5bd"/><stop offset="0.06" stop-color="#70b046"/><stop offset="0.065" stop-color="#6fb040"/><stop offset="0.15" stop-color="#6cae40"/><stop offset="0.155" stop-color="#71b040"/><stop offset="0.165" stop-color="#b0c840"/><stop offset="0.17" stop-color="#d5db4c"/><stop offset="0.175" stop-color="#e0df4f"/><stop offset="0.2" stop-color="#e8ba39"/><stop offset="0.265" stop-color="#e08730"/><stop offset="0.325" stop-color="#d4652a"/><stop offset="0.5" stop-color="#d36229"/><stop offset="0.675" stop-color="#d4652a"/><stop offset="0.735" stop-color="#e08730"/><stop offset="0.8" stop-color="#e8ba39"/><stop offset="0.825" stop-color="#e0df4f"/><stop offset="0.83" stop-color="#d5db4c"/><stop offset="0.835" stop-color="#b0c840"/><stop offset="0.845" stop-color="#71b040"/><stop offset="0.85" stop-color="#6cae40"/><stop offset="0.935" stop-color="#6fb040"/><stop offset="0.94" stop-color="#70b046"/><stop offset="0.955" stop-color="#7ab5bd"/><stop offset="0.96" stop-color="#77aed3"/><stop offset="0.97" stop-color="#3a67af"/><stop offset="0.975" stop-color="#32589f"/><stop offset="1" stop-color="#2a4a90"/></linearGradient><linearGradient id="g147" x1="0" y1="0" x2="1" y2="0"><stop offset="0" stop-color="#264382"/><stop offset="0.167" stop-color="#2f5494"/><stop offset="0.25" stop-color="#5e8eb6"/><stop offset="0.292" stop-color="#71a5b9"/><stop offset="0.417" stop-color="#659e4a"/><stop offset="0.458" stop-color="#659e3a"/><stop offset="0.542" stop-color="#629d3a"/><stop offset="0.667" stop-color="#b7c042"/><stop offset="0.708" stop-color="#c9c948"/><stop offset="1" stop-color="#d09f31"/></linearGradient><linearGradient id="g148" x1="0" y1="0" x2="1" y2="0"><stop offset="0" stop-color="#223b73"/><stop offset="0.012" stop-color="#31568e"/><stop offset="0.024" stop-color="#638fab"/><stop offset="0.048" stop-color="#5a8d35"/><stop offset="0.072" stop-color="#5a8c33"/><stop offset="0.09" stop-color="#a9ae3d"/><stop offset="0.096" stop-color="#b3b340"/><stop offset="0.132" stop-color="#b9912c"/><stop offset="0.359" stop-color="#9a2820"/><stop offset="0.521" stop-color="#872220"/><stop offset="0.641" stop-color="#9a2820"/><stop offset="0.874" stop-color="#b9962e"/><stop offset="0.904" stop-color="#b3b340"/><stop offset="0.91" stop-color="#a9ae3d"/><stop offset="0.928" stop-color="#5a8c33"/><stop offset="0.952" stop-color="#5a8d35"/><stop offset="0.976" stop-color="#638fab"/><stop offset="0.988" stop-color="#31568e"/><stop offset="1" stop-color="#223b73"/></linearGradient><linearGradient id="g149" x1="0" y1="0" x2="1" y2="0"><stop offset="0" stop-color="#223b73"/><stop offset="0.012" stop-color="#284881"/><stop offset="0.018" stop-color="#365b91"/><stop offset="0.03" stop-color="#6693ac"/><stop offset="0.048" stop-color="#5a8d4a"/><stop offset="0.054" stop-color="#5a8d33"/><stop offset="0.09" stop-color="#598c33"/><stop offset="0.108" stop-color="#a8ae3c"/><stop offset="0.114" stop-color="#b3b340"/><stop offset="0.15" stop-color="#b9912c"/><stop offset="0.377" stop-color="#9a2820"/><stop offset="0.515" stop-color="#8a2320"/><stop offset="0.629" stop-color="#9b2a20"/><stop offset="0.856" stop-color="#b9962e"/><stop offset="0.886" stop-color="#b3b340"/><stop offset="0.892" stop-color="#a8ae3c"/><stop offset="0.91" stop-color="#598c33"/><stop offset="0.946" stop-color="#5a8d33"/><stop offset="0.952" stop-color="#5a8d4a"/><stop offset="0.97" stop-color="#6693ac"/><stop offset="0.982" stop-color="#365b91"/><stop offset="0.988" stop-color="#284881"/><stop offset="1" stop-color="#223b73"/></linearGradient><linearGradient id="g150" x1="0" y1="0" x2="1" y2="0"><stop offset="0" stop-color="#223b73"/><stop offset="0.018" stop-color="#2a4b84"/><stop offset="0.03" stop-color="#547ea2"/><stop offset="0.036" stop-color="#6592a5"/><stop offset="0.054" stop-color="#5a8d44"/><stop offset="0.06" stop-color="#598d33"/><stop offset="0.108" stop-color="#5b8d33"/><stop offset="0.126" stop-color="#aaaf3d"/><stop offset="0.132" stop-color="#b3b240"/><stop offset="0.162" stop-color="#b9952e"/><stop offset="0.383" stop-color="#9c2c20"/><stop offset="0.497" stop-color="#8d2320"/><stop offset="0.617" stop-color="#9c2c20"/><stop offset="0.838" stop-color="#b9952e"/><stop offset="0.868" stop-color="#b3b240"/><stop offset="0.874" stop-color="#aaaf3d"/><stop offset="0.892" stop-color="#5b8d33"/><stop offset="0.94" stop-color="#598d33"/><stop offset="0.946" stop-color="#5a8d44"/><stop offset="0.964" stop-color="#6592a5"/><stop offset="0.97" stop-color="#547ea2"/><stop offset="0.982" stop-color="#2a4b84"/><stop offset="1" stop-color="#223b73"/></linearGradient><linearGradient id="g151" x1="0" y1="0" x2="1" y2="0"><stop offset="0" stop-color="#223b73"/><stop offset="0.024" stop-color="#2c5089"/><stop offset="0.036" stop-color="#5a86a6"/><stop offset="0.042" stop-color="#63919d"/><stop offset="0.06" stop-color="#5a8d3d"/><stop offset="0.066" stop-color="#598d33"/><stop offset="0.12" stop-color="#578b33"/><stop offset="0.126" stop-color="#608f33"/><stop offset="0.144" stop-color="#afb13e"/><stop offset="0.18" stop-color="#b9942d"/><stop offset="0.395" stop-color="#9c2d20"/><stop offset="0.497" stop-color="#902420"/><stop offset="0.605" stop-color="#9c2d20"/><stop offset="0.82" stop-color="#b9942d"/><stop offset="0.856" stop-color="#afb13e"/><stop offset="0.874" stop-color="#608f33"/><stop offset="0.88" stop-color="#578b33"/><stop offset="0.934" stop-color="#598d33"/><stop offset="0.94" stop-color="#5a8d3d"/><stop offset="0.958" stop-color="#63919d"/><stop offset="0.964" stop-color="#5a86a6"/><stop offset="0.976" stop-color="#2c5089"/><stop offset="1" stop-color="#223b73"/></linearGradient><linearGradient id="g152" x1="0" y1="0" x2="1" y2="0"><stop offset="0" stop-color="#223b73"/><stop offset="0.024" stop-color="#28477f"/><stop offset="0.03" stop-color="#31568e"/><stop offset="0.042" stop-color="#628fab"/><stop offset="0.066" stop-color="#5a8d35"/><stop offset="0.138" stop-color="#568b33"/><stop offset="0.162" stop-color="#b2b23f"/><stop offset="0.198" stop-color="#b9922d"/><stop offset="0.407" stop-color="#9d2e20"/><stop offset="0.515" stop-color="#932520"/><stop offset="0.605" stop-color="#9e3320"/><stop offset="0.808" stop-color="#b9972f"/><stop offset="0.838" stop-color="#b2b23f"/><stop offset="0.862" stop-color="#568b33"/><stop offset="0.934" stop-color="#5a8d35"/><stop offset="0.958" stop-color="#628fab"/><stop offset="0.97" stop-color="#31568e"/><stop offset="0.976" stop-color="#28477f"/><stop offset="1" stop-color="#223b73"/></linearGradient><linearGradient id="g153" x1="0" y1="0" x2="1" y2="0"><stop offset="0" stop-color="#223b73"/><stop offset="0.03" stop-color="#2a4b84"/><stop offset="0.042" stop-color="#537da2"/><stop offset="0.048" stop-color="#6592a6"/><stop offset="0.066" stop-color="#5a8d45"/><stop offset="0.072" stop-color="#598d33"/><stop offset="0.15" stop-color="#578b33"/><stop offset="0.156" stop-color="#639033"/><stop offset="0.174" stop-color="#afb13f"/><stop offset="0.21" stop-color="#ba932d"/><stop offset="0.413" stop-color="#9d3120"/><stop offset="0.497" stop-color="#952520"/><stop offset="0.587" stop-color="#9d3120"/><stop offset="0.79" stop-color="#ba932d"/><stop offset="0.826" stop-color="#afb13f"/><stop offset="0.844" stop-color="#639033"/><stop offset="0.85" stop-color="#578b33"/><stop offset="0.928" stop-color="#598d33"/><stop offset="0.934" stop-color="#5a8d45"/><stop offset="0.952" stop-color="#6592a6"/><stop offset="0.958" stop-color="#537da2"/><stop offset="0.97" stop-color="#2a4b84"/><stop offset="1" stop-color="#223b73"/></linearGradient><linearGradient id="g154" x1="0" y1="0" x2="1" y2="0"><stop offset="0" stop-color="#223b73"/><stop offset="0.03" stop-color="#28467f"/><stop offset="0.036" stop-color="#2e528c"/><stop offset="0.048" stop-color="#5f8aa8"/><stop offset="0.054" stop-color="#629198"/><stop offset="0.072" stop-color="#5a8d39"/><stop offset="0.162" stop-color="#568b33"/><stop offset="0.168" stop-color="#639033"/><stop offset="0.186" stop-color="#afb13f"/><stop offset="0.192" stop-color="#b4b03e"/><stop offset="0.222" stop-color="#ba932d"/><stop offset="0.293" stop-color="#b36e27"/><stop offset="0.413" stop-color="#9f3520"/><stop offset="0.467" stop-color="#992620"/><stop offset="0.575" stop-color="#9d3020"/><stop offset="0.778" stop-color="#ba932d"/><stop offset="0.814" stop-color="#afb13f"/><stop offset="0.832" stop-color="#639033"/><stop offset="0.838" stop-color="#568b33"/><stop offset="0.922" stop-color="#598d33"/><stop offset="0.928" stop-color="#5a8d39"/><stop offset="0.946" stop-color="#629198"/><stop offset="0.952" stop-color="#5f8aa8"/><stop offset="0.964" stop-color="#2e528c"/><stop offset="0.97" stop-color="#28467f"/><stop offset="1" stop-color="#223b73"/></linearGradient><linearGradient id="g155" x1="0" y1="0" x2="1" y2="0"><stop offset="0" stop-color="#223b73"/><stop offset="0.036" stop-color="#2a4b84"/><stop offset="0.048" stop-color="#547ea2"/><stop offset="0.054" stop-color="#6592a5"/><stop offset="0.072" stop-color="#5a8d44"/><stop offset="0.078" stop-color="#598d33"/><stop offset="0.174" stop-color="#568b33"/><stop offset="0.198" stop-color="#b2b340"/><stop offset="0.234" stop-color="#b9922d"/><stop offset="0.431" stop-color="#9e3220"/><stop offset="0.515" stop-color="#9a2720"/><stop offset="0.575" stop-color="#9f3420"/><stop offset="0.695" stop-color="#b36d26"/><stop offset="0.766" stop-color="#b9922d"/><stop offset="0.796" stop-color="#b4ae3d"/><stop offset="0.802" stop-color="#b2b340"/><stop offset="0.808" stop-color="#a1aa3a"/><stop offset="0.826" stop-color="#568b33"/><stop offset="0.922" stop-color="#598d33"/><stop offset="0.928" stop-color="#5a8d44"/><stop offset="0.946" stop-color="#6592a5"/><stop offset="0.952" stop-color="#547ea2"/><stop offset="0.964" stop-color="#2a4b84"/><stop offset="1" stop-color="#223b73"/></linearGradient><linearGradient id="g156" x1="0" y1="0" x2="1" y2="0"><stop offset="0" stop-color="#223b73"/><stop offset="0.036" stop-color="#284780"/><stop offset="0.042" stop-color="#32588f"/><stop offset="0.054" stop-color="#6491ac"/><stop offset="0.078" stop-color="#5a8d33"/><stop offset="0.18" stop-color="#568b33"/><stop offset="0.186" stop-color="#659133"/><stop offset="0.204" stop-color="#b0b23f"/><stop offset="0.24" stop-color="#ba932d"/><stop offset="0.431" stop-color="#9f3420"/><stop offset="0.515" stop-color="#9a2820"/><stop offset="0.569" stop-color="#9f3420"/><stop offset="0.689" stop-color="#b36e27"/><stop offset="0.76" stop-color="#ba932d"/><stop offset="0.79" stop-color="#b4b03e"/><stop offset="0.796" stop-color="#b0b23f"/><stop offset="0.814" stop-color="#659133"/><stop offset="0.82" stop-color="#568b33"/><stop offset="0.922" stop-color="#5a8d33"/><stop offset="0.946" stop-color="#6491ac"/><stop offset="0.958" stop-color="#32588f"/><stop offset="0.964" stop-color="#284780"/><stop offset="1" stop-color="#223b73"/></linearGradient><linearGradient id="g157" x1="0" y1="0" x2="1" y2="0"><stop offset="0" stop-color="#223b73"/><stop offset="0.036" stop-color="#28477f"/><stop offset="0.042" stop-color="#2e528c"/><stop offset="0.054" stop-color="#5f8aa8"/><stop offset="0.06" stop-color="#629198"/><stop offset="0.078" stop-color="#5a8d39"/><stop offset="0.084" stop-color="#598d33"/><stop offset="0.186" stop-color="#568b33"/><stop offset="0.21" stop-color="#b1b23f"/><stop offset="0.246" stop-color="#b9922d"/><stop offset="0.437" stop-color="#9f3420"/><stop offset="0.515" stop-color="#9b2920"/><stop offset="0.563" stop-color="#9f3420"/><stop offset="0.683" stop-color="#b36d26"/><stop offset="0.754" stop-color="#b9922d"/><stop offset="0.784" stop-color="#b4af3e"/><stop offset="0.79" stop-color="#b1b23f"/><stop offset="0.814" stop-color="#568b33"/><stop offset="0.916" stop-color="#598d33"/><stop offset="0.922" stop-color="#5a8d39"/><stop offset="0.94" stop-color="#629198"/><stop offset="0.946" stop-color="#5f8aa8"/><stop offset="0.958" stop-color="#2e528c"/><stop offset="0.964" stop-color="#28477f"/><stop offset="1" stop-color="#223b73"/></linearGradient><linearGradient id="g158" x1="0" y1="0" x2="1" y2="0"><stop offset="0" stop-color="#223b73"/><stop offset="0.036" stop-color="#28467f"/><stop offset="0.042" stop-color="#2d508a"/><stop offset="0.054" stop-color="#5c87a7"/><stop offset="0.06" stop-color="#63919c"/><stop offset="0.078" stop-color="#5a8d3c"/><stop offset="0.084" stop-color="#598d33"/><stop offset="0.186" stop-color="#578b33"/><stop offset="0.192" stop-color="#5d8e33"/><stop offset="0.21" stop-color="#adb03e"/><stop offset="0.246" stop-color="#b9952e"/><stop offset="0.437" stop-color="#9f3520"/><stop offset="0.509" stop-color="#9b2920"/><stop offset="0.563" stop-color="#9f3520"/><stop offset="0.683" stop-color="#b46f27"/><stop offset="0.754" stop-color="#b9952e"/><stop offset="0.784" stop-color="#b3b23f"/><stop offset="0.79" stop-color="#adb03e"/><stop offset="0.808" stop-color="#5d8e33"/><stop offset="0.814" stop-color="#578b33"/><stop offset="0.916" stop-color="#598d33"/><stop offset="0.922" stop-color="#5a8d3c"/><stop offset="0.94" stop-color="#63919c"/><stop offset="0.946" stop-color="#5c87a7"/><stop offset="0.958" stop-color="#2d508a"/><stop offset="0.964" stop-color="#28467f"/><stop offset="1" stop-color="#223b73"/></linearGradient><linearGradient id="g159" x1="0" y1="0" x2="1" y2="0"><stop offset="0" stop-color="#223b73"/><stop offset="0.036" stop-color="#28467f"/><stop offset="0.042" stop-color="#2d508a"/><stop offset="0.054" stop-color="#5c87a7"/><stop offset="0.06" stop-color="#63919c"/><stop offset="0.078" stop-color="#5a8d3c"/><stop offset="0.084" stop-color="#598d33"/><stop offset="0.186" stop-color="#578b33"/><stop offset="0.192" stop-color="#5d8e33"/><stop offset="0.21" stop-color="#adb03e"/><stop offset="0.246" stop-color="#b9952e"/><stop offset="0.437" stop-color="#9f3520"/><stop offset="0.509" stop-color="#9b2920"/><stop offset="0.563" stop-color="#9f3520"/><stop offset="0.683" stop-color="#b46f27"/><stop offset="0.754" stop-color="#b9952e"/><stop offset="0.784" stop-color="#b3b23f"/><stop offset="0.79" stop-color="#adb03e"/><stop offset="0.808" stop-color="#5d8e33"/><stop offset="0.814" stop-color="#578b33"/><stop offset="0.916" stop-color="#598d33"/><stop offset="0.922" stop-color="#5a8d3c"/><stop offset="0.94" stop-color="#63919c"/><stop offset="0.946" stop-color="#5c87a7"/><stop offset="0.958" stop-color="#2d508a"/><stop offset="0.964" stop-color="#28467f"/><stop offset="1" stop-color="#223b73"/></linearGradient><linearGradient id="g160" x1="0" y1="0" x2="1" y2="0"><stop offset="0" stop-color="#223b73"/><stop offset="0.036" stop-color="#28477f"/><stop offset="0.042" stop-color="#2e528c"/><stop offset="0.054" stop-color="#5f8aa8"/><stop offset="0.06" stop-color="#629198"/><stop offset="0.078" stop-color="#5a8d39"/><stop offset="0.084" stop-color="#598d33"/><stop offset="0.186" stop-color="#568b33"/><stop offset="0.21" stop-color="#b1b23f"/><stop offset="0.246" stop-color="#b9922d"/><stop offset="0.437" stop-color="#9f3420"/><stop offset="0.515" stop-color="#9b2920"/><stop offset="0.563" stop-color="#9f3420"/><stop offset="0.683" stop-color="#b36d26"/><stop offset="0.754" stop-color="#b9922d"/><stop offset="0.784" stop-color="#b4af3e"/><stop offset="0.79" stop-color="#b1b23f"/><stop offset="0.814" stop-color="#568b33"/><stop offset="0.916" stop-color="#598d33"/><stop offset="0.922" stop-color="#5a8d39"/><stop offset="0.94" stop-color="#629198"/><stop offset="0.946" stop-color="#5f8aa8"/><stop offset="0.958" stop-color="#2e528c"/><stop offset="0.964" stop-color="#28477f"/><stop offset="1" stop-color="#223b73"/></linearGradient><linearGradient id="g161" x1="0" y1="0" x2="1" y2="0"><stop offset="0" stop-color="#223b73"/><stop offset="0.036" stop-color="#284780"/><stop offset="0.042" stop-color="#32588f"/><stop offset="0.054" stop-color="#6491ac"/><stop offset="0.078" stop-color="#5a8d33"/><stop offset="0.18" stop-color="#568b33"/><stop offset="0.186" stop-color="#659133"/><stop offset="0.204" stop-color="#b0b23f"/><stop offset="0.24" stop-color="#ba932d"/><stop offset="0.431" stop-color="#9f3420"/><stop offset="0.515" stop-color="#9a2820"/><stop offset="0.569" stop-color="#9f3420"/><stop offset="0.689" stop-color="#b36e27"/><stop offset="0.76" stop-color="#ba932d"/><stop offset="0.79" stop-color="#b4b03e"/><stop offset="0.796" stop-color="#b0b23f"/><stop offset="0.814" stop-color="#659133"/><stop offset="0.82" stop-color="#568b33"/><stop offset="0.922" stop-color="#5a8d33"/><stop offset="0.946" stop-color="#6491ac"/><stop offset="0.958" stop-color="#32588f"/><stop offset="0.964" stop-color="#284780"/><stop offset="1" stop-color="#223b73"/></linearGradient><linearGradient id="g162" x1="0" y1="0" x2="1" y2="0"><stop offset="0" stop-color="#223b73"/><stop offset="0.036" stop-color="#2a4b84"/><stop offset="0.048" stop-color="#547ea2"/><stop offset="0.054" stop-color="#6592a5"/><stop offset="0.072" stop-color="#5a8d44"/><stop offset="0.078" stop-color="#598d33"/><stop offset="0.174" stop-color="#568b33"/><stop offset="0.198" stop-color="#b2b340"/><stop offset="0.234" stop-color="#b9922d"/><stop offset="0.431" stop-color="#9e3220"/><stop offset="0.515" stop-color="#9a2720"/><stop offset="0.575" stop-color="#9f3420"/><stop offset="0.695" stop-color="#b36d26"/><stop offset="0.766" stop-color="#b9922d"/><stop offset="0.796" stop-color="#b4ae3d"/><stop offset="0.802" stop-color="#b2b340"/><stop offset="0.808" stop-color="#a1aa3a"/><stop offset="0.826" stop-color="#568b33"/><stop offset="0.922" stop-color="#598d33"/><stop offset="0.928" stop-color="#5a8d44"/><stop offset="0.946" stop-color="#6592a5"/><stop offset="0.952" stop-color="#547ea2"/><stop offset="0.964" stop-color="#2a4b84"/><stop offset="1" stop-color="#223b73"/></linearGradient><linearGradient id="g163" x1="0" y1="0" x2="1" y2="0"><stop offset="0" stop-color="#223b73"/><stop offset="0.03" stop-color="#28467f"/><stop offset="0.036" stop-color="#2e528c"/><stop offset="0.048" stop-color="#5f8aa8"/><stop offset="0.054" stop-color="#629198"/><stop offset="0.072" stop-color="#5a8d39"/><stop offset="0.162" stop-color="#568b33"/><stop offset="0.168" stop-color="#639033"/><stop offset="0.186" stop-color="#afb13f"/><stop offset="0.192" stop-color="#b4b03e"/><stop offset="0.222" stop-color="#ba932d"/><stop offset="0.293" stop-color="#b36e27"/><stop offset="0.413" stop-color="#9f3520"/><stop offset="0.467" stop-color="#992620"/><stop offset="0.575" stop-color="#9d3020"/><stop offset="0.778" stop-color="#ba932d"/><stop offset="0.814" stop-color="#afb13f"/><stop offset="0.832" stop-color="#639033"/><stop offset="0.838" stop-color="#568b33"/><stop offset="0.922" stop-color="#598d33"/><stop offset="0.928" stop-color="#5a8d39"/><stop offset="0.946" stop-color="#629198"/><stop offset="0.952" stop-color="#5f8aa8"/><stop offset="0.964" stop-color="#2e528c"/><stop offset="0.97" stop-color="#28467f"/><stop offset="1" stop-color="#223b73"/></linearGradient><linearGradient id="g164" x1="0" y1="0" x2="1" y2="0"><stop offset="0" stop-color="#2a4a90"/><stop offset="0.01" stop-color="#3d6bb2"/><stop offset="0.021" stop-color="#7bb3d5"/><stop offset="0.026" stop-color="#79b4b8"/><stop offset="0.041" stop-color="#70b041"/><stop offset="0.072" stop-color="#6cae40"/><stop offset="0.087" stop-color="#cbd549"/><stop offset="0.092" stop-color="#dfdf50"/><stop offset="0.123" stop-color="#e8b638"/><stop offset="0.246" stop-color="#d4652a"/><stop offset="0.364" stop-color="#cd5228"/><stop offset="0.523" stop-color="#cb4d28"/><stop offset="0.754" stop-color="#d4652a"/><stop offset="0.815" stop-color="#e08830"/><stop offset="0.882" stop-color="#e7bd3b"/><stop offset="0.908" stop-color="#dfdf50"/><stop offset="0.913" stop-color="#cbd549"/><stop offset="0.928" stop-color="#6cae40"/><stop offset="0.959" stop-color="#70b041"/><stop offset="0.974" stop-color="#79b4b8"/><stop offset="0.979" stop-color="#7bb3d5"/><stop offset="0.99" stop-color="#3d6bb2"/><stop offset="1" stop-color="#2a4a90"/></linearGradient><linearGradient id="g165" x1="0" y1="0" x2="1" y2="0"><stop offset="0" stop-color="#2a4a90"/><stop offset="0.01" stop-color="#325aa1"/><stop offset="0.015" stop-color="#4372b5"/><stop offset="0.026" stop-color="#80b8d6"/><stop offset="0.041" stop-color="#70b05c"/><stop offset="0.046" stop-color="#70b040"/><stop offset="0.092" stop-color="#6cae40"/><stop offset="0.108" stop-color="#ced74a"/><stop offset="0.113" stop-color="#e0e050"/><stop offset="0.144" stop-color="#e8b538"/><stop offset="0.267" stop-color="#d4652a"/><stop offset="0.374" stop-color="#ce5628"/><stop offset="0.523" stop-color="#cd5128"/><stop offset="0.733" stop-color="#d4652a"/><stop offset="0.795" stop-color="#e08830"/><stop offset="0.862" stop-color="#e7bc3a"/><stop offset="0.887" stop-color="#e0e050"/><stop offset="0.892" stop-color="#ced74a"/><stop offset="0.908" stop-color="#6cae40"/><stop offset="0.954" stop-color="#70b040"/><stop offset="0.959" stop-color="#70b05c"/><stop offset="0.974" stop-color="#80b8d6"/><stop offset="0.985" stop-color="#4372b5"/><stop offset="0.99" stop-color="#325aa1"/><stop offset="1" stop-color="#2a4a90"/></linearGradient><linearGradient id="g166" x1="0" y1="0" x2="1" y2="0"><stop offset="0" stop-color="#2a4a90"/><stop offset="0.015" stop-color="#355ea6"/><stop offset="0.026" stop-color="#699ecb"/><stop offset="0.031" stop-color="#7eb7ce"/><stop offset="0.046" stop-color="#70b055"/><stop offset="0.051" stop-color="#70b040"/><stop offset="0.113" stop-color="#72b040"/><stop offset="0.123" stop-color="#b1c840"/><stop offset="0.128" stop-color="#d6db4d"/><stop offset="0.133" stop-color="#e0df4f"/><stop offset="0.159" stop-color="#e8ba39"/><stop offset="0.226" stop-color="#e08730"/><stop offset="0.287" stop-color="#d4652a"/><stop offset="0.497" stop-color="#ce5528"/><stop offset="0.713" stop-color="#d4652a"/><stop offset="0.774" stop-color="#e08730"/><stop offset="0.841" stop-color="#e8ba39"/><stop offset="0.867" stop-color="#e0df4f"/><stop offset="0.872" stop-color="#d6db4d"/><stop offset="0.877" stop-color="#b1c840"/><stop offset="0.887" stop-color="#72b040"/><stop offset="0.949" stop-color="#70b040"/><stop offset="0.954" stop-color="#70b055"/><stop offset="0.969" stop-color="#7eb7ce"/><stop offset="0.974" stop-color="#699ecb"/><stop offset="0.985" stop-color="#355ea6"/><stop offset="1" stop-color="#2a4a90"/></linearGradient><linearGradient id="g167" x1="0" y1="0" x2="1" y2="0"><stop offset="0" stop-color="#2a4a90"/><stop offset="0.021" stop-color="#3863ab"/><stop offset="0.031" stop-color="#71a7d0"/><stop offset="0.036" stop-color="#7cb6c4"/><stop offset="0.051" stop-color="#70b04c"/><stop offset="0.056" stop-color="#70b040"/><stop offset="0.128" stop-color="#6cae40"/><stop offset="0.133" stop-color="#7fb540"/><stop offset="0.149" stop-color="#dcde4f"/><stop offset="0.179" stop-color="#e8b838"/><stop offset="0.303" stop-color="#d4662a"/><stop offset="0.497" stop-color="#d05928"/><stop offset="0.697" stop-color="#d4662a"/><stop offset="0.821" stop-color="#e8b838"/><stop offset="0.851" stop-color="#dcde4f"/><stop offset="0.867" stop-color="#7fb540"/><stop offset="0.872" stop-color="#6cae40"/><stop offset="0.944" stop-color="#70b040"/><stop offset="0.949" stop-color="#70b04c"/><stop offset="0.964" stop-color="#7cb6c4"/><stop offset="0.969" stop-color="#71a7d0"/><stop offset="0.979" stop-color="#3863ab"/><stop offset="1" stop-color="#2a4a90"/></linearGradient><linearGradient id="g168" x1="0" y1="0" x2="1" y2="0"><stop offset="0" stop-color="#2a4a90"/><stop offset="0.021" stop-color="#32589f"/><stop offset="0.026" stop-color="#3d6bb2"/><stop offset="0.036" stop-color="#7bb2d5"/><stop offset="0.041" stop-color="#79b4b8"/><stop offset="0.056" stop-color="#70b042"/><stop offset="0.144" stop-color="#6cae40"/><stop offset="0.149" stop-color="#74b140"/><stop offset="0.159" stop-color="#b4ca41"/><stop offset="0.164" stop-color="#d8dc4d"/><stop offset="0.169" stop-color="#e0de4f"/><stop offset="0.195" stop-color="#e8ba39"/><stop offset="0.262" stop-color="#e08730"/><stop offset="0.323" stop-color="#d4652a"/><stop offset="0.497" stop-color="#d15e29"/><stop offset="0.677" stop-color="#d4652a"/><stop offset="0.738" stop-color="#e08730"/><stop offset="0.805" stop-color="#e8ba39"/><stop offset="0.831" stop-color="#e0de4f"/><stop offset="0.836" stop-color="#d8dc4d"/><stop offset="0.841" stop-color="#b4ca41"/><stop offset="0.851" stop-color="#74b140"/><stop offset="0.856" stop-color="#6cae40"/><stop offset="0.944" stop-color="#70b042"/><stop offset="0.959" stop-color="#79b4b8"/><stop offset="0.964" stop-color="#7bb2d5"/><stop offset="0.974" stop-color="#3d6bb2"/><stop offset="0.979" stop-color="#32589f"/><stop offset="1" stop-color="#2a4a90"/></linearGradient><linearGradient id="g169" x1="0" y1="0" x2="1" y2="0"><stop offset="0" stop-color="#2a4a90"/><stop offset="0.026" stop-color="#345ea5"/><stop offset="0.036" stop-color="#689dca"/><stop offset="0.041" stop-color="#7eb7cf"/><stop offset="0.056" stop-color="#70b056"/><stop offset="0.062" stop-color="#70b040"/><stop offset="0.159" stop-color="#6cae40"/><stop offset="0.164" stop-color="#75b140"/><stop offset="0.174" stop-color="#b4ca41"/><stop offset="0.179" stop-color="#d9dc4e"/><stop offset="0.185" stop-color="#e0de4f"/><stop offset="0.21" stop-color="#e8ba39"/><stop offset="0.277" stop-color="#e08730"/><stop offset="0.338" stop-color="#d4652a"/><stop offset="0.497" stop-color="#d36329"/><stop offset="0.662" stop-color="#d4652a"/><stop offset="0.723" stop-color="#e08730"/><stop offset="0.79" stop-color="#e8ba39"/><stop offset="0.815" stop-color="#e0de4f"/><stop offset="0.821" stop-color="#d9dc4e"/><stop offset="0.826" stop-color="#b4ca41"/><stop offset="0.836" stop-color="#75b140"/><stop offset="0.841" stop-color="#6cae40"/><stop offset="0.938" stop-color="#70b040"/><stop offset="0.944" stop-color="#70b056"/><stop offset="0.959" stop-color="#7eb7cf"/><stop offset="0.964" stop-color="#689dca"/><stop offset="0.974" stop-color="#345ea5"/><stop offset="1" stop-color="#2a4a90"/></linearGradient><linearGradient id="g170" x1="0" y1="0" x2="1" y2="0"><stop offset="0" stop-color="#2a4a90"/><stop offset="0.026" stop-color="#32589f"/><stop offset="0.031" stop-color="#3967af"/><stop offset="0.041" stop-color="#77add3"/><stop offset="0.046" stop-color="#7ab5be"/><stop offset="0.062" stop-color="#70b046"/><stop offset="0.067" stop-color="#6fb040"/><stop offset="0.174" stop-color="#6cae40"/><stop offset="0.185" stop-color="#a1c240"/><stop offset="0.195" stop-color="#dddf4f"/><stop offset="0.226" stop-color="#e8b738"/><stop offset="0.349" stop-color="#d4662a"/><stop offset="0.651" stop-color="#d4662a"/><stop offset="0.713" stop-color="#e08930"/><stop offset="0.779" stop-color="#e7be3c"/><stop offset="0.805" stop-color="#dddf4f"/><stop offset="0.815" stop-color="#a1c240"/><stop offset="0.826" stop-color="#6cae40"/><stop offset="0.933" stop-color="#6fb040"/><stop offset="0.938" stop-color="#70b046"/><stop offset="0.954" stop-color="#7ab5be"/><stop offset="0.959" stop-color="#77add3"/><stop offset="0.969" stop-color="#3967af"/><stop offset="0.974" stop-color="#32589f"/><stop offset="1" stop-color="#2a4a90"/></linearGradient><linearGradient id="g171" x1="0" y1="0" x2="1" y2="0"><stop offset="0" stop-color="#2a4a90"/><stop offset="0.031" stop-color="#355ea5"/><stop offset="0.041" stop-color="#699ecb"/><stop offset="0.046" stop-color="#7eb7ce"/><stop offset="0.062" stop-color="#70b055"/><stop offset="0.067" stop-color="#70b040"/><stop offset="0.185" stop-color="#6cae40"/><stop offset="0.19" stop-color="#7db540"/><stop offset="0.205" stop-color="#dcde4f"/><stop offset="0.236" stop-color="#e8b838"/><stop offset="0.354" stop-color="#d56a2b"/><stop offset="0.646" stop-color="#d56a2b"/><stop offset="0.764" stop-color="#e8b838"/><stop offset="0.795" stop-color="#dcde4f"/><stop offset="0.81" stop-color="#7db540"/><stop offset="0.815" stop-color="#6cae40"/><stop offset="0.933" stop-color="#70b040"/><stop offset="0.938" stop-color="#70b055"/><stop offset="0.954" stop-color="#7eb7ce"/><stop offset="0.959" stop-color="#699ecb"/><stop offset="0.969" stop-color="#355ea5"/><stop offset="1" stop-color="#2a4a90"/></linearGradient><linearGradient id="g172" x1="0" y1="0" x2="1" y2="0"><stop offset="0" stop-color="#2a4a90"/><stop offset="0.031" stop-color="#3259a0"/><stop offset="0.036" stop-color="#3f6eb3"/><stop offset="0.046" stop-color="#7eb5d7"/><stop offset="0.067" stop-color="#70b040"/><stop offset="0.195" stop-color="#6cae40"/><stop offset="0.21" stop-color="#cbd649"/><stop offset="0.215" stop-color="#dfdf50"/><stop offset="0.246" stop-color="#e8b638"/><stop offset="0.359" stop-color="#d66c2b"/><stop offset="0.641" stop-color="#d66c2b"/><stop offset="0.692" stop-color="#e08830"/><stop offset="0.759" stop-color="#e7bc3b"/><stop offset="0.785" stop-color="#dfdf50"/><stop offset="0.79" stop-color="#cbd649"/><stop offset="0.805" stop-color="#6cae40"/><stop offset="0.933" stop-color="#70b040"/><stop offset="0.954" stop-color="#7eb5d7"/><stop offset="0.964" stop-color="#3f6eb3"/><stop offset="0.969" stop-color="#3259a0"/><stop offset="1" stop-color="#2a4a90"/></linearGradient><linearGradient id="g173" x1="0" y1="0" x2="1" y2="0"><stop offset="0" stop-color="#2a4a90"/><stop offset="0.031" stop-color="#32589f"/><stop offset="0.036" stop-color="#3967af"/><stop offset="0.046" stop-color="#76add3"/><stop offset="0.051" stop-color="#7ab5be"/><stop offset="0.067" stop-color="#70b047"/><stop offset="0.072" stop-color="#6fb040"/><stop offset="0.2" stop-color="#6cae40"/><stop offset="0.21" stop-color="#a4c440"/><stop offset="0.221" stop-color="#dedf4f"/><stop offset="0.246" stop-color="#e7bd3b"/><stop offset="0.313" stop-color="#e08830"/><stop offset="0.364" stop-color="#d76e2b"/><stop offset="0.641" stop-color="#d76e2c"/><stop offset="0.749" stop-color="#e8b638"/><stop offset="0.779" stop-color="#dedf4f"/><stop offset="0.79" stop-color="#a4c440"/><stop offset="0.8" stop-color="#6cae40"/><stop offset="0.928" stop-color="#6fb040"/><stop offset="0.933" stop-color="#70b047"/><stop offset="0.949" stop-color="#7ab5be"/><stop offset="0.954" stop-color="#76add3"/><stop offset="0.964" stop-color="#3967af"/><stop offset="0.969" stop-color="#32589f"/><stop offset="1" stop-color="#2a4a90"/></linearGradient><linearGradient id="g174" x1="0" y1="0" x2="1" y2="0"><stop offset="0" stop-color="#2a4a90"/><stop offset="0.031" stop-color="#31589f"/><stop offset="0.036" stop-color="#3865ac"/><stop offset="0.046" stop-color="#73a9d1"/><stop offset="0.051" stop-color="#7bb6c2"/><stop offset="0.067" stop-color="#70b04b"/><stop offset="0.072" stop-color="#70b040"/><stop offset="0.2" stop-color="#6cae40"/><stop offset="0.205" stop-color="#73b140"/><stop offset="0.215" stop-color="#b2c941"/><stop offset="0.221" stop-color="#d7dc4d"/><stop offset="0.226" stop-color="#e0df4f"/><stop offset="0.251" stop-color="#e8ba39"/><stop offset="0.359" stop-color="#d8702c"/><stop offset="0.503" stop-color="#d76f2c"/><stop offset="0.641" stop-color="#d8702c"/><stop offset="0.749" stop-color="#e8ba39"/><stop offset="0.774" stop-color="#e0df4f"/><stop offset="0.779" stop-color="#d7dc4d"/><stop offset="0.785" stop-color="#b2c941"/><stop offset="0.795" stop-color="#73b140"/><stop offset="0.8" stop-color="#6cae40"/><stop offset="0.928" stop-color="#70b040"/><stop offset="0.933" stop-color="#70b04b"/><stop offset="0.949" stop-color="#7bb6c2"/><stop offset="0.954" stop-color="#73a9d1"/><stop offset="0.964" stop-color="#3865ac"/><stop offset="0.969" stop-color="#31589f"/><stop offset="1" stop-color="#2a4a90"/></linearGradient><linearGradient id="g175" x1="0" y1="0" x2="1" y2="0"><stop offset="0" stop-color="#2a4a90"/><stop offset="0.031" stop-color="#31589f"/><stop offset="0.036" stop-color="#3865ac"/><stop offset="0.046" stop-color="#73a9d1"/><stop offset="0.051" stop-color="#7bb6c2"/><stop offset="0.067" stop-color="#70b04b"/><stop offset="0.072" stop-color="#70b040"/><stop offset="0.2" stop-color="#6cae40"/><stop offset="0.205" stop-color="#73b140"/><stop offset="0.215" stop-color="#b2c941"/><stop offset="0.221" stop-color="#d7dc4d"/><stop offset="0.226" stop-color="#e0df4f"/><stop offset="0.251" stop-color="#e8ba39"/><stop offset="0.359" stop-color="#d8702c"/><stop offset="0.503" stop-color="#d76f2c"/><stop offset="0.641" stop-color="#d8702c"/><stop offset="0.749" stop-color="#e8ba39"/><stop offset="0.774" stop-color="#e0df4f"/><stop offset="0.779" stop-color="#d7dc4d"/><stop offset="0.785" stop-color="#b2c941"/><stop offset="0.795" stop-color="#73b140"/><stop offset="0.8" stop-color="#6cae40"/><stop offset="0.928" stop-color="#70b040"/><stop offset="0.933" stop-color="#70b04b"/><stop offset="0.949" stop-color="#7bb6c2"/><stop offset="0.954" stop-color="#73a9d1"/><stop offset="0.964" stop-color="#3865ac"/><stop offset="0.969" stop-color="#31589f"/><stop offset="1" stop-color="#2a4a90"/></linearGradient><linearGradient id="g176" x1="0" y1="0" x2="1" y2="0"><stop offset="0" stop-color="#2a4a90"/><stop offset="0.031" stop-color="#32589f"/><stop offset="0.036" stop-color="#3967af"/><stop offset="0.046" stop-color="#76add3"/><stop offset="0.051" stop-color="#7ab5be"/><stop offset="0.067" stop-color="#70b047"/><stop offset="0.072" stop-color="#6fb040"/><stop offset="0.2" stop-color="#6cae40"/><stop offset="0.21" stop-color="#a4c440"/><stop offset="0.221" stop-color="#dedf4f"/><stop offset="0.246" stop-color="#e7bd3b"/><stop offset="0.313" stop-color="#e08830"/><stop offset="0.364" stop-color="#d76e2b"/><stop offset="0.641" stop-color="#d76e2c"/><stop offset="0.749" stop-color="#e8b638"/><stop offset="0.779" stop-color="#dedf4f"/><stop offset="0.79" stop-color="#a4c440"/><stop offset="0.8" stop-color="#6cae40"/><stop offset="0.928" stop-color="#6fb040"/><stop offset="0.933" stop-color="#70b047"/><stop offset="0.949" stop-color="#7ab5be"/><stop offset="0.954" stop-color="#76add3"/><stop offset="0.964" stop-color="#3967af"/><stop offset="0.969" stop-color="#32589f"/><stop offset="1" stop-color="#2a4a90"/></linearGradient><linearGradient id="g177" x1="0" y1="0" x2="1" y2="0"><stop offset="0" stop-color="#2a4a90"/><stop offset="0.031" stop-color="#3259a0"/><stop offset="0.036" stop-color="#3f6eb3"/><stop offset="0.046" stop-color="#7eb5d7"/><stop offset="0.067" stop-color="#70b040"/><stop offset="0.195" stop-color="#6cae40"/><stop offset="0.21" stop-color="#cbd649"/><stop offset="0.215" stop-color="#dfdf50"/><stop offset="0.246" stop-color="#e8b638"/><stop offset="0.359" stop-color="#d66c2b"/><stop offset="0.641" stop-color="#d66c2b"/><stop offset="0.692" stop-color="#e08830"/><stop offset="0.759" stop-color="#e7bc3b"/><stop offset="0.785" stop-color="#dfdf50"/><stop offset="0.79" stop-color="#cbd649"/><stop offset="0.805" stop-color="#6cae40"/><stop offset="0.933" stop-color="#70b040"/><stop offset="0.954" stop-color="#7eb5d7"/><stop offset="0.964" stop-color="#3f6eb3"/><stop offset="0.969" stop-color="#3259a0"/><stop offset="1" stop-color="#2a4a90"/></linearGradient><linearGradient id="g178" x1="0" y1="0" x2="1" y2="0"><stop offset="0" stop-color="#2a4a90"/><stop offset="0.031" stop-color="#355ea5"/><stop offset="0.041" stop-color="#699ecb"/><stop offset="0.046" stop-color="#7eb7ce"/><stop offset="0.062" stop-color="#70b055"/><stop offset="0.067" stop-color="#70b040"/><stop offset="0.185" stop-color="#6cae40"/><stop offset="0.19" stop-color="#7db540"/><stop offset="0.205" stop-color="#dcde4f"/><stop offset="0.236" stop-color="#e8b838"/><stop offset="0.354" stop-color="#d56a2b"/><stop offset="0.646" stop-color="#d56a2b"/><stop offset="0.764" stop-color="#e8b838"/><stop offset="0.795" stop-color="#dcde4f"/><stop offset="0.81" stop-color="#7db540"/><stop offset="0.815" stop-color="#6cae40"/><stop offset="0.933" stop-color="#70b040"/><stop offset="0.938" stop-color="#70b055"/><stop offset="0.954" stop-color="#7eb7ce"/><stop offset="0.959" stop-color="#699ecb"/><stop offset="0.969" stop-color="#355ea5"/><stop offset="1" stop-color="#2a4a90"/></linearGradient><linearGradient id="g179" x1="0" y1="0" x2="1" y2="0"><stop offset="0" stop-color="#2a4a90"/><stop offset="0.026" stop-color="#32589f"/><stop offset="0.031" stop-color="#3967af"/><stop offset="0.041" stop-color="#77add3"/><stop offset="0.046" stop-color="#7ab5be"/><stop offset="0.062" stop-color="#70b046"/><stop offset="0.067" stop-color="#6fb040"/><stop offset="0.174" stop-color="#6cae40"/><stop offset="0.185" stop-color="#a1c240"/><stop offset="0.195" stop-color="#dddf4f"/><stop offset="0.226" stop-color="#e8b738"/><stop offset="0.349" stop-color="#d4662a"/><stop offset="0.651" stop-color="#d4662a"/><stop offset="0.713" stop-color="#e08930"/><stop offset="0.779" stop-color="#e7be3c"/><stop offset="0.805" stop-color="#dddf4f"/><stop offset="0.815" stop-color="#a1c240"/><stop offset="0.826" stop-color="#6cae40"/><stop offset="0.933" stop-color="#6fb040"/><stop offset="0.938" stop-color="#70b046"/><stop offset="0.954" stop-color="#7ab5be"/><stop offset="0.959" stop-color="#77add3"/><stop offset="0.969" stop-color="#3967af"/><stop offset="0.974" stop-color="#32589f"/><stop offset="1" stop-color="#2a4a90"/></linearGradient><linearGradient id="g180" x1="0" y1="0" x2="1" y2="0"><stop offset="0" stop-color="#2a4a90"/><stop offset="0.026" stop-color="#345ea5"/><stop offset="0.036" stop-color="#689dca"/><stop offset="0.041" stop-color="#7eb7cf"/><stop offset="0.056" stop-color="#70b056"/><stop offset="0.062" stop-color="#70b040"/><stop offset="0.159" stop-color="#6cae40"/><stop offset="0.164" stop-color="#75b140"/><stop offset="0.174" stop-color="#b4ca41"/><stop offset="0.179" stop-color="#d9dc4e"/><stop offset="0.185" stop-color="#e0de4f"/><stop offset="0.21" stop-color="#e8ba39"/><stop offset="0.277" stop-color="#e08730"/><stop offset="0.338" stop-color="#d4652a"/><stop offset="0.497" stop-color="#d36329"/><stop offset="0.662" stop-color="#d4652a"/><stop offset="0.723" stop-color="#e08730"/><stop offset="0.79" stop-color="#e8ba39"/><stop offset="0.815" stop-color="#e0de4f"/><stop offset="0.821" stop-color="#d9dc4e"/><stop offset="0.826" stop-color="#b4ca41"/><stop offset="0.836" stop-color="#75b140"/><stop offset="0.841" stop-color="#6cae40"/><stop offset="0.938" stop-color="#70b040"/><stop offset="0.944" stop-color="#70b056"/><stop offset="0.959" stop-color="#7eb7cf"/><stop offset="0.964" stop-color="#689dca"/><stop offset="0.974" stop-color="#345ea5"/><stop offset="1" stop-color="#2a4a90"/></linearGradient><linearGradient id="g181" x1="0" y1="0" x2="1" y2="0"><stop offset="0" stop-color="#284689"/><stop offset="0.154" stop-color="#32589c"/><stop offset="0.231" stop-color="#6496c1"/><stop offset="0.269" stop-color="#77aec3"/><stop offset="0.385" stop-color="#6aa74e"/><stop offset="0.423" stop-color="#6aa73d"/><stop offset="0.5" stop-color="#67a53d"/><stop offset="0.615" stop-color="#c2cb46"/><stop offset="0.654" stop-color="#d4d44c"/><stop offset="1" stop-color="#daa133"/></linearGradient><linearGradient id="g182" x1="0" y1="0" x2="1" y2="0"><stop offset="0" stop-color="#639d3a"/><stop offset="0.2" stop-color="#adbb3e"/><stop offset="0.4" stop-color="#c67029"/><stop offset="0.6" stop-color="#ad2b24"/><stop offset="1" stop-color="#9e2824"/></linearGradient><linearGradient id="g183" x1="0" y1="0" x2="1" y2="0"><stop offset="0" stop-color="#25417f"/><stop offset="0.012" stop-color="#365e9c"/><stop offset="0.024" stop-color="#6c9dbc"/><stop offset="0.03" stop-color="#6a9fa2"/><stop offset="0.048" stop-color="#639b3a"/><stop offset="0.072" stop-color="#639a38"/><stop offset="0.09" stop-color="#bac043"/><stop offset="0.096" stop-color="#c5c546"/><stop offset="0.132" stop-color="#cc9f31"/><stop offset="0.353" stop-color="#ae3723"/><stop offset="0.407" stop-color="#a92b23"/><stop offset="0.521" stop-color="#a32923"/><stop offset="0.593" stop-color="#a92b23"/><stop offset="0.671" stop-color="#b13f23"/><stop offset="0.874" stop-color="#cca433"/><stop offset="0.904" stop-color="#c5c546"/><stop offset="0.91" stop-color="#bac043"/><stop offset="0.928" stop-color="#639a38"/><stop offset="0.952" stop-color="#639b3a"/><stop offset="0.97" stop-color="#6a9fa2"/><stop offset="0.976" stop-color="#6c9dbc"/><stop offset="0.988" stop-color="#365e9c"/><stop offset="1" stop-color="#25417f"/></linearGradient><linearGradient id="g184" x1="0" y1="0" x2="1" y2="0"><stop offset="0" stop-color="#25417f"/><stop offset="0.012" stop-color="#2c4f8e"/><stop offset="0.018" stop-color="#3b659f"/><stop offset="0.03" stop-color="#70a2bd"/><stop offset="0.048" stop-color="#639b51"/><stop offset="0.054" stop-color="#629b38"/><stop offset="0.09" stop-color="#629a38"/><stop offset="0.108" stop-color="#b9bf42"/><stop offset="0.114" stop-color="#c5c546"/><stop offset="0.15" stop-color="#cc9f31"/><stop offset="0.359" stop-color="#af3b23"/><stop offset="0.437" stop-color="#a92a23"/><stop offset="0.521" stop-color="#a62a23"/><stop offset="0.659" stop-color="#b24123"/><stop offset="0.856" stop-color="#cca533"/><stop offset="0.886" stop-color="#c5c546"/><stop offset="0.892" stop-color="#b9bf42"/><stop offset="0.91" stop-color="#629a38"/><stop offset="0.946" stop-color="#629b38"/><stop offset="0.952" stop-color="#639b51"/><stop offset="0.97" stop-color="#70a2bd"/><stop offset="0.982" stop-color="#3b659f"/><stop offset="0.988" stop-color="#2c4f8e"/><stop offset="1" stop-color="#25417f"/></linearGradient><linearGradient id="g185" x1="0" y1="0" x2="1" y2="0"><stop offset="0" stop-color="#25417f"/><stop offset="0.018" stop-color="#2e5392"/><stop offset="0.03" stop-color="#5c8bb3"/><stop offset="0.036" stop-color="#6fa1b5"/><stop offset="0.054" stop-color="#639b4b"/><stop offset="0.06" stop-color="#629b38"/><stop offset="0.108" stop-color="#649b38"/><stop offset="0.12" stop-color="#9bb038"/><stop offset="0.126" stop-color="#bbc043"/><stop offset="0.132" stop-color="#c5c446"/><stop offset="0.162" stop-color="#cca433"/><stop offset="0.353" stop-color="#b34323"/><stop offset="0.497" stop-color="#a92b23"/><stop offset="0.641" stop-color="#b24123"/><stop offset="0.838" stop-color="#cca433"/><stop offset="0.868" stop-color="#c5c446"/><stop offset="0.874" stop-color="#bbc043"/><stop offset="0.88" stop-color="#9bb038"/><stop offset="0.892" stop-color="#649b38"/><stop offset="0.94" stop-color="#629b38"/><stop offset="0.946" stop-color="#639b4b"/><stop offset="0.964" stop-color="#6fa1b5"/><stop offset="0.97" stop-color="#5c8bb3"/><stop offset="0.982" stop-color="#2e5392"/><stop offset="1" stop-color="#25417f"/></linearGradient><linearGradient id="g186" x1="0" y1="0" x2="1" y2="0"><stop offset="0" stop-color="#25417f"/><stop offset="0.024" stop-color="#315797"/><stop offset="0.036" stop-color="#6493b7"/><stop offset="0.042" stop-color="#6da0ad"/><stop offset="0.06" stop-color="#639b43"/><stop offset="0.066" stop-color="#629b38"/><stop offset="0.12" stop-color="#5f9938"/><stop offset="0.126" stop-color="#6a9d38"/><stop offset="0.144" stop-color="#c0c345"/><stop offset="0.18" stop-color="#cca332"/><stop offset="0.371" stop-color="#b24323"/><stop offset="0.497" stop-color="#aa2e23"/><stop offset="0.629" stop-color="#b24323"/><stop offset="0.82" stop-color="#cca332"/><stop offset="0.856" stop-color="#c0c345"/><stop offset="0.874" stop-color="#6a9d38"/><stop offset="0.88" stop-color="#5f9938"/><stop offset="0.934" stop-color="#629b38"/><stop offset="0.94" stop-color="#639b43"/><stop offset="0.958" stop-color="#6da0ad"/><stop offset="0.964" stop-color="#6493b7"/><stop offset="0.976" stop-color="#315797"/><stop offset="1" stop-color="#25417f"/></linearGradient><linearGradient id="g187" x1="0" y1="0" x2="1" y2="0"><stop offset="0" stop-color="#25417f"/><stop offset="0.024" stop-color="#2c4e8c"/><stop offset="0.03" stop-color="#355e9c"/><stop offset="0.042" stop-color="#6c9dbc"/><stop offset="0.048" stop-color="#6b9fa3"/><stop offset="0.066" stop-color="#639b3a"/><stop offset="0.138" stop-color="#5f9938"/><stop offset="0.162" stop-color="#c3c446"/><stop offset="0.198" stop-color="#cca031"/><stop offset="0.383" stop-color="#b34423"/><stop offset="0.503" stop-color="#ac3123"/><stop offset="0.623" stop-color="#b44723"/><stop offset="0.808" stop-color="#cba734"/><stop offset="0.838" stop-color="#c3c446"/><stop offset="0.862" stop-color="#5f9938"/><stop offset="0.934" stop-color="#639b3a"/><stop offset="0.952" stop-color="#6b9fa3"/><stop offset="0.958" stop-color="#6c9dbc"/><stop offset="0.97" stop-color="#355e9c"/><stop offset="0.976" stop-color="#2c4e8c"/><stop offset="1" stop-color="#25417f"/></linearGradient><linearGradient id="g188" x1="0" y1="0" x2="1" y2="0"><stop offset="0" stop-color="#25417f"/><stop offset="0.03" stop-color="#2e5291"/><stop offset="0.042" stop-color="#5b8ab2"/><stop offset="0.048" stop-color="#6fa1b7"/><stop offset="0.066" stop-color="#639b4c"/><stop offset="0.072" stop-color="#629b38"/><stop offset="0.15" stop-color="#5f9938"/><stop offset="0.156" stop-color="#6d9e38"/><stop offset="0.174" stop-color="#c1c345"/><stop offset="0.21" stop-color="#cca231"/><stop offset="0.389" stop-color="#b44723"/><stop offset="0.497" stop-color="#ad3423"/><stop offset="0.611" stop-color="#b44723"/><stop offset="0.79" stop-color="#cca231"/><stop offset="0.826" stop-color="#c1c345"/><stop offset="0.844" stop-color="#6d9e38"/><stop offset="0.85" stop-color="#5f9938"/><stop offset="0.928" stop-color="#629b38"/><stop offset="0.934" stop-color="#639b4c"/><stop offset="0.952" stop-color="#6fa1b7"/><stop offset="0.958" stop-color="#5b8ab2"/><stop offset="0.97" stop-color="#2e5291"/><stop offset="1" stop-color="#25417f"/></linearGradient><linearGradient id="g189" x1="0" y1="0" x2="1" y2="0"><stop offset="0" stop-color="#25417f"/><stop offset="0.03" stop-color="#2c4e8c"/><stop offset="0.036" stop-color="#325a9a"/><stop offset="0.048" stop-color="#6898b9"/><stop offset="0.054" stop-color="#6c9fa7"/><stop offset="0.072" stop-color="#639b3e"/><stop offset="0.078" stop-color="#629b38"/><stop offset="0.162" stop-color="#5f9938"/><stop offset="0.168" stop-color="#6d9e38"/><stop offset="0.186" stop-color="#c1c345"/><stop offset="0.222" stop-color="#cca231"/><stop offset="0.407" stop-color="#b34523"/><stop offset="0.521" stop-color="#ae3723"/><stop offset="0.593" stop-color="#b34523"/><stop offset="0.707" stop-color="#c5792a"/><stop offset="0.778" stop-color="#cca231"/><stop offset="0.808" stop-color="#c6c245"/><stop offset="0.814" stop-color="#c1c345"/><stop offset="0.832" stop-color="#6d9e38"/><stop offset="0.838" stop-color="#5f9938"/><stop offset="0.928" stop-color="#639b3e"/><stop offset="0.946" stop-color="#6c9fa7"/><stop offset="0.952" stop-color="#6898b9"/><stop offset="0.964" stop-color="#325a9a"/><stop offset="0.97" stop-color="#2c4e8c"/><stop offset="1" stop-color="#25417f"/></linearGradient><linearGradient id="g190" x1="0" y1="0" x2="1" y2="0"><stop offset="0" stop-color="#25417f"/><stop offset="0.036" stop-color="#2e5392"/><stop offset="0.048" stop-color="#5c8bb2"/><stop offset="0.054" stop-color="#6fa1b6"/><stop offset="0.072" stop-color="#639b4b"/><stop offset="0.078" stop-color="#629b38"/><stop offset="0.174" stop-color="#5f9938"/><stop offset="0.198" stop-color="#c4c446"/><stop offset="0.234" stop-color="#cca031"/><stop offset="0.413" stop-color="#b44723"/><stop offset="0.521" stop-color="#af3923"/><stop offset="0.587" stop-color="#b44723"/><stop offset="0.695" stop-color="#c5782a"/><stop offset="0.766" stop-color="#cca031"/><stop offset="0.796" stop-color="#c6c043"/><stop offset="0.802" stop-color="#c4c446"/><stop offset="0.808" stop-color="#b1bb40"/><stop offset="0.826" stop-color="#5f9938"/><stop offset="0.922" stop-color="#629b38"/><stop offset="0.928" stop-color="#639b4b"/><stop offset="0.946" stop-color="#6fa1b6"/><stop offset="0.952" stop-color="#5c8bb2"/><stop offset="0.964" stop-color="#2e5392"/><stop offset="1" stop-color="#25417f"/></linearGradient><linearGradient id="g191" x1="0" y1="0" x2="1" y2="0"><stop offset="0" stop-color="#25417f"/><stop offset="0.036" stop-color="#2c4e8d"/><stop offset="0.042" stop-color="#38619d"/><stop offset="0.054" stop-color="#6e9fbd"/><stop offset="0.078" stop-color="#639b38"/><stop offset="0.18" stop-color="#5f9938"/><stop offset="0.186" stop-color="#6f9f38"/><stop offset="0.204" stop-color="#c2c345"/><stop offset="0.21" stop-color="#c6c244"/><stop offset="0.24" stop-color="#cca231"/><stop offset="0.311" stop-color="#c5792a"/><stop offset="0.419" stop-color="#b44723"/><stop offset="0.485" stop-color="#af3b23"/><stop offset="0.587" stop-color="#b54a23"/><stop offset="0.76" stop-color="#cca231"/><stop offset="0.796" stop-color="#c2c345"/><stop offset="0.814" stop-color="#6f9f38"/><stop offset="0.82" stop-color="#5f9938"/><stop offset="0.922" stop-color="#639b38"/><stop offset="0.946" stop-color="#6e9fbd"/><stop offset="0.958" stop-color="#38619d"/><stop offset="0.964" stop-color="#2c4e8d"/><stop offset="1" stop-color="#25417f"/></linearGradient><linearGradient id="g192" x1="0" y1="0" x2="1" y2="0"><stop offset="0" stop-color="#25417f"/><stop offset="0.036" stop-color="#2c4e8c"/><stop offset="0.042" stop-color="#325a9a"/><stop offset="0.054" stop-color="#6898b9"/><stop offset="0.06" stop-color="#6c9fa8"/><stop offset="0.078" stop-color="#639b3f"/><stop offset="0.084" stop-color="#629b38"/><stop offset="0.186" stop-color="#5f9938"/><stop offset="0.21" stop-color="#c3c446"/><stop offset="0.246" stop-color="#cca131"/><stop offset="0.419" stop-color="#b54923"/><stop offset="0.515" stop-color="#b03c23"/><stop offset="0.575" stop-color="#b44723"/><stop offset="0.683" stop-color="#c5782a"/><stop offset="0.754" stop-color="#cca131"/><stop offset="0.784" stop-color="#c6c144"/><stop offset="0.79" stop-color="#c3c446"/><stop offset="0.814" stop-color="#5f9938"/><stop offset="0.916" stop-color="#629b38"/><stop offset="0.922" stop-color="#639b3f"/><stop offset="0.94" stop-color="#6c9fa8"/><stop offset="0.946" stop-color="#6898b9"/><stop offset="0.958" stop-color="#325a9a"/><stop offset="0.964" stop-color="#2c4e8c"/><stop offset="1" stop-color="#25417f"/></linearGradient><linearGradient id="g193" x1="0" y1="0" x2="1" y2="0"><stop offset="0" stop-color="#25417f"/><stop offset="0.036" stop-color="#2c4d8c"/><stop offset="0.042" stop-color="#315897"/><stop offset="0.054" stop-color="#6594b7"/><stop offset="0.06" stop-color="#6ca0ab"/><stop offset="0.078" stop-color="#639b42"/><stop offset="0.084" stop-color="#629b38"/><stop offset="0.186" stop-color="#5f9938"/><stop offset="0.192" stop-color="#679c38"/><stop offset="0.21" stop-color="#bfc244"/><stop offset="0.246" stop-color="#cca432"/><stop offset="0.419" stop-color="#b54a23"/><stop offset="0.515" stop-color="#b03c23"/><stop offset="0.575" stop-color="#b44823"/><stop offset="0.677" stop-color="#c5772a"/><stop offset="0.749" stop-color="#cc9f31"/><stop offset="0.784" stop-color="#c5c445"/><stop offset="0.79" stop-color="#bfc244"/><stop offset="0.808" stop-color="#679c38"/><stop offset="0.814" stop-color="#5f9938"/><stop offset="0.916" stop-color="#629b38"/><stop offset="0.922" stop-color="#639b42"/><stop offset="0.94" stop-color="#6ca0ab"/><stop offset="0.946" stop-color="#6594b7"/><stop offset="0.958" stop-color="#315897"/><stop offset="0.964" stop-color="#2c4d8c"/><stop offset="1" stop-color="#25417f"/></linearGradient><linearGradient id="g194" x1="0" y1="0" x2="1" y2="0"><stop offset="0" stop-color="#25417f"/><stop offset="0.036" stop-color="#2c4d8c"/><stop offset="0.042" stop-color="#315897"/><stop offset="0.054" stop-color="#6594b7"/><stop offset="0.06" stop-color="#6ca0ab"/><stop offset="0.078" stop-color="#639b42"/><stop offset="0.084" stop-color="#629b38"/><stop offset="0.186" stop-color="#5f9938"/><stop offset="0.192" stop-color="#679c38"/><stop offset="0.21" stop-color="#bfc244"/><stop offset="0.246" stop-color="#cca432"/><stop offset="0.419" stop-color="#b54a23"/><stop offset="0.515" stop-color="#b03c23"/><stop offset="0.575" stop-color="#b44823"/><stop offset="0.677" stop-color="#c5772a"/><stop offset="0.749" stop-color="#cc9f31"/><stop offset="0.784" stop-color="#c5c445"/><stop offset="0.79" stop-color="#bfc244"/><stop offset="0.808" stop-color="#679c38"/><stop offset="0.814" stop-color="#5f9938"/><stop offset="0.916" stop-color="#629b38"/><stop offset="0.922" stop-color="#639b42"/><stop offset="0.94" stop-color="#6ca0ab"/><stop offset="0.946" stop-color="#6594b7"/><stop offset="0.958" stop-color="#315897"/><stop offset="0.964" stop-color="#2c4d8c"/><stop offset="1" stop-color="#25417f"/></linearGradient><linearGradient id="g195" x1="0" y1="0" x2="1" y2="0"><stop offset="0" stop-color="#25417f"/><stop offset="0.036" stop-color="#2c4e8c"/><stop offset="0.042" stop-color="#325a9a"/><stop offset="0.054" stop-color="#6898b9"/><stop offset="0.06" stop-color="#6c9fa8"/><stop offset="0.078" stop-color="#639b3f"/><stop offset="0.084" stop-color="#629b38"/><stop offset="0.186" stop-color="#5f9938"/><stop offset="0.21" stop-color="#c3c446"/><stop offset="0.246" stop-color="#cca131"/><stop offset="0.419" stop-color="#b54923"/><stop offset="0.515" stop-color="#b03c23"/><stop offset="0.575" stop-color="#b44723"/><stop offset="0.683" stop-color="#c5782a"/><stop offset="0.754" stop-color="#cca131"/><stop offset="0.784" stop-color="#c6c144"/><stop offset="0.79" stop-color="#c3c446"/><stop offset="0.814" stop-color="#5f9938"/><stop offset="0.916" stop-color="#629b38"/><stop offset="0.922" stop-color="#639b3f"/><stop offset="0.94" stop-color="#6c9fa8"/><stop offset="0.946" stop-color="#6898b9"/><stop offset="0.958" stop-color="#325a9a"/><stop offset="0.964" stop-color="#2c4e8c"/><stop offset="1" stop-color="#25417f"/></linearGradient><linearGradient id="g196" x1="0" y1="0" x2="1" y2="0"><stop offset="0" stop-color="#25417f"/><stop offset="0.036" stop-color="#2c4e8d"/><stop offset="0.042" stop-color="#38619d"/><stop offset="0.054" stop-color="#6e9fbd"/><stop offset="0.078" stop-color="#639b38"/><stop offset="0.18" stop-color="#5f9938"/><stop offset="0.186" stop-color="#6f9f38"/><stop offset="0.204" stop-color="#c2c345"/><stop offset="0.21" stop-color="#c6c244"/><stop offset="0.24" stop-color="#cca231"/><stop offset="0.311" stop-color="#c5792a"/><stop offset="0.419" stop-color="#b44723"/><stop offset="0.485" stop-color="#af3b23"/><stop offset="0.587" stop-color="#b54a23"/><stop offset="0.76" stop-color="#cca231"/><stop offset="0.796" stop-color="#c2c345"/><stop offset="0.814" stop-color="#6f9f38"/><stop offset="0.82" stop-color="#5f9938"/><stop offset="0.922" stop-color="#639b38"/><stop offset="0.946" stop-color="#6e9fbd"/><stop offset="0.958" stop-color="#38619d"/><stop offset="0.964" stop-color="#2c4e8d"/><stop offset="1" stop-color="#25417f"/></linearGradient><linearGradient id="g197" x1="0" y1="0" x2="1" y2="0"><stop offset="0" stop-color="#25417f"/><stop offset="0.036" stop-color="#2e5392"/><stop offset="0.048" stop-color="#5c8bb2"/><stop offset="0.054" stop-color="#6fa1b6"/><stop offset="0.072" stop-color="#639b4b"/><stop offset="0.078" stop-color="#629b38"/><stop offset="0.174" stop-color="#5f9938"/><stop offset="0.198" stop-color="#c4c446"/><stop offset="0.234" stop-color="#cca031"/><stop offset="0.413" stop-color="#b44723"/><stop offset="0.521" stop-color="#af3923"/><stop offset="0.587" stop-color="#b44723"/><stop offset="0.695" stop-color="#c5782a"/><stop offset="0.766" stop-color="#cca031"/><stop offset="0.796" stop-color="#c6c043"/><stop offset="0.802" stop-color="#c4c446"/><stop offset="0.808" stop-color="#b1bb40"/><stop offset="0.826" stop-color="#5f9938"/><stop offset="0.922" stop-color="#629b38"/><stop offset="0.928" stop-color="#639b4b"/><stop offset="0.946" stop-color="#6fa1b6"/><stop offset="0.952" stop-color="#5c8bb2"/><stop offset="0.964" stop-color="#2e5392"/><stop offset="1" stop-color="#25417f"/></linearGradient><linearGradient id="g198" x1="0" y1="0" x2="1" y2="0"><stop offset="0" stop-color="#69a63d"/><stop offset="0.15" stop-color="#9ab93d"/><stop offset="0.3" stop-color="#daa333"/><stop offset="0.5" stop-color="#bc3e26"/><stop offset="1" stop-color="#af2c26"/></linearGradient><clipPath id="cp0"><polygon points="828.9,202.4 866.6,211.5 866.6,306.3 828.9,297.9" fill="#000" /></clipPath><clipPath id="cp1"><polygon points="881,212.4 937.2,192.2 937.2,294.2 881,315.6" fill="#000" /></clipPath><clipPath id="cp2"><polygon points="937.2,192.2 1004.4,206.3 1004.4,307 937.2,294.2" fill="#000" /></clipPath><clipPath id="cp3"><polygon points="1034.9,248 1100,262 1100,354.8 1034.9,345" fill="#000" /></clipPath><clipPath id="cp4"><polygon points="1114.7,265.3 1171.5,246 1172.1,345.8 1115.3,366.3" fill="#000" /></clipPath><clipPath id="cp5"><polygon points="1027.6,205.7 1082.6,183.7 1082.6,252 1034.9,243.3" fill="#000" /></clipPath><clipPath id="cp6"><polygon points="1082.6,183.7 1149.5,197.5 1149.5,236.3 1100,255.2 1082.6,252" fill="#000" /></clipPath><clipPath id="cp7"><polygon points="939.3,145 995,123.1 995,191.8 945.9,181.7" fill="#000" /></clipPath><clipPath id="cp8"><polygon points="995,123.1 1060.1,135.5 1060.1,174.9 1012.2,195.3 995,191.8" fill="#000" /></clipPath><clipPath id="cp9"><polygon points="1085.3,136 1141,114.5 1141,181.6 1094.2,172.7" fill="#000" /></clipPath><filter id="soft" x="-2%" y="-2%" width="104%" height="104%"><feGaussianBlur stdDeviation="0.7"/></filter></defs>
<rect width="1520" height="1146" fill="#fff"/>
<rect x="110.4" y="20.8" width="569.3" height="424.9" fill="none" stroke="#000" stroke-width="4.6"/>
<line x1="129.38" y1="445.7" x2="129.38" y2="441.2" stroke="#000" stroke-width="4.2" />
<line x1="148.36" y1="445.7" x2="148.36" y2="441.2" stroke="#000" stroke-width="4.2" />
<line x1="167.34" y1="445.7" x2="167.34" y2="441.2" stroke="#000" stroke-width="4.2" />
<line x1="186.32" y1="445.7" x2="186.32" y2="441.2" stroke="#000" stroke-width="4.2" />
<line x1="205.3" y1="445.7" x2="205.3" y2="437.7" stroke="#000" stroke-width="4.2" />
<line x1="224.28" y1="445.7" x2="224.28" y2="441.2" stroke="#000" stroke-width="4.2" />
<line x1="243.26" y1="445.7" x2="243.26" y2="441.2" stroke="#000" stroke-width="4.2" />
<line x1="262.24" y1="445.7" x2="262.24" y2="441.2" stroke="#000" stroke-width="4.2" />
<line x1="281.22" y1="445.7" x2="281.22" y2="441.2" stroke="#000" stroke-width="4.2" />
<line x1="300.2" y1="445.7" x2="300.2" y2="437.7" stroke="#000" stroke-width="4.2" />
<line x1="319.18" y1="445.7" x2="319.18" y2="441.2" stroke="#000" stroke-width="4.2" />
<line x1="338.16" y1="445.7" x2="338.16" y2="441.2" stroke="#000" stroke-width="4.2" />
<line x1="357.14" y1="445.7" x2="357.14" y2="441.2" stroke="#000" stroke-width="4.2" />
<line x1="376.12" y1="445.7" x2="376.12" y2="441.2" stroke="#000" stroke-width="4.2" />
<line x1="395.1" y1="445.7" x2="395.1" y2="437.7" stroke="#000" stroke-width="4.2" />
<line x1="414.08" y1="445.7" x2="414.08" y2="441.2" stroke="#000" stroke-width="4.2" />
<line x1="433.06" y1="445.7" x2="433.06" y2="441.2" stroke="#000" stroke-width="4.2" />
<line x1="452.04" y1="445.7" x2="452.04" y2="441.2" stroke="#000" stroke-width="4.2" />
<line x1="471.02" y1="445.7" x2="471.02" y2="441.2" stroke="#000" stroke-width="4.2" />
<line x1="490" y1="445.7" x2="490" y2="437.7" stroke="#000" stroke-width="4.2" />
<line x1="508.98" y1="445.7" x2="508.98" y2="441.2" stroke="#000" stroke-width="4.2" />
<line x1="527.96" y1="445.7" x2="527.96" y2="441.2" stroke="#000" stroke-width="4.2" />
<line x1="546.94" y1="445.7" x2="546.94" y2="441.2" stroke="#000" stroke-width="4.2" />
<line x1="565.92" y1="445.7" x2="565.92" y2="441.2" stroke="#000" stroke-width="4.2" />
<line x1="584.9" y1="445.7" x2="584.9" y2="437.7" stroke="#000" stroke-width="4.2" />
<line x1="603.88" y1="445.7" x2="603.88" y2="441.2" stroke="#000" stroke-width="4.2" />
<line x1="622.86" y1="445.7" x2="622.86" y2="441.2" stroke="#000" stroke-width="4.2" />
<line x1="641.84" y1="445.7" x2="641.84" y2="441.2" stroke="#000" stroke-width="4.2" />
<line x1="660.82" y1="445.7" x2="660.82" y2="441.2" stroke="#000" stroke-width="4.2" />
<line x1="110.4" y1="423.6" x2="118.4" y2="423.6" stroke="#000" stroke-width="4.2" />
<line x1="110.4" y1="401.23" x2="114.9" y2="401.23" stroke="#000" stroke-width="4.2" />
<line x1="110.4" y1="378.85" x2="118.4" y2="378.85" stroke="#000" stroke-width="4.2" />
<line x1="110.4" y1="356.48" x2="114.9" y2="356.48" stroke="#000" stroke-width="4.2" />
<line x1="110.4" y1="334.1" x2="118.4" y2="334.1" stroke="#000" stroke-width="4.2" />
<line x1="110.4" y1="311.73" x2="114.9" y2="311.73" stroke="#000" stroke-width="4.2" />
<line x1="110.4" y1="289.35" x2="118.4" y2="289.35" stroke="#000" stroke-width="4.2" />
<line x1="110.4" y1="266.98" x2="114.9" y2="266.98" stroke="#000" stroke-width="4.2" />
<line x1="110.4" y1="244.6" x2="118.4" y2="244.6" stroke="#000" stroke-width="4.2" />
<line x1="110.4" y1="222.23" x2="114.9" y2="222.23" stroke="#000" stroke-width="4.2" />
<line x1="110.4" y1="199.85" x2="118.4" y2="199.85" stroke="#000" stroke-width="4.2" />
<line x1="110.4" y1="177.48" x2="114.9" y2="177.48" stroke="#000" stroke-width="4.2" />
<line x1="110.4" y1="155.1" x2="118.4" y2="155.1" stroke="#000" stroke-width="4.2" />
<line x1="110.4" y1="132.73" x2="114.9" y2="132.73" stroke="#000" stroke-width="4.2" />
<line x1="110.4" y1="110.35" x2="118.4" y2="110.35" stroke="#000" stroke-width="4.2" />
<line x1="110.4" y1="87.98" x2="114.9" y2="87.98" stroke="#000" stroke-width="4.2" />
<line x1="110.4" y1="65.6" x2="118.4" y2="65.6" stroke="#000" stroke-width="4.2" />
<line x1="110.4" y1="43.23" x2="114.9" y2="43.23" stroke="#000" stroke-width="4.2" />
<text x="96.3" y="33" font-size="29" text-anchor="end" fill="#000" font-weight="normal" >200</text>
<text x="96.3" y="77.31" font-size="29" text-anchor="end" fill="#000" font-weight="normal" >190</text>
<text x="96.3" y="121.62" font-size="29" text-anchor="end" fill="#000" font-weight="normal" >180</text>
<text x="96.3" y="165.93" font-size="29" text-anchor="end" fill="#000" font-weight="normal" >170</text>
<text x="96.3" y="210.24" font-size="29" text-anchor="end" fill="#000" font-weight="normal" >160</text>
<text x="96.3" y="254.55" font-size="29" text-anchor="end" fill="#000" font-weight="normal" >150</text>
<text x="96.3" y="298.86" font-size="29" text-anchor="end" fill="#000" font-weight="normal" >140</text>
<text x="96.3" y="343.17" font-size="29" text-anchor="end" fill="#000" font-weight="normal" >130</text>
<text x="96.3" y="387.48" font-size="29" text-anchor="end" fill="#000" font-weight="normal" >120</text>
<text x="96.3" y="431.79" font-size="29" text-anchor="end" fill="#000" font-weight="normal" >110</text>
<text x="110.6" y="480.6" font-size="29" text-anchor="middle" fill="#000" font-weight="normal" >35</text>
<text x="205.7" y="480.6" font-size="29" text-anchor="middle" fill="#000" font-weight="normal" >40</text>
<text x="300.8" y="480.6" font-size="29" text-anchor="middle" fill="#000" font-weight="normal" >45</text>
<text x="395.9" y="480.6" font-size="29" text-anchor="middle" fill="#000" font-weight="normal" >50</text>
<text x="491" y="480.6" font-size="29" text-anchor="middle" fill="#000" font-weight="normal" >55</text>
<text x="586.1" y="480.6" font-size="29" text-anchor="middle" fill="#000" font-weight="normal" >60</text>
<text x="681.2" y="480.6" font-size="29" text-anchor="middle" fill="#000" font-weight="normal" >65</text>
<text x="395" y="522.6" font-size="29" text-anchor="middle" fill="#000" font-weight="normal" >Porosity (%)</text>
<text transform="translate(22.2,424.6) rotate(-90)" x="0" y="0" font-size="29" text-anchor="start" fill="#000">Filtration throughput (mL/min)</text>
<text x="1.2" y="22.6" font-size="40" text-anchor="start" fill="#000" font-weight="bold" >a</text>
<line x1="208.7" y1="364.4" x2="208.7" y2="407.4" stroke="#000" stroke-width="3" /><line x1="204.35" y1="364.4" x2="213.05" y2="364.4" stroke="#000" stroke-width="3" stroke-linecap="round"/><line x1="204.35" y1="407.4" x2="213.05" y2="407.4" stroke="#000" stroke-width="3" stroke-linecap="round"/>
<rect x="202.7" y="379.5" width="12" height="12" fill="#000"/>
<line x1="334" y1="316" x2="334" y2="328.8" stroke="#000" stroke-width="3" /><line x1="329.65" y1="316" x2="338.35" y2="316" stroke="#000" stroke-width="3" stroke-linecap="round"/><line x1="329.65" y1="328.8" x2="338.35" y2="328.8" stroke="#000" stroke-width="3" stroke-linecap="round"/>
<rect x="328" y="316.3" width="12" height="12" fill="#000"/>
<line x1="435.6" y1="217.1" x2="435.6" y2="265.6" stroke="#000" stroke-width="3" /><line x1="431.25" y1="217.1" x2="439.95" y2="217.1" stroke="#000" stroke-width="3" stroke-linecap="round"/><line x1="431.25" y1="265.6" x2="439.95" y2="265.6" stroke="#000" stroke-width="3" stroke-linecap="round"/>
<rect x="429.6" y="235" width="12" height="12" fill="#000"/>
<line x1="555.3" y1="65.6" x2="555.3" y2="156.3" stroke="#000" stroke-width="3" /><line x1="550.95" y1="65.6" x2="559.65" y2="65.6" stroke="#000" stroke-width="3" stroke-linecap="round"/><line x1="550.95" y1="156.3" x2="559.65" y2="156.3" stroke="#000" stroke-width="3" stroke-linecap="round"/>
<rect x="549.3" y="104.3" width="12" height="12" fill="#000"/>
<rect x="155.8" y="738.9" width="74.5" height="325.3" fill="#c4221f"/>
<rect x="335" y="848.7" width="71" height="215.5" fill="url(#hr)" stroke="#c4221f" stroke-width="2"/>
<rect x="512.8" y="838.5" width="71.2" height="225.7" fill="url(#hb)" stroke="#3d72b6" stroke-width="2"/>
<rect x="104.4" y="635" width="532.6" height="429.2" fill="none" stroke="#000" stroke-width="4.3"/>
<line x1="121.96" y1="1064.2" x2="121.96" y2="1059.9" stroke="#000" stroke-width="4.2" />
<line x1="121.96" y1="635" x2="121.96" y2="639.3" stroke="#000" stroke-width="4.2" />
<line x1="157.48" y1="1064.2" x2="157.48" y2="1059.9" stroke="#000" stroke-width="4.2" />
<line x1="157.48" y1="635" x2="157.48" y2="639.3" stroke="#000" stroke-width="4.2" />
<line x1="193" y1="1064.2" x2="193" y2="1056.2" stroke="#000" stroke-width="4.2" />
<line x1="193" y1="635" x2="193" y2="643" stroke="#000" stroke-width="4.2" />
<line x1="228.52" y1="1064.2" x2="228.52" y2="1059.9" stroke="#000" stroke-width="4.2" />
<line x1="228.52" y1="635" x2="228.52" y2="639.3" stroke="#000" stroke-width="4.2" />
<line x1="264.04" y1="1064.2" x2="264.04" y2="1059.9" stroke="#000" stroke-width="4.2" />
<line x1="264.04" y1="635" x2="264.04" y2="639.3" stroke="#000" stroke-width="4.2" />
<line x1="299.56" y1="1064.2" x2="299.56" y2="1059.9" stroke="#000" stroke-width="4.2" />
<line x1="299.56" y1="635" x2="299.56" y2="639.3" stroke="#000" stroke-width="4.2" />
<line x1="335.08" y1="1064.2" x2="335.08" y2="1059.9" stroke="#000" stroke-width="4.2" />
<line x1="335.08" y1="635" x2="335.08" y2="639.3" stroke="#000" stroke-width="4.2" />
<line x1="370.6" y1="1064.2" x2="370.6" y2="1056.2" stroke="#000" stroke-width="4.2" />
<line x1="370.6" y1="635" x2="370.6" y2="643" stroke="#000" stroke-width="4.2" />
<line x1="406.12" y1="1064.2" x2="406.12" y2="1059.9" stroke="#000" stroke-width="4.2" />
<line x1="406.12" y1="635" x2="406.12" y2="639.3" stroke="#000" stroke-width="4.2" />
<line x1="441.64" y1="1064.2" x2="441.64" y2="1059.9" stroke="#000" stroke-width="4.2" />
<line x1="441.64" y1="635" x2="441.64" y2="639.3" stroke="#000" stroke-width="4.2" />
<line x1="477.16" y1="1064.2" x2="477.16" y2="1059.9" stroke="#000" stroke-width="4.2" />
<line x1="477.16" y1="635" x2="477.16" y2="639.3" stroke="#000" stroke-width="4.2" />
<line x1="512.68" y1="1064.2" x2="512.68" y2="1059.9" stroke="#000" stroke-width="4.2" />
<line x1="512.68" y1="635" x2="512.68" y2="639.3" stroke="#000" stroke-width="4.2" />
<line x1="548.2" y1="1064.2" x2="548.2" y2="1056.2" stroke="#000" stroke-width="4.2" />
<line x1="548.2" y1="635" x2="548.2" y2="643" stroke="#000" stroke-width="4.2" />
<line x1="583.72" y1="1064.2" x2="583.72" y2="1059.9" stroke="#000" stroke-width="4.2" />
<line x1="583.72" y1="635" x2="583.72" y2="639.3" stroke="#000" stroke-width="4.2" />
<line x1="619.24" y1="1064.2" x2="619.24" y2="1059.9" stroke="#000" stroke-width="4.2" />
<line x1="619.24" y1="635" x2="619.24" y2="639.3" stroke="#000" stroke-width="4.2" />
<line x1="104.4" y1="1042.74" x2="108.7" y2="1042.74" stroke="#000" stroke-width="4.2" />
<line x1="637" y1="1042.74" x2="632.7" y2="1042.74" stroke="#000" stroke-width="4.2" />
<line x1="104.4" y1="1021.28" x2="108.7" y2="1021.28" stroke="#000" stroke-width="4.2" />
<line x1="637" y1="1021.28" x2="632.7" y2="1021.28" stroke="#000" stroke-width="4.2" />
<line x1="104.4" y1="999.82" x2="108.7" y2="999.82" stroke="#000" stroke-width="4.2" />
<line x1="637" y1="999.82" x2="632.7" y2="999.82" stroke="#000" stroke-width="4.2" />
<line x1="104.4" y1="978.36" x2="108.7" y2="978.36" stroke="#000" stroke-width="4.2" />
<line x1="637" y1="978.36" x2="632.7" y2="978.36" stroke="#000" stroke-width="4.2" />
<line x1="104.4" y1="956.9" x2="112.4" y2="956.9" stroke="#000" stroke-width="4.2" />
<line x1="637" y1="956.9" x2="629" y2="956.9" stroke="#000" stroke-width="4.2" />
<line x1="104.4" y1="935.44" x2="108.7" y2="935.44" stroke="#000" stroke-width="4.2" />
<line x1="637" y1="935.44" x2="632.7" y2="935.44" stroke="#000" stroke-width="4.2" />
<line x1="104.4" y1="913.98" x2="108.7" y2="913.98" stroke="#000" stroke-width="4.2" />
<line x1="637" y1="913.98" x2="632.7" y2="913.98" stroke="#000" stroke-width="4.2" />
<line x1="104.4" y1="892.52" x2="108.7" y2="892.52" stroke="#000" stroke-width="4.2" />
<line x1="637" y1="892.52" x2="632.7" y2="892.52" stroke="#000" stroke-width="4.2" />
<line x1="104.4" y1="871.06" x2="108.7" y2="871.06" stroke="#000" stroke-width="4.2" />
<line x1="637" y1="871.06" x2="632.7" y2="871.06" stroke="#000" stroke-width="4.2" />
<line x1="104.4" y1="849.6" x2="112.4" y2="849.6" stroke="#000" stroke-width="4.2" />
<line x1="637" y1="849.6" x2="629" y2="849.6" stroke="#000" stroke-width="4.2" />
<line x1="104.4" y1="828.14" x2="108.7" y2="828.14" stroke="#000" stroke-width="4.2" />
<line x1="637" y1="828.14" x2="632.7" y2="828.14" stroke="#000" stroke-width="4.2" />
<line x1="104.4" y1="806.68" x2="108.7" y2="806.68" stroke="#000" stroke-width="4.2" />
<line x1="637" y1="806.68" x2="632.7" y2="806.68" stroke="#000" stroke-width="4.2" />
<line x1="104.4" y1="785.22" x2="108.7" y2="785.22" stroke="#000" stroke-width="4.2" />
<line x1="637" y1="785.22" x2="632.7" y2="785.22" stroke="#000" stroke-width="4.2" />
<line x1="104.4" y1="763.76" x2="108.7" y2="763.76" stroke="#000" stroke-width="4.2" />
<line x1="637" y1="763.76" x2="632.7" y2="763.76" stroke="#000" stroke-width="4.2" />
<line x1="104.4" y1="742.3" x2="112.4" y2="742.3" stroke="#000" stroke-width="4.2" />
<line x1="637" y1="742.3" x2="629" y2="742.3" stroke="#000" stroke-width="4.2" />
<line x1="104.4" y1="720.84" x2="108.7" y2="720.84" stroke="#000" stroke-width="4.2" />
<line x1="637" y1="720.84" x2="632.7" y2="720.84" stroke="#000" stroke-width="4.2" />
<line x1="104.4" y1="699.38" x2="108.7" y2="699.38" stroke="#000" stroke-width="4.2" />
<line x1="637" y1="699.38" x2="632.7" y2="699.38" stroke="#000" stroke-width="4.2" />
<line x1="104.4" y1="677.92" x2="108.7" y2="677.92" stroke="#000" stroke-width="4.2" />
<line x1="637" y1="677.92" x2="632.7" y2="677.92" stroke="#000" stroke-width="4.2" />
<line x1="104.4" y1="656.46" x2="108.7" y2="656.46" stroke="#000" stroke-width="4.2" />
<line x1="637" y1="656.46" x2="632.7" y2="656.46" stroke="#000" stroke-width="4.2" />
<line x1="193.2" y1="702" x2="193.2" y2="780" stroke="#000" stroke-width="4" /><line x1="188.7" y1="702" x2="197.7" y2="702" stroke="#000" stroke-width="3.6" stroke-linecap="round"/><line x1="188.7" y1="780" x2="197.7" y2="780" stroke="#000" stroke-width="3.6" stroke-linecap="round"/>
<line x1="370.8" y1="821.4" x2="370.8" y2="875.6" stroke="#000" stroke-width="4" /><line x1="366.3" y1="821.4" x2="375.3" y2="821.4" stroke="#000" stroke-width="3.6" stroke-linecap="round"/><line x1="366.3" y1="875.6" x2="375.3" y2="875.6" stroke="#000" stroke-width="3.6" stroke-linecap="round"/>
<line x1="548" y1="831" x2="548" y2="846.6" stroke="#000" stroke-width="4" /><line x1="543.5" y1="831" x2="552.5" y2="831" stroke="#000" stroke-width="3.6" stroke-linecap="round"/><line x1="543.5" y1="846.6" x2="552.5" y2="846.6" stroke="#000" stroke-width="3.6" stroke-linecap="round"/>
<rect x="293.2" y="649.5" width="33" height="22.2" fill="#cc3131"/>
<rect x="293.2" y="675.5" width="33" height="22.5" fill="url(#lr)"/>
<rect x="293.2" y="702.3" width="33" height="22.8" fill="url(#lb)"/>
<text x="339" y="670" font-size="25.1" text-anchor="start" fill="#000" font-weight="normal" >Film w/o annealing</text>
<text x="339" y="696.2" font-size="25.1" text-anchor="start" fill="#000" font-weight="normal" >Membrane w/o annealing</text>
<text x="339" y="722.3" font-size="25.1" text-anchor="start" fill="#000" font-weight="normal" >Membrane w/ annealing</text>
<text x="90.4" y="645.2" font-size="29" text-anchor="end" fill="#000" font-weight="normal" >4.0</text>
<text x="90.4" y="752.03" font-size="29" text-anchor="end" fill="#000" font-weight="normal" >3.0</text>
<text x="90.4" y="858.86" font-size="29" text-anchor="end" fill="#000" font-weight="normal" >2.0</text>
<text x="90.4" y="965.69" font-size="29" text-anchor="end" fill="#000" font-weight="normal" >1.0</text>
<text x="90.4" y="1072.52" font-size="29" text-anchor="end" fill="#000" font-weight="normal" >0.0</text>
<text transform="translate(25,1071.2) rotate(-90)" x="0" y="0" font-size="28.5" text-anchor="start" fill="#000">Equivalent Young’s modulus (GPa)</text>
<text x="3.5" y="604.8" font-size="40" text-anchor="start" fill="#000" font-weight="bold" >b</text>
<rect x="851.6" y="633.6" width="575.3" height="428.5" fill="none" stroke="#000" stroke-width="4.5"/>
<line x1="870.82" y1="1062.1" x2="870.82" y2="1057.6" stroke="#000" stroke-width="4.2" />
<line x1="890.04" y1="1062.1" x2="890.04" y2="1057.6" stroke="#000" stroke-width="4.2" />
<line x1="909.26" y1="1062.1" x2="909.26" y2="1057.6" stroke="#000" stroke-width="4.2" />
<line x1="928.48" y1="1062.1" x2="928.48" y2="1057.6" stroke="#000" stroke-width="4.2" />
<line x1="947.7" y1="1062.1" x2="947.7" y2="1054.1" stroke="#000" stroke-width="4.2" />
<line x1="966.92" y1="1062.1" x2="966.92" y2="1057.6" stroke="#000" stroke-width="4.2" />
<line x1="986.14" y1="1062.1" x2="986.14" y2="1057.6" stroke="#000" stroke-width="4.2" />
<line x1="1005.36" y1="1062.1" x2="1005.36" y2="1057.6" stroke="#000" stroke-width="4.2" />
<line x1="1024.58" y1="1062.1" x2="1024.58" y2="1057.6" stroke="#000" stroke-width="4.2" />
<line x1="1043.8" y1="1062.1" x2="1043.8" y2="1054.1" stroke="#000" stroke-width="4.2" />
<line x1="1063.02" y1="1062.1" x2="1063.02" y2="1057.6" stroke="#000" stroke-width="4.2" />
<line x1="1082.24" y1="1062.1" x2="1082.24" y2="1057.6" stroke="#000" stroke-width="4.2" />
<line x1="1101.46" y1="1062.1" x2="1101.46" y2="1057.6" stroke="#000" stroke-width="4.2" />
<line x1="1120.68" y1="1062.1" x2="1120.68" y2="1057.6" stroke="#000" stroke-width="4.2" />
<line x1="1139.9" y1="1062.1" x2="1139.9" y2="1054.1" stroke="#000" stroke-width="4.2" />
<line x1="1159.12" y1="1062.1" x2="1159.12" y2="1057.6" stroke="#000" stroke-width="4.2" />
<line x1="1178.34" y1="1062.1" x2="1178.34" y2="1057.6" stroke="#000" stroke-width="4.2" />
<line x1="1197.56" y1="1062.1" x2="1197.56" y2="1057.6" stroke="#000" stroke-width="4.2" />
<line x1="1216.78" y1="1062.1" x2="1216.78" y2="1057.6" stroke="#000" stroke-width="4.2" />
<line x1="1236" y1="1062.1" x2="1236" y2="1054.1" stroke="#000" stroke-width="4.2" />
<line x1="1255.22" y1="1062.1" x2="1255.22" y2="1057.6" stroke="#000" stroke-width="4.2" />
<line x1="1274.44" y1="1062.1" x2="1274.44" y2="1057.6" stroke="#000" stroke-width="4.2" />
<line x1="1293.66" y1="1062.1" x2="1293.66" y2="1057.6" stroke="#000" stroke-width="4.2" />
<line x1="1312.88" y1="1062.1" x2="1312.88" y2="1057.6" stroke="#000" stroke-width="4.2" />
<line x1="1332.1" y1="1062.1" x2="1332.1" y2="1054.1" stroke="#000" stroke-width="4.2" />
<line x1="1351.32" y1="1062.1" x2="1351.32" y2="1057.6" stroke="#000" stroke-width="4.2" />
<line x1="1370.54" y1="1062.1" x2="1370.54" y2="1057.6" stroke="#000" stroke-width="4.2" />
<line x1="1389.76" y1="1062.1" x2="1389.76" y2="1057.6" stroke="#000" stroke-width="4.2" />
<line x1="1408.98" y1="1062.1" x2="1408.98" y2="1057.6" stroke="#000" stroke-width="4.2" />
<line x1="851.6" y1="1033.69" x2="859.6" y2="1033.69" stroke="#000" stroke-width="4.2" />
<line x1="851.6" y1="1005.11" x2="856.1" y2="1005.11" stroke="#000" stroke-width="4.2" />
<line x1="851.6" y1="976.52" x2="859.6" y2="976.52" stroke="#000" stroke-width="4.2" />
<line x1="851.6" y1="947.93" x2="856.1" y2="947.93" stroke="#000" stroke-width="4.2" />
<line x1="851.6" y1="919.35" x2="859.6" y2="919.35" stroke="#000" stroke-width="4.2" />
<line x1="851.6" y1="890.76" x2="856.1" y2="890.76" stroke="#000" stroke-width="4.2" />
<line x1="851.6" y1="862.18" x2="859.6" y2="862.18" stroke="#000" stroke-width="4.2" />
<line x1="851.6" y1="833.6" x2="856.1" y2="833.6" stroke="#000" stroke-width="4.2" />
<line x1="851.6" y1="805.01" x2="859.6" y2="805.01" stroke="#000" stroke-width="4.2" />
<line x1="851.6" y1="776.42" x2="856.1" y2="776.42" stroke="#000" stroke-width="4.2" />
<line x1="851.6" y1="747.84" x2="859.6" y2="747.84" stroke="#000" stroke-width="4.2" />
<line x1="851.6" y1="719.25" x2="856.1" y2="719.25" stroke="#000" stroke-width="4.2" />
<line x1="851.6" y1="690.67" x2="859.6" y2="690.67" stroke="#000" stroke-width="4.2" />
<line x1="851.6" y1="662.09" x2="856.1" y2="662.09" stroke="#000" stroke-width="4.2" />
<line x1="1426.9" y1="1036.75" x2="1422.4" y2="1036.75" stroke="#000" stroke-width="4.2" />
<line x1="1426.9" y1="1009.9" x2="1418.9" y2="1009.9" stroke="#000" stroke-width="4.2" />
<line x1="1426.9" y1="983.05" x2="1422.4" y2="983.05" stroke="#000" stroke-width="4.2" />
<line x1="1426.9" y1="956.2" x2="1418.9" y2="956.2" stroke="#000" stroke-width="4.2" />
<line x1="1426.9" y1="929.35" x2="1422.4" y2="929.35" stroke="#000" stroke-width="4.2" />
<line x1="1426.9" y1="902.5" x2="1418.9" y2="902.5" stroke="#000" stroke-width="4.2" />
<line x1="1426.9" y1="875.65" x2="1422.4" y2="875.65" stroke="#000" stroke-width="4.2" />
<line x1="1426.9" y1="848.8" x2="1418.9" y2="848.8" stroke="#000" stroke-width="4.2" />
<line x1="1426.9" y1="821.95" x2="1422.4" y2="821.95" stroke="#000" stroke-width="4.2" />
<line x1="1426.9" y1="795.1" x2="1418.9" y2="795.1" stroke="#000" stroke-width="4.2" />
<line x1="1426.9" y1="768.25" x2="1422.4" y2="768.25" stroke="#000" stroke-width="4.2" />
<line x1="1426.9" y1="741.4" x2="1418.9" y2="741.4" stroke="#000" stroke-width="4.2" />
<line x1="1426.9" y1="714.55" x2="1422.4" y2="714.55" stroke="#000" stroke-width="4.2" />
<line x1="1426.9" y1="687.7" x2="1418.9" y2="687.7" stroke="#000" stroke-width="4.2" />
<line x1="1426.9" y1="660.85" x2="1422.4" y2="660.85" stroke="#000" stroke-width="4.2" />
<text x="838.6" y="645.6" font-size="29" text-anchor="end" fill="#c0212b" font-weight="normal" >800</text>
<text x="838.6" y="702.31" font-size="29" text-anchor="end" fill="#c0212b" font-weight="normal" >700</text>
<text x="838.6" y="759.02" font-size="29" text-anchor="end" fill="#c0212b" font-weight="normal" >600</text>
<text x="838.6" y="815.73" font-size="29" text-anchor="end" fill="#c0212b" font-weight="normal" >500</text>
<text x="838.6" y="872.44" font-size="29" text-anchor="end" fill="#c0212b" font-weight="normal" >400</text>
<text x="838.6" y="929.15" font-size="29" text-anchor="end" fill="#c0212b" font-weight="normal" >300</text>
<text x="838.6" y="985.86" font-size="29" text-anchor="end" fill="#c0212b" font-weight="normal" >200</text>
<text x="838.6" y="1042.57" font-size="29" text-anchor="end" fill="#c0212b" font-weight="normal" >100</text>
<text x="1440.2" y="645.3" font-size="29" text-anchor="start" fill="#2f4a9c" font-weight="normal" >40</text>
<text x="1440.2" y="698.3" font-size="29" text-anchor="start" fill="#2f4a9c" font-weight="normal" >35</text>
<text x="1440.2" y="751.3" font-size="29" text-anchor="start" fill="#2f4a9c" font-weight="normal" >30</text>
<text x="1440.2" y="804.3" font-size="29" text-anchor="start" fill="#2f4a9c" font-weight="normal" >25</text>
<text x="1440.2" y="857.3" font-size="29" text-anchor="start" fill="#2f4a9c" font-weight="normal" >20</text>
<text x="1440.2" y="910.3" font-size="29" text-anchor="start" fill="#2f4a9c" font-weight="normal" >15</text>
<text x="1440.2" y="963.3" font-size="29" text-anchor="start" fill="#2f4a9c" font-weight="normal" >10</text>
<text x="1440.2" y="1016.3" font-size="29" text-anchor="start" fill="#2f4a9c" font-weight="normal" >5</text>
<text x="1440.2" y="1069.3" font-size="29" text-anchor="start" fill="#2f4a9c" font-weight="normal" >0</text>
<text x="853.6" y="1098.2" font-size="29" text-anchor="middle" fill="#000" font-weight="normal" >35</text>
<text x="948.65" y="1098.2" font-size="29" text-anchor="middle" fill="#000" font-weight="normal" >40</text>
<text x="1043.7" y="1098.2" font-size="29" text-anchor="middle" fill="#000" font-weight="normal" >45</text>
<text x="1138.75" y="1098.2" font-size="29" text-anchor="middle" fill="#000" font-weight="normal" >50</text>
<text x="1233.8" y="1098.2" font-size="29" text-anchor="middle" fill="#000" font-weight="normal" >55</text>
<text x="1328.85" y="1098.2" font-size="29" text-anchor="middle" fill="#000" font-weight="normal" >60</text>
<text x="1423.9" y="1098.2" font-size="29" text-anchor="middle" fill="#000" font-weight="normal" >65</text>
<text x="1140.3" y="1139" font-size="29" text-anchor="middle" fill="#000" font-weight="normal" >Porosity (%)</text>
<text transform="translate(764.6,1078.3) rotate(-90)" x="0" y="0" font-size="29.1" text-anchor="start" fill="#c0212b">Pressure applied to membrane (Pa)</text>
<text transform="translate(1514.2,1047.9) rotate(-90)" x="0" y="0" font-size="29.2" text-anchor="start" fill="#2f4a9c">Variation of pore diameter (nm)</text>
<text x="743.5" y="604.8" font-size="40" text-anchor="start" fill="#000" font-weight="bold" >d</text>
<rect x="946.6" y="703.1" width="9.4" height="9.4" fill="#c92220"/>
<circle cx="951.3" cy="765.2" r="5.2" fill="#2e4aa3"/>
<rect x="1073.1" y="902.8" width="9.4" height="9.4" fill="#c92220"/>
<circle cx="1077.8" cy="885.4" r="5.2" fill="#2e4aa3"/>
<rect x="1175.9" y="963.9" width="9.4" height="9.4" fill="#c92220"/>
<circle cx="1180.6" cy="842.1" r="5.2" fill="#2e4aa3"/>
<rect x="1297" y="988.1" width="9.4" height="9.4" fill="#c92220"/>
<circle cx="1301.7" cy="861.6" r="5.2" fill="#2e4aa3"/>
<text x="743" y="22.6" font-size="40" text-anchor="start" fill="#000" font-weight="bold" >c</text>
<line x1="828.7" y1="170.6" x2="1121" y2="57.4" stroke="#c9c9c9" stroke-width="1.2" />
<line x1="1140.8" y1="59.5" x2="1323.5" y2="183.9" stroke="#c9c9c9" stroke-width="1.2" />
<line x1="1140.3" y1="110.6" x2="1324.8" y2="236.4" stroke="#c9c9c9" stroke-width="1.2" />
<line x1="1144" y1="163.2" x2="1324.8" y2="286.5" stroke="#c9c9c9" stroke-width="1.2" />
<line x1="1147.8" y1="64.5" x2="1147.8" y2="165.6" stroke="#c9c9c9" stroke-width="1.2" />
<line x1="1219" y1="113" x2="1219" y2="213.2" stroke="#c9c9c9" stroke-width="1.2" />
<line x1="1290.6" y1="162" x2="1290.6" y2="262.1" stroke="#c9c9c9" stroke-width="1.2" />
<line x1="856.6" y1="160" x2="856.6" y2="203" stroke="#c9c9c9" stroke-width="1.2" />
<line x1="951.8" y1="123" x2="951.8" y2="132" stroke="#c9c9c9" stroke-width="1.2" />
<line x1="1046.9" y1="86.3" x2="1046.9" y2="121" stroke="#c9c9c9" stroke-width="1.2" />
<line x1="868.9" y1="361.6" x2="1207.5" y2="230.3" stroke="#c9c9c9" stroke-width="1.2" />
<line x1="940" y1="409.9" x2="1277.9" y2="279.5" stroke="#c9c9c9" stroke-width="1.2" />
<line x1="880" y1="289.8" x2="1049" y2="404.2" stroke="#c9c9c9" stroke-width="1.2" />
<line x1="1173.7" y1="287.4" x2="1238.4" y2="331.6" stroke="#c9c9c9" stroke-width="1.2" />
<line x1="1135.8" y1="361.6" x2="1143.7" y2="367" stroke="#c9c9c9" stroke-width="1.2" />
<polygon points="828.7,196.3 866.7,204.6 915.1,184.5 915.7,146.2 1005.1,111.8 1069.6,125.5 1119.5,106.9 1119.2,67.6 1129.2,64 1141,110.7 1141,183 1158.7,187.3 1171.5,244.2 1172.1,345.8 1115.3,366.3 1011.5,344.1 1004.9,309.3 937.2,294.2 881,315.6 828.9,304.5" fill="#6a58aa" />
<g filter="url(#soft)">
<g clip-path="url(#cp0)">
<polygon points="828.4,199.4 867.1,208.5 867.1,216.65 828.4,207.55" fill="url(#g0)" />
<polygon points="828.4,206.35 867.1,215.45 867.1,221.19 828.4,212.09" fill="url(#g1)" />
<polygon points="828.4,210.89 867.1,219.99 867.1,225.74 828.4,216.64" fill="url(#g2)" />
<polygon points="828.4,215.44 867.1,224.54 867.1,230.28 828.4,221.18" fill="url(#g3)" />
<polygon points="828.4,219.98 867.1,229.08 867.1,234.83 828.4,225.73" fill="url(#g4)" />
<polygon points="828.4,224.53 867.1,233.63 867.1,239.37 828.4,230.27" fill="url(#g5)" />
<polygon points="828.4,229.07 867.1,238.17 867.1,243.92 828.4,234.82" fill="url(#g6)" />
<polygon points="828.4,233.62 867.1,242.72 867.1,248.46 828.4,239.36" fill="url(#g7)" />
<polygon points="828.4,238.16 867.1,247.26 867.1,253.01 828.4,243.91" fill="url(#g8)" />
<polygon points="828.4,242.71 867.1,251.81 867.1,257.55 828.4,248.45" fill="url(#g9)" />
<polygon points="828.4,247.25 867.1,256.35 867.1,262.1 828.4,253" fill="url(#g10)" />
<polygon points="828.4,251.8 867.1,260.9 867.1,266.65 828.4,257.55" fill="url(#g11)" />
<polygon points="828.4,256.35 867.1,265.45 867.1,271.19 828.4,262.09" fill="url(#g12)" />
<polygon points="828.4,260.89 867.1,269.99 867.1,275.74 828.4,266.64" fill="url(#g13)" />
<polygon points="828.4,265.44 867.1,274.54 867.1,280.28 828.4,271.18" fill="url(#g14)" />
<polygon points="828.4,269.98 867.1,279.08 867.1,284.83 828.4,275.73" fill="url(#g15)" />
<polygon points="828.4,274.53 867.1,283.63 867.1,289.37 828.4,280.27" fill="url(#g16)" />
<polygon points="828.4,279.07 867.1,288.17 867.1,293.92 828.4,284.82" fill="url(#g17)" />
<polygon points="828.4,283.62 867.1,292.72 867.1,298.46 828.4,289.36" fill="url(#g18)" />
<polygon points="828.4,288.16 867.1,297.26 867.1,303.01 828.4,293.91" fill="url(#g19)" />
<polygon points="828.4,292.71 867.1,301.81 867.1,307.55 828.4,298.45" fill="url(#g20)" />
<polygon points="828.4,297.25 867.1,306.35 867.1,314.5 828.4,305.4" fill="url(#g21)" />
</g>
<polygon points="866.6,212 881,213.3 881,301.1 866.6,306.3" fill="url(#g22)" />
<g clip-path="url(#cp1)">
<polygon points="880.5,209.4 937.7,189.2 937.7,197.35 880.5,217.55" fill="url(#g23)" />
<polygon points="880.5,216.35 937.7,196.15 937.7,201.89 880.5,222.09" fill="url(#g24)" />
<polygon points="880.5,220.89 937.7,200.69 937.7,206.44 880.5,226.64" fill="url(#g25)" />
<polygon points="880.5,225.44 937.7,205.24 937.7,210.98 880.5,231.18" fill="url(#g26)" />
<polygon points="880.5,229.98 937.7,209.78 937.7,215.53 880.5,235.73" fill="url(#g27)" />
<polygon points="880.5,234.53 937.7,214.33 937.7,220.07 880.5,240.27" fill="url(#g28)" />
<polygon points="880.5,239.07 937.7,218.87 937.7,224.62 880.5,244.82" fill="url(#g29)" />
<polygon points="880.5,243.62 937.7,223.42 937.7,229.16 880.5,249.36" fill="url(#g30)" />
<polygon points="880.5,248.16 937.7,227.96 937.7,233.71 880.5,253.91" fill="url(#g31)" />
<polygon points="880.5,252.71 937.7,232.51 937.7,238.25 880.5,258.45" fill="url(#g32)" />
<polygon points="880.5,257.25 937.7,237.05 937.7,242.8 880.5,263" fill="url(#g33)" />
<polygon points="880.5,261.8 937.7,241.6 937.7,247.35 880.5,267.55" fill="url(#g34)" />
<polygon points="880.5,266.35 937.7,246.15 937.7,251.89 880.5,272.09" fill="url(#g35)" />
<polygon points="880.5,270.89 937.7,250.69 937.7,256.44 880.5,276.64" fill="url(#g36)" />
<polygon points="880.5,275.44 937.7,255.24 937.7,260.98 880.5,281.18" fill="url(#g37)" />
<polygon points="880.5,279.98 937.7,259.78 937.7,265.53 880.5,285.73" fill="url(#g38)" />
<polygon points="880.5,284.53 937.7,264.33 937.7,270.07 880.5,290.27" fill="url(#g39)" />
<polygon points="880.5,289.07 937.7,268.87 937.7,274.62 880.5,294.82" fill="url(#g40)" />
<polygon points="880.5,293.62 937.7,273.42 937.7,279.16 880.5,299.36" fill="url(#g41)" />
<polygon points="880.5,298.16 937.7,277.96 937.7,283.71 880.5,303.91" fill="url(#g42)" />
<polygon points="880.5,302.71 937.7,282.51 937.7,288.25 880.5,308.45" fill="url(#g43)" />
<polygon points="880.5,307.25 937.7,287.05 937.7,295.2 880.5,315.4" fill="url(#g44)" />
</g>
<g clip-path="url(#cp2)">
<polygon points="936.7,189.2 1004.9,203.3 1004.9,211.45 936.7,197.35" fill="url(#g45)" />
<polygon points="936.7,196.15 1004.9,210.25 1004.9,215.99 936.7,201.89" fill="url(#g46)" />
<polygon points="936.7,200.69 1004.9,214.79 1004.9,220.54 936.7,206.44" fill="url(#g47)" />
<polygon points="936.7,205.24 1004.9,219.34 1004.9,225.08 936.7,210.98" fill="url(#g48)" />
<polygon points="936.7,209.78 1004.9,223.88 1004.9,229.63 936.7,215.53" fill="url(#g49)" />
<polygon points="936.7,214.33 1004.9,228.43 1004.9,234.17 936.7,220.07" fill="url(#g50)" />
<polygon points="936.7,218.87 1004.9,232.97 1004.9,238.72 936.7,224.62" fill="url(#g51)" />
<polygon points="936.7,223.42 1004.9,237.52 1004.9,243.26 936.7,229.16" fill="url(#g52)" />
<polygon points="936.7,227.96 1004.9,242.06 1004.9,247.81 936.7,233.71" fill="url(#g53)" />
<polygon points="936.7,232.51 1004.9,246.61 1004.9,252.35 936.7,238.25" fill="url(#g54)" />
<polygon points="936.7,237.05 1004.9,251.15 1004.9,256.9 936.7,242.8" fill="url(#g55)" />
<polygon points="936.7,241.6 1004.9,255.7 1004.9,261.45 936.7,247.35" fill="url(#g56)" />
<polygon points="936.7,246.15 1004.9,260.25 1004.9,265.99 936.7,251.89" fill="url(#g57)" />
<polygon points="936.7,250.69 1004.9,264.79 1004.9,270.54 936.7,256.44" fill="url(#g58)" />
<polygon points="936.7,255.24 1004.9,269.34 1004.9,275.08 936.7,260.98" fill="url(#g59)" />
<polygon points="936.7,259.78 1004.9,273.88 1004.9,279.63 936.7,265.53" fill="url(#g60)" />
<polygon points="936.7,264.33 1004.9,278.43 1004.9,284.17 936.7,270.07" fill="url(#g61)" />
<polygon points="936.7,268.87 1004.9,282.97 1004.9,288.72 936.7,274.62" fill="url(#g62)" />
<polygon points="936.7,273.42 1004.9,287.52 1004.9,293.26 936.7,279.16" fill="url(#g63)" />
<polygon points="936.7,277.96 1004.9,292.06 1004.9,297.81 936.7,283.71" fill="url(#g64)" />
<polygon points="936.7,282.51 1004.9,296.61 1004.9,302.35 936.7,288.25" fill="url(#g65)" />
<polygon points="936.7,287.05 1004.9,301.15 1004.9,309.3 936.7,295.2" fill="url(#g66)" />
</g>
<polygon points="1004.4,207 1011.5,243 1012.3,345.8 1004.9,309.3" fill="url(#g67)" />
<polygon points="1012,243.3 1025.7,246.3 1025.7,292.1 1012,295.6" fill="url(#g68)" />
<polygon points="1025.7,246.3 1034.9,248 1034.9,345 1033,344.1 1025.6,292.7" fill="url(#g69)" />
<g clip-path="url(#cp3)">
<polygon points="1034.4,245 1100.5,259 1100.5,267.15 1034.4,253.15" fill="url(#g70)" />
<polygon points="1034.4,251.95 1100.5,265.95 1100.5,271.69 1034.4,257.69" fill="url(#g71)" />
<polygon points="1034.4,256.49 1100.5,270.49 1100.5,276.24 1034.4,262.24" fill="url(#g72)" />
<polygon points="1034.4,261.04 1100.5,275.04 1100.5,280.78 1034.4,266.78" fill="url(#g73)" />
<polygon points="1034.4,265.58 1100.5,279.58 1100.5,285.33 1034.4,271.33" fill="url(#g74)" />
<polygon points="1034.4,270.13 1100.5,284.13 1100.5,289.87 1034.4,275.87" fill="url(#g75)" />
<polygon points="1034.4,274.67 1100.5,288.67 1100.5,294.42 1034.4,280.42" fill="url(#g76)" />
<polygon points="1034.4,279.22 1100.5,293.22 1100.5,298.96 1034.4,284.96" fill="url(#g77)" />
<polygon points="1034.4,283.76 1100.5,297.76 1100.5,303.51 1034.4,289.51" fill="url(#g78)" />
<polygon points="1034.4,288.31 1100.5,302.31 1100.5,308.05 1034.4,294.05" fill="url(#g79)" />
<polygon points="1034.4,292.85 1100.5,306.85 1100.5,312.6 1034.4,298.6" fill="url(#g80)" />
<polygon points="1034.4,297.4 1100.5,311.4 1100.5,317.15 1034.4,303.15" fill="url(#g81)" />
<polygon points="1034.4,301.95 1100.5,315.95 1100.5,321.69 1034.4,307.69" fill="url(#g82)" />
<polygon points="1034.4,306.49 1100.5,320.49 1100.5,326.24 1034.4,312.24" fill="url(#g83)" />
<polygon points="1034.4,311.04 1100.5,325.04 1100.5,330.78 1034.4,316.78" fill="url(#g84)" />
<polygon points="1034.4,315.58 1100.5,329.58 1100.5,335.33 1034.4,321.33" fill="url(#g85)" />
<polygon points="1034.4,320.13 1100.5,334.13 1100.5,339.87 1034.4,325.87" fill="url(#g86)" />
<polygon points="1034.4,324.67 1100.5,338.67 1100.5,344.42 1034.4,330.42" fill="url(#g87)" />
<polygon points="1034.4,329.22 1100.5,343.22 1100.5,348.96 1034.4,334.96" fill="url(#g88)" />
<polygon points="1034.4,333.76 1100.5,347.76 1100.5,353.51 1034.4,339.51" fill="url(#g89)" />
<polygon points="1034.4,338.31 1100.5,352.31 1100.5,358.05 1034.4,344.05" fill="url(#g90)" />
<polygon points="1034.4,342.85 1100.5,356.85 1100.5,365 1034.4,351" fill="url(#g91)" />
</g>
<polygon points="1100,262 1114.7,265.3 1114.7,357 1100,354.8" fill="url(#g92)" />
<g clip-path="url(#cp4)">
<polygon points="1114.2,262.3 1172,243 1172,251.15 1114.2,270.45" fill="url(#g93)" />
<polygon points="1114.2,269.25 1172,249.95 1172,255.69 1114.2,274.99" fill="url(#g94)" />
<polygon points="1114.2,273.79 1172,254.49 1172,260.24 1114.2,279.54" fill="url(#g95)" />
<polygon points="1114.2,278.34 1172,259.04 1172,264.78 1114.2,284.08" fill="url(#g96)" />
<polygon points="1114.2,282.88 1172,263.58 1172,269.33 1114.2,288.63" fill="url(#g97)" />
<polygon points="1114.2,287.43 1172,268.13 1172,273.87 1114.2,293.17" fill="url(#g98)" />
<polygon points="1114.2,291.97 1172,272.67 1172,278.42 1114.2,297.72" fill="url(#g99)" />
<polygon points="1114.2,296.52 1172,277.22 1172,282.96 1114.2,302.26" fill="url(#g100)" />
<polygon points="1114.2,301.06 1172,281.76 1172,287.51 1114.2,306.81" fill="url(#g101)" />
<polygon points="1114.2,305.61 1172,286.31 1172,292.05 1114.2,311.35" fill="url(#g102)" />
<polygon points="1114.2,310.15 1172,290.85 1172,296.6 1114.2,315.9" fill="url(#g103)" />
<polygon points="1114.2,314.7 1172,295.4 1172,301.15 1114.2,320.45" fill="url(#g104)" />
<polygon points="1114.2,319.25 1172,299.95 1172,305.69 1114.2,324.99" fill="url(#g105)" />
<polygon points="1114.2,323.79 1172,304.49 1172,310.24 1114.2,329.54" fill="url(#g106)" />
<polygon points="1114.2,328.34 1172,309.04 1172,314.78 1114.2,334.08" fill="url(#g107)" />
<polygon points="1114.2,332.88 1172,313.58 1172,319.33 1114.2,338.63" fill="url(#g108)" />
<polygon points="1114.2,337.43 1172,318.13 1172,323.87 1114.2,343.17" fill="url(#g109)" />
<polygon points="1114.2,341.97 1172,322.67 1172,328.42 1114.2,347.72" fill="url(#g110)" />
<polygon points="1114.2,346.52 1172,327.22 1172,332.96 1114.2,352.26" fill="url(#g111)" />
<polygon points="1114.2,351.06 1172,331.76 1172,337.51 1114.2,356.81" fill="url(#g112)" />
<polygon points="1114.2,355.61 1172,336.31 1172,342.05 1114.2,361.35" fill="url(#g113)" />
<polygon points="1114.2,360.15 1172,340.85 1172,349 1114.2,368.3" fill="url(#g114)" />
</g>
<g clip-path="url(#cp5)">
<polygon points="1027.1,202.7 1083.1,180.7 1083.1,188.85 1027.1,210.85" fill="url(#g115)" />
<polygon points="1027.1,209.65 1083.1,187.65 1083.1,193.39 1027.1,215.39" fill="url(#g116)" />
<polygon points="1027.1,214.19 1083.1,192.19 1083.1,197.94 1027.1,219.94" fill="url(#g117)" />
<polygon points="1027.1,218.74 1083.1,196.74 1083.1,202.48 1027.1,224.48" fill="url(#g118)" />
<polygon points="1027.1,223.28 1083.1,201.28 1083.1,207.03 1027.1,229.03" fill="url(#g119)" />
<polygon points="1027.1,227.83 1083.1,205.83 1083.1,211.57 1027.1,233.57" fill="url(#g120)" />
<polygon points="1027.1,232.37 1083.1,210.37 1083.1,216.12 1027.1,238.12" fill="url(#g121)" />
<polygon points="1027.1,236.92 1083.1,214.92 1083.1,220.66 1027.1,242.66" fill="url(#g122)" />
<polygon points="1027.1,241.46 1083.1,219.46 1083.1,225.21 1027.1,247.21" fill="url(#g123)" />
<polygon points="1027.1,246.01 1083.1,224.01 1083.1,229.75 1027.1,251.75" fill="url(#g124)" />
<polygon points="1027.1,250.55 1083.1,228.55 1083.1,234.3 1027.1,256.3" fill="url(#g125)" />
<polygon points="1027.1,255.1 1083.1,233.1 1083.1,238.85 1027.1,260.85" fill="url(#g126)" />
<polygon points="1027.1,259.65 1083.1,237.65 1083.1,243.39 1027.1,265.39" fill="url(#g127)" />
<polygon points="1027.1,264.19 1083.1,242.19 1083.1,247.94 1027.1,269.94" fill="url(#g128)" />
<polygon points="1027.1,268.74 1083.1,246.74 1083.1,252.48 1027.1,274.48" fill="url(#g129)" />
<polygon points="1027.1,273.28 1083.1,251.28 1083.1,257.03 1027.1,279.03" fill="url(#g130)" />
</g>
<g clip-path="url(#cp6)">
<polygon points="1082.1,180.7 1150,194.5 1150,202.65 1082.1,188.85" fill="url(#g131)" />
<polygon points="1082.1,187.65 1150,201.45 1150,207.19 1082.1,193.39" fill="url(#g132)" />
<polygon points="1082.1,192.19 1150,205.99 1150,211.74 1082.1,197.94" fill="url(#g133)" />
<polygon points="1082.1,196.74 1150,210.54 1150,216.28 1082.1,202.48" fill="url(#g134)" />
<polygon points="1082.1,201.28 1150,215.08 1150,220.83 1082.1,207.03" fill="url(#g135)" />
<polygon points="1082.1,205.83 1150,219.63 1150,225.37 1082.1,211.57" fill="url(#g136)" />
<polygon points="1082.1,210.37 1150,224.17 1150,229.92 1082.1,216.12" fill="url(#g137)" />
<polygon points="1082.1,214.92 1150,228.72 1150,234.46 1082.1,220.66" fill="url(#g138)" />
<polygon points="1082.1,219.46 1150,233.26 1150,239.01 1082.1,225.21" fill="url(#g139)" />
<polygon points="1082.1,224.01 1150,237.81 1150,243.55 1082.1,229.75" fill="url(#g140)" />
<polygon points="1082.1,228.55 1150,242.35 1150,248.1 1082.1,234.3" fill="url(#g141)" />
<polygon points="1082.1,233.1 1150,246.9 1150,252.65 1082.1,238.85" fill="url(#g142)" />
<polygon points="1082.1,237.65 1150,251.45 1150,257.19 1082.1,243.39" fill="url(#g143)" />
<polygon points="1082.1,242.19 1150,255.99 1150,261.74 1082.1,247.94" fill="url(#g144)" />
<polygon points="1082.1,246.74 1150,260.54 1150,266.28 1082.1,252.48" fill="url(#g145)" />
<polygon points="1082.1,251.28 1150,265.08 1150,270.83 1082.1,257.03" fill="url(#g146)" />
</g>
<polygon points="1149.5,197.5 1157.7,233.2 1149.5,236.3" fill="url(#g147)" />
<g clip-path="url(#cp7)">
<polygon points="938.8,142 995.5,120.1 995.5,128.25 938.8,150.15" fill="url(#g148)" />
<polygon points="938.8,148.95 995.5,127.05 995.5,132.79 938.8,154.69" fill="url(#g149)" />
<polygon points="938.8,153.49 995.5,131.59 995.5,137.34 938.8,159.24" fill="url(#g150)" />
<polygon points="938.8,158.04 995.5,136.14 995.5,141.88 938.8,163.78" fill="url(#g151)" />
<polygon points="938.8,162.58 995.5,140.68 995.5,146.43 938.8,168.33" fill="url(#g152)" />
<polygon points="938.8,167.13 995.5,145.23 995.5,150.97 938.8,172.87" fill="url(#g153)" />
<polygon points="938.8,171.67 995.5,149.77 995.5,155.52 938.8,177.42" fill="url(#g154)" />
<polygon points="938.8,176.22 995.5,154.32 995.5,160.06 938.8,181.96" fill="url(#g155)" />
<polygon points="938.8,180.76 995.5,158.86 995.5,164.61 938.8,186.51" fill="url(#g156)" />
<polygon points="938.8,185.31 995.5,163.41 995.5,169.15 938.8,191.05" fill="url(#g157)" />
<polygon points="938.8,189.85 995.5,167.95 995.5,173.7 938.8,195.6" fill="url(#g158)" />
<polygon points="938.8,194.4 995.5,172.5 995.5,178.25 938.8,200.15" fill="url(#g159)" />
<polygon points="938.8,198.95 995.5,177.05 995.5,182.79 938.8,204.69" fill="url(#g160)" />
<polygon points="938.8,203.49 995.5,181.59 995.5,187.34 938.8,209.24" fill="url(#g161)" />
<polygon points="938.8,208.04 995.5,186.14 995.5,191.88 938.8,213.78" fill="url(#g162)" />
<polygon points="938.8,212.58 995.5,190.68 995.5,196.43 938.8,218.33" fill="url(#g163)" />
</g>
<g clip-path="url(#cp8)">
<polygon points="994.5,120.1 1060.6,132.5 1060.6,140.65 994.5,128.25" fill="url(#g164)" />
<polygon points="994.5,127.05 1060.6,139.45 1060.6,145.19 994.5,132.79" fill="url(#g165)" />
<polygon points="994.5,131.59 1060.6,143.99 1060.6,149.74 994.5,137.34" fill="url(#g166)" />
<polygon points="994.5,136.14 1060.6,148.54 1060.6,154.28 994.5,141.88" fill="url(#g167)" />
<polygon points="994.5,140.68 1060.6,153.08 1060.6,158.83 994.5,146.43" fill="url(#g168)" />
<polygon points="994.5,145.23 1060.6,157.63 1060.6,163.37 994.5,150.97" fill="url(#g169)" />
<polygon points="994.5,149.77 1060.6,162.17 1060.6,167.92 994.5,155.52" fill="url(#g170)" />
<polygon points="994.5,154.32 1060.6,166.72 1060.6,172.46 994.5,160.06" fill="url(#g171)" />
<polygon points="994.5,158.86 1060.6,171.26 1060.6,177.01 994.5,164.61" fill="url(#g172)" />
<polygon points="994.5,163.41 1060.6,175.81 1060.6,181.55 994.5,169.15" fill="url(#g173)" />
<polygon points="994.5,167.95 1060.6,180.35 1060.6,186.1 994.5,173.7" fill="url(#g174)" />
<polygon points="994.5,172.5 1060.6,184.9 1060.6,190.65 994.5,178.25" fill="url(#g175)" />
<polygon points="994.5,177.05 1060.6,189.45 1060.6,195.19 994.5,182.79" fill="url(#g176)" />
<polygon points="994.5,181.59 1060.6,193.99 1060.6,199.74 994.5,187.34" fill="url(#g177)" />
<polygon points="994.5,186.14 1060.6,198.54 1060.6,204.28 994.5,191.88" fill="url(#g178)" />
<polygon points="994.5,190.68 1060.6,203.08 1060.6,208.83 994.5,196.43" fill="url(#g179)" />
<polygon points="994.5,195.23 1060.6,207.63 1060.6,213.37 994.5,200.97" fill="url(#g180)" />
</g>
<polygon points="1060.1,135.5 1069,171.1 1060.1,174.9" fill="url(#g181)" />
<polygon points="915.7,147.5 918.5,150 922.6,175 921,183 915.7,185" fill="url(#g182)" />
<g clip-path="url(#cp9)">
<polygon points="1084.8,133 1141.5,111.5 1141.5,119.65 1084.8,141.15" fill="url(#g183)" />
<polygon points="1084.8,139.95 1141.5,118.45 1141.5,124.19 1084.8,145.69" fill="url(#g184)" />
<polygon points="1084.8,144.49 1141.5,122.99 1141.5,128.74 1084.8,150.24" fill="url(#g185)" />
<polygon points="1084.8,149.04 1141.5,127.54 1141.5,133.28 1084.8,154.78" fill="url(#g186)" />
<polygon points="1084.8,153.58 1141.5,132.08 1141.5,137.83 1084.8,159.33" fill="url(#g187)" />
<polygon points="1084.8,158.13 1141.5,136.63 1141.5,142.37 1084.8,163.87" fill="url(#g188)" />
<polygon points="1084.8,162.67 1141.5,141.17 1141.5,146.92 1084.8,168.42" fill="url(#g189)" />
<polygon points="1084.8,167.22 1141.5,145.72 1141.5,151.46 1084.8,172.96" fill="url(#g190)" />
<polygon points="1084.8,171.76 1141.5,150.26 1141.5,156.01 1084.8,177.51" fill="url(#g191)" />
<polygon points="1084.8,176.31 1141.5,154.81 1141.5,160.55 1084.8,182.05" fill="url(#g192)" />
<polygon points="1084.8,180.85 1141.5,159.35 1141.5,165.1 1084.8,186.6" fill="url(#g193)" />
<polygon points="1084.8,185.4 1141.5,163.9 1141.5,169.65 1084.8,191.15" fill="url(#g194)" />
<polygon points="1084.8,189.95 1141.5,168.45 1141.5,174.19 1084.8,195.69" fill="url(#g195)" />
<polygon points="1084.8,194.49 1141.5,172.99 1141.5,178.74 1084.8,200.24" fill="url(#g196)" />
<polygon points="1084.8,199.04 1141.5,177.54 1141.5,183.28 1084.8,204.78" fill="url(#g197)" />
</g>
<polygon points="1119.4,69 1122.5,73 1126.6,103.5 1119.4,106" fill="url(#g198)" />
</g>
<rect x="1405.3" y="37.7" width="8.5" height="406.7" fill="url(#cb)"/>
<text x="1424.2" y="87.2" font-size="28.6" text-anchor="start" fill="#000" font-weight="normal" >30</text>
<text x="1424.2" y="147.8" font-size="28.6" text-anchor="start" fill="#000" font-weight="normal" >25</text>
<text x="1424.2" y="208.4" font-size="28.6" text-anchor="start" fill="#000" font-weight="normal" >20</text>
<text x="1424.2" y="269" font-size="28.6" text-anchor="start" fill="#000" font-weight="normal" >15</text>
<text x="1424.2" y="329.6" font-size="28.6" text-anchor="start" fill="#000" font-weight="normal" >10</text>
<text x="1424.2" y="390.2" font-size="28.6" text-anchor="start" fill="#000" font-weight="normal" >5</text>
<text transform="translate(1497.6,458) rotate(-90)" x="0" y="0" font-size="29" text-anchor="start" fill="#000">Stress applied to membrane (mN)</text>
<text x="1147.5" y="58.6" font-size="16.5" text-anchor="start" fill="#000" font-weight="normal" >30</text>
<text x="1219" y="107" font-size="16.5" text-anchor="start" fill="#000" font-weight="normal" >20</text>
<text x="1290" y="157.4" font-size="16.5" text-anchor="start" fill="#000" font-weight="normal" >10</text>
<text x="1327" y="191.6" font-size="16.5" text-anchor="start" fill="#000" font-weight="normal" >0</text>
<text x="1327.5" y="242.6" font-size="16.5" text-anchor="start" fill="#000" font-weight="normal" >−5</text>
<text x="1328.7" y="294.3" font-size="16.5" text-anchor="start" fill="#000" font-weight="normal" >−10</text>
<text x="1238" y="347.3" font-size="16.5" text-anchor="start" fill="#000" font-weight="normal" >10</text>
<text x="1144.5" y="383.6" font-size="16.5" text-anchor="start" fill="#000" font-weight="normal" >0</text>
<text x="1040" y="419.8" font-size="16.5" text-anchor="start" fill="#000" font-weight="normal" >−10</text>
<text x="1250.6" y="95.8" font-size="13" text-anchor="start" fill="#000" font-weight="normal" ><tspan font-family="Liberation Serif, serif" font-style="italic" font-size="15.5">μ</tspan><tspan font-size="9.8" dx="0.3">m</tspan></text>
<text x="1363" y="240" font-size="13" text-anchor="start" fill="#000" font-weight="normal" ><tspan font-family="Liberation Serif, serif" font-style="italic" font-size="15.5">μ</tspan><tspan font-size="9.8" dx="0.3">m</tspan></text>
<text x="1164" y="401" font-size="13" text-anchor="start" fill="#000" font-weight="normal" ><tspan font-family="Liberation Serif, serif" font-style="italic" font-size="15.5">μ</tspan><tspan font-size="9.8" dx="0.3">m</tspan></text>
<line x1="853.3" y1="439" x2="853.6" y2="429.5" stroke="#7f97b6" stroke-width="1.3" />
<polygon points="853.6,425.8 851.8,430.2 855.4,430.2" fill="#7f97b6" />
<line x1="853.3" y1="439" x2="847" y2="434.6" stroke="#7fa576" stroke-width="1.3" />
<polygon points="844.4,433 848.6,433.3 846.6,436.4" fill="#7fa576" />
<line x1="853.3" y1="439" x2="862.5" y2="436" stroke="#c23a72" stroke-width="1.3" />
<polygon points="866.2,434.9 861.8,434.2 862.8,437.8" fill="#c23a72" />
<text x="850.6" y="424.1" font-size="11" text-anchor="start" fill="#000" font-weight="normal" >Z</text>
<text x="837.6" y="434.9" font-size="11" text-anchor="start" fill="#000" font-weight="normal" >Y</text>
<text x="868.6" y="436.7" font-size="11" text-anchor="start" fill="#000" font-weight="normal" >X</text>
</svg>
</body></html>
